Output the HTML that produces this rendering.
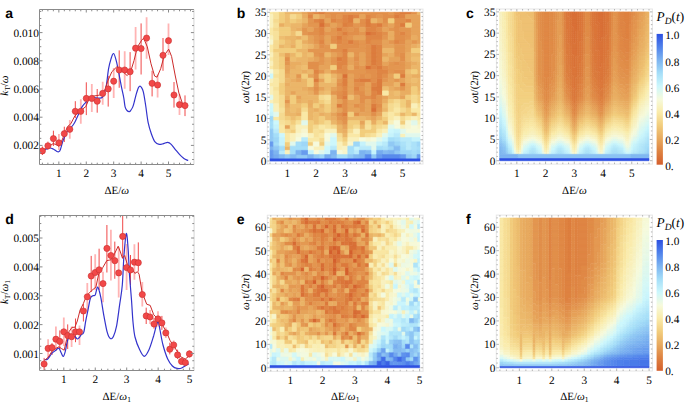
<!DOCTYPE html>
<html><head><meta charset="utf-8"><style>html,body{margin:0;padding:0;background:#fff;}svg{display:block}text{text-rendering:geometricPrecision}</style></head>
<body><svg width="685" height="411" viewBox="0 0 685 411">
<rect width="685" height="411" fill="#fff"/>
<svg x="39.5" y="9.5" width="154.40" height="155.00" viewBox="39.5 9.5 154.40 155.00" overflow="hidden">
<path d="M47.9 141.5V150.0M58.9 134.0V150.0M69.8 120.0V138.7M80.8 99.3V123.7M91.8 84.1V112.1M102.7 81.7V104.8M113.7 68.0V98.0M124.7 51.3V88.7M135.6 27.0V69.6M146.6 17.3V58.7M157.6 74.5V97.6M168.5 23.4V55.0M179.5 94.2V114.9" stroke="#ffb4b4" stroke-width="1.8"/>
<path d="M42.4 146.5V155.0M53.4 130.7V146.0M64.3 126.7V142.0M75.3 101.2V118.0M86.3 82.3V115.1M97.2 89.0V112.7M108.2 76.0V106.6M119.2 50.4V87.8M130.1 52.1V91.2M141.1 23.4V74.5M152.1 70.8V96.4M163.0 38.0V70.8M174.0 82.0V107.6M185.0 95.4V116.1" stroke="#f04848" stroke-width="1.0"/>
<path d="M40.5 152.5C41.0 152.2 42.4 151.3 43.4 150.7C44.4 150.1 45.6 149.4 46.7 149.0C47.8 148.6 48.9 148.0 50.0 148.0C51.1 148.0 52.1 148.5 53.2 149.0C54.3 149.5 55.6 150.7 56.5 151.2C57.4 151.7 58.1 152.1 58.7 151.8C59.4 151.5 59.8 151.2 60.4 149.6C61.0 147.9 61.9 144.1 62.6 141.9C63.3 139.7 64.0 138.2 64.8 136.4C65.6 134.6 66.5 132.4 67.5 131.0C68.5 129.6 69.7 128.9 70.8 127.7C71.9 126.5 73.0 125.3 74.1 123.5C75.2 121.7 75.9 119.8 77.3 117.0C78.7 114.2 80.6 109.2 82.2 106.6C83.8 104.0 85.7 102.6 87.0 101.2C88.3 99.8 88.9 98.7 90.1 98.1C91.3 97.5 92.7 97.5 94.0 97.5C95.3 97.5 96.6 98.0 98.0 98.0C99.4 98.0 101.1 98.5 102.2 97.5C103.3 96.5 104.0 94.1 104.7 92.0C105.4 89.9 105.9 88.5 106.5 84.7C107.1 80.9 107.8 73.4 108.5 69.1C109.2 64.8 110.2 61.5 111.0 58.9C111.8 56.3 112.7 53.2 113.6 53.5C114.5 53.8 115.3 57.4 116.2 60.6C117.1 63.8 117.9 68.2 118.7 72.5C119.5 76.8 120.5 81.8 121.3 86.1C122.1 90.3 123.2 94.5 123.8 98.0C124.4 101.5 124.6 104.8 125.1 106.9C125.6 109.0 126.3 109.7 127.0 110.5C127.7 111.3 128.7 111.8 129.4 111.7C130.1 111.6 130.4 110.8 131.0 110.0C131.6 109.2 132.2 108.4 132.8 106.9C133.4 105.4 133.9 103.3 134.5 101.0C135.1 98.7 135.9 95.2 136.6 92.9C137.3 90.7 137.9 88.6 138.5 87.5C139.1 86.4 139.5 86.1 140.0 86.1C140.5 86.1 140.9 86.5 141.5 87.5C142.1 88.5 142.7 89.2 143.4 92.1C144.1 95.0 144.8 100.0 145.6 105.0C146.4 110.0 147.1 117.4 148.1 122.3C149.1 127.2 150.3 130.9 151.5 134.2C152.7 137.5 153.7 140.2 155.0 141.9C156.3 143.6 157.8 144.1 159.2 144.4C160.6 144.7 162.1 143.9 163.5 143.6C164.9 143.3 166.4 142.3 167.7 142.4C169.0 142.5 169.9 143.2 171.2 144.4C172.5 145.6 174.0 147.9 175.4 149.6C176.8 151.3 178.3 153.2 179.7 154.7C181.1 156.2 182.5 157.4 183.9 158.4C185.3 159.4 187.5 160.2 188.2 160.6" fill="none" stroke="#3333cc" stroke-width="1.2" stroke-linejoin="round"/>
<path d="M42.4 151.2L45.6 148.5L49.5 146.0L53.2 143.6L56.0 144.5L59.0 146.3L60.9 143.0L63.1 137.5L65.3 132.0L67.5 126.6L70.8 123.8L74.9 115.8L81.0 110.3L85.8 106.6L88.9 99.3L91.9 96.3L98.0 95.4L101.6 94.5L105.3 89.0L107.7 81.1L111.9 71.7L117.0 66.6L119.6 68.3L123.8 72.5L127.2 75.6L130.6 71.7L134.0 60.6L137.4 47.0L141.7 40.2L143.6 38.2L147.3 46.8L151.0 63.8L154.6 76.0L157.0 77.2L160.7 68.7L164.3 55.3L168.7 49.2L171.6 56.5L175.3 76.0L178.9 93.0L182.6 103.9L185.0 106.4" fill="none" stroke="#cc2a2a" stroke-width="1.0" stroke-linejoin="round"/>
<circle cx="42.4" cy="150.9" r="3.1" fill="#f24848" stroke="#c83030" stroke-width="0.6"/>
<circle cx="47.9" cy="145.8" r="3.1" fill="#f24848" stroke="#c83030" stroke-width="0.6"/>
<circle cx="53.4" cy="138.6" r="3.1" fill="#f24848" stroke="#c83030" stroke-width="0.6"/>
<circle cx="58.9" cy="142.8" r="3.1" fill="#f24848" stroke="#c83030" stroke-width="0.6"/>
<circle cx="64.3" cy="133.7" r="3.1" fill="#f24848" stroke="#c83030" stroke-width="0.6"/>
<circle cx="69.8" cy="129.3" r="3.1" fill="#f24848" stroke="#c83030" stroke-width="0.6"/>
<circle cx="75.3" cy="111.3" r="3.1" fill="#f24848" stroke="#c83030" stroke-width="0.6"/>
<circle cx="80.8" cy="111.3" r="3.1" fill="#f24848" stroke="#c83030" stroke-width="0.6"/>
<circle cx="86.3" cy="98.4" r="3.1" fill="#f24848" stroke="#c83030" stroke-width="0.6"/>
<circle cx="91.8" cy="98.4" r="3.1" fill="#f24848" stroke="#c83030" stroke-width="0.6"/>
<circle cx="97.2" cy="101.2" r="3.1" fill="#f24848" stroke="#c83030" stroke-width="0.6"/>
<circle cx="102.7" cy="93.4" r="3.1" fill="#f24848" stroke="#c83030" stroke-width="0.6"/>
<circle cx="108.2" cy="88.9" r="3.1" fill="#f24848" stroke="#c83030" stroke-width="0.6"/>
<circle cx="113.7" cy="81.2" r="3.1" fill="#f24848" stroke="#c83030" stroke-width="0.6"/>
<circle cx="119.2" cy="70.0" r="3.1" fill="#f24848" stroke="#c83030" stroke-width="0.6"/>
<circle cx="124.7" cy="70.0" r="3.1" fill="#f24848" stroke="#c83030" stroke-width="0.6"/>
<circle cx="130.1" cy="71.7" r="3.1" fill="#f24848" stroke="#c83030" stroke-width="0.6"/>
<circle cx="135.6" cy="48.2" r="3.1" fill="#f24848" stroke="#c83030" stroke-width="0.6"/>
<circle cx="141.1" cy="48.5" r="3.1" fill="#f24848" stroke="#c83030" stroke-width="0.6"/>
<circle cx="146.6" cy="38.1" r="3.1" fill="#f24848" stroke="#c83030" stroke-width="0.6"/>
<circle cx="152.1" cy="83.3" r="3.1" fill="#f24848" stroke="#c83030" stroke-width="0.6"/>
<circle cx="157.6" cy="85.0" r="3.1" fill="#f24848" stroke="#c83030" stroke-width="0.6"/>
<circle cx="163.0" cy="55.3" r="3.1" fill="#f24848" stroke="#c83030" stroke-width="0.6"/>
<circle cx="168.5" cy="40.7" r="3.1" fill="#f24848" stroke="#c83030" stroke-width="0.6"/>
<circle cx="174.0" cy="95.0" r="3.1" fill="#f24848" stroke="#c83030" stroke-width="0.6"/>
<circle cx="179.5" cy="104.7" r="3.1" fill="#f24848" stroke="#c83030" stroke-width="0.6"/>
<circle cx="185.0" cy="105.6" r="3.1" fill="#f24848" stroke="#c83030" stroke-width="0.6"/>
</svg>
<path d="M193.90 9.50V164.50" stroke="#dcdcdc" stroke-width="1.2" fill="none"/>
<path d="M193.90 9.50H39.50V164.50H193.90" stroke="#8a8a8a" stroke-width="1" fill="none"/>
<path d="M42.40 164.50v-1.8M42.40 9.50v1.8M47.88 164.50v-1.8M47.88 9.50v1.8M53.37 164.50v-1.8M53.37 9.50v1.8M58.85 164.50v-3.0M58.85 9.50v3.0M64.33 164.50v-1.8M64.33 9.50v1.8M69.82 164.50v-1.8M69.82 9.50v1.8M75.30 164.50v-1.8M75.30 9.50v1.8M80.79 164.50v-1.8M80.79 9.50v1.8M86.27 164.50v-3.0M86.27 9.50v3.0M91.75 164.50v-1.8M91.75 9.50v1.8M97.24 164.50v-1.8M97.24 9.50v1.8M102.72 164.50v-1.8M102.72 9.50v1.8M108.21 164.50v-1.8M108.21 9.50v1.8M113.69 164.50v-3.0M113.69 9.50v3.0M119.17 164.50v-1.8M119.17 9.50v1.8M124.66 164.50v-1.8M124.66 9.50v1.8M130.14 164.50v-1.8M130.14 9.50v1.8M135.63 164.50v-1.8M135.63 9.50v1.8M141.11 164.50v-3.0M141.11 9.50v3.0M146.59 164.50v-1.8M146.59 9.50v1.8M152.08 164.50v-1.8M152.08 9.50v1.8M157.56 164.50v-1.8M157.56 9.50v1.8M163.05 164.50v-1.8M163.05 9.50v1.8M168.53 164.50v-3.0M168.53 9.50v3.0M174.01 164.50v-1.8M174.01 9.50v1.8M179.50 164.50v-1.8M179.50 9.50v1.8M184.98 164.50v-1.8M184.98 9.50v1.8M190.47 164.50v-1.8M190.47 9.50v1.8M39.50 159.50h1.8M193.90 159.50h-1.8M39.50 152.45h1.8M193.90 152.45h-1.8M39.50 145.40h3.0M193.90 145.40h-3.0M39.50 138.35h1.8M193.90 138.35h-1.8M39.50 131.30h1.8M193.90 131.30h-1.8M39.50 124.25h1.8M193.90 124.25h-1.8M39.50 117.20h3.0M193.90 117.20h-3.0M39.50 110.15h1.8M193.90 110.15h-1.8M39.50 103.10h1.8M193.90 103.10h-1.8M39.50 96.05h1.8M193.90 96.05h-1.8M39.50 89.00h3.0M193.90 89.00h-3.0M39.50 81.95h1.8M193.90 81.95h-1.8M39.50 74.90h1.8M193.90 74.90h-1.8M39.50 67.85h1.8M193.90 67.85h-1.8M39.50 60.80h3.0M193.90 60.80h-3.0M39.50 53.75h1.8M193.90 53.75h-1.8M39.50 46.70h1.8M193.90 46.70h-1.8M39.50 39.65h1.8M193.90 39.65h-1.8M39.50 32.60h3.0M193.90 32.60h-3.0M39.50 25.55h1.8M193.90 25.55h-1.8M39.50 18.50h1.8M193.90 18.50h-1.8M39.50 11.45h1.8M193.90 11.45h-1.8" stroke="#8a8a8a" stroke-width="1" fill="none"/>
<text x="58.85" y="177.10" font-size="11.3" text-anchor="middle" font-family='"Liberation Serif", serif' >1</text>
<text x="86.27" y="177.10" font-size="11.3" text-anchor="middle" font-family='"Liberation Serif", serif' >2</text>
<text x="113.69" y="177.10" font-size="11.3" text-anchor="middle" font-family='"Liberation Serif", serif' >3</text>
<text x="141.11" y="177.10" font-size="11.3" text-anchor="middle" font-family='"Liberation Serif", serif' >4</text>
<text x="168.53" y="177.10" font-size="11.3" text-anchor="middle" font-family='"Liberation Serif", serif' >5</text>
<text x="38.90" y="149.40" font-size="11.3" text-anchor="end" font-family='"Liberation Serif", serif' >0.002</text>
<text x="38.90" y="121.20" font-size="11.3" text-anchor="end" font-family='"Liberation Serif", serif' >0.004</text>
<text x="38.90" y="93.00" font-size="11.3" text-anchor="end" font-family='"Liberation Serif", serif' >0.006</text>
<text x="38.90" y="64.80" font-size="11.3" text-anchor="end" font-family='"Liberation Serif", serif' >0.008</text>
<text x="38.90" y="36.60" font-size="11.3" text-anchor="end" font-family='"Liberation Serif", serif' >0.010</text>
<svg x="39.5" y="215.5" width="154.60" height="155.00" viewBox="39.5 215.5 154.60 155.00" overflow="hidden">
<path d="M48.1 339.2V357.9M55.9 326.4V351.0M63.8 317.6V346.0M71.6 326.4V347.0M79.5 325.4V345.0M87.3 283.0V311.0M95.2 254.3V290.0M103.0 271.7V302.2M110.9 229.7V280.4M118.7 247.2V297.4M126.6 244.0V290.0M134.4 244.2V279.8M142.3 282.0V306.5M150.1 310.0V324.0M158.0 311.2V326.4M165.8 327.5V338.0M173.7 340.4V349.7M181.5 357.9V364.9M189.4 350.0V358.0" stroke="#ffb4b4" stroke-width="1.8"/>
<path d="M44.1 357.9V372.0M52.0 343.1V355.0M59.8 330.4V349.0M67.7 324.4V349.0M75.5 318.5V342.2M83.4 303.8V321.5M91.2 255.9V292.0M99.1 248.7V290.0M106.9 225.0V272.5M114.8 241.6V278.8M122.7 212.0V258.8M130.5 255.0V285.0M138.3 242.4V271.6M146.2 307.7V324.0M154.0 318.0V328.7M161.9 315.9V329.9M169.8 342.7V354.4M177.6 349.7V359.0M185.4 359.0V366.0" stroke="#f04848" stroke-width="1.0"/>
<path d="M44.6 359.7C45.1 359.6 46.5 360.1 47.7 359.0C48.9 357.9 50.6 354.6 52.0 353.1C53.4 351.6 54.8 351.0 55.9 350.2C57.0 349.4 57.9 347.7 58.8 348.2C59.7 348.7 60.6 351.7 61.3 353.1C62.0 354.5 62.6 356.7 63.2 356.5C63.8 356.3 64.4 354.5 65.1 352.1C65.8 349.8 66.4 345.0 67.1 342.4C67.8 339.8 68.2 337.8 69.0 336.6C69.8 335.4 70.9 334.9 72.0 335.0C73.1 335.1 74.5 336.3 75.4 337.0C76.3 337.7 76.7 338.9 77.3 339.0C77.9 339.1 78.6 338.2 79.3 337.5C80.0 336.8 80.5 335.5 81.2 334.6C81.9 333.8 83.0 334.6 83.7 332.4C84.5 330.1 85.0 324.8 85.7 321.1C86.4 317.4 87.2 313.8 88.0 310.0C88.8 306.2 89.6 300.6 90.4 298.2C91.2 295.8 92.0 296.3 92.8 295.8C93.6 295.3 94.4 296.4 95.2 295.0C96.0 293.6 96.8 286.7 97.7 287.1C98.6 287.5 99.8 292.5 100.8 297.4C101.8 302.3 102.9 310.6 104.0 316.4C105.1 322.2 106.2 328.5 107.2 332.2C108.2 335.9 109.2 337.8 110.3 338.5C111.3 339.2 112.5 338.3 113.5 336.2C114.5 334.1 115.5 331.3 116.6 325.9C117.6 320.5 118.8 310.5 119.8 303.7C120.8 296.9 121.6 293.1 122.3 285.0C123.0 276.9 123.3 263.6 124.0 255.0C124.7 246.4 125.6 234.3 126.3 233.5C127.0 232.7 127.7 243.1 128.2 250.0C128.7 256.9 128.9 266.7 129.5 275.0C130.1 283.3 130.9 292.2 131.5 300.0C132.1 307.8 132.4 315.8 133.0 322.0C133.6 328.2 133.9 332.4 135.0 337.0C136.1 341.6 138.1 346.5 139.7 349.7C141.2 352.9 142.8 356.3 144.3 356.3C145.9 356.3 147.4 353.1 149.0 349.7C150.6 346.3 152.4 339.8 153.7 335.7C154.9 331.6 155.7 327.3 156.5 325.0C157.3 322.7 157.7 320.9 158.3 321.7C158.9 322.5 159.2 326.1 160.0 330.0C160.8 333.9 161.7 340.2 163.0 345.0C164.3 349.8 166.1 355.5 167.7 359.0C169.3 362.5 170.8 364.4 172.4 366.0C174.0 367.6 175.4 368.1 177.0 368.4C178.6 368.7 179.8 368.8 181.7 368.0C183.6 367.2 187.5 364.4 188.7 363.7" fill="none" stroke="#3333cc" stroke-width="1.2" stroke-linejoin="round"/>
<path d="M44.6 360.3L48.3 357.2L52.0 351.2L55.4 348.7L58.8 346.8L61.7 348.7L64.2 350.2L66.6 339.5L69.0 331.7L72.0 327.3L74.9 327.3L77.3 321.0L80.1 310.0L83.3 303.7L86.5 295.8L91.2 291.0L95.9 287.1L98.7 274.0L102.7 267.7L106.8 260.6L111.0 259.8L114.5 253.8L118.2 246.2L120.4 252.0L122.4 258.0L124.7 255.5L127.2 264.0L131.5 268.3L134.9 273.4L137.4 271.7L139.1 274.2L142.0 292.0L146.7 304.2L150.2 305.4L153.7 314.7L158.3 319.4L161.9 324.0L166.5 332.2L170.0 340.4L174.7 347.4L180.5 356.7L185.2 359.0L189.9 355.5" fill="none" stroke="#cc2a2a" stroke-width="1.0" stroke-linejoin="round"/>
<circle cx="44.1" cy="364.0" r="3.1" fill="#f24848" stroke="#c83030" stroke-width="0.6"/>
<circle cx="48.1" cy="348.4" r="3.1" fill="#f24848" stroke="#c83030" stroke-width="0.6"/>
<circle cx="52.0" cy="347.6" r="3.1" fill="#f24848" stroke="#c83030" stroke-width="0.6"/>
<circle cx="55.9" cy="339.2" r="3.1" fill="#f24848" stroke="#c83030" stroke-width="0.6"/>
<circle cx="59.8" cy="341.4" r="3.1" fill="#f24848" stroke="#c83030" stroke-width="0.6"/>
<circle cx="63.8" cy="331.8" r="3.1" fill="#f24848" stroke="#c83030" stroke-width="0.6"/>
<circle cx="67.7" cy="335.6" r="3.1" fill="#f24848" stroke="#c83030" stroke-width="0.6"/>
<circle cx="71.6" cy="336.7" r="3.1" fill="#f24848" stroke="#c83030" stroke-width="0.6"/>
<circle cx="75.5" cy="331.8" r="3.1" fill="#f24848" stroke="#c83030" stroke-width="0.6"/>
<circle cx="79.5" cy="331.8" r="3.1" fill="#f24848" stroke="#c83030" stroke-width="0.6"/>
<circle cx="83.4" cy="311.0" r="3.1" fill="#f24848" stroke="#c83030" stroke-width="0.6"/>
<circle cx="87.3" cy="296.8" r="3.1" fill="#f24848" stroke="#c83030" stroke-width="0.6"/>
<circle cx="91.2" cy="276.0" r="3.1" fill="#f24848" stroke="#c83030" stroke-width="0.6"/>
<circle cx="95.2" cy="272.5" r="3.1" fill="#f24848" stroke="#c83030" stroke-width="0.6"/>
<circle cx="99.1" cy="269.8" r="3.1" fill="#f24848" stroke="#c83030" stroke-width="0.6"/>
<circle cx="103.0" cy="283.6" r="3.1" fill="#f24848" stroke="#c83030" stroke-width="0.6"/>
<circle cx="106.9" cy="248.4" r="3.1" fill="#f24848" stroke="#c83030" stroke-width="0.6"/>
<circle cx="110.9" cy="255.5" r="3.1" fill="#f24848" stroke="#c83030" stroke-width="0.6"/>
<circle cx="114.8" cy="260.7" r="3.1" fill="#f24848" stroke="#c83030" stroke-width="0.6"/>
<circle cx="118.7" cy="272.9" r="3.1" fill="#f24848" stroke="#c83030" stroke-width="0.6"/>
<circle cx="122.7" cy="236.4" r="3.1" fill="#f24848" stroke="#c83030" stroke-width="0.6"/>
<circle cx="126.6" cy="267.6" r="3.1" fill="#f24848" stroke="#c83030" stroke-width="0.6"/>
<circle cx="130.5" cy="270.0" r="3.1" fill="#f24848" stroke="#c83030" stroke-width="0.6"/>
<circle cx="134.4" cy="262.2" r="3.1" fill="#f24848" stroke="#c83030" stroke-width="0.6"/>
<circle cx="138.3" cy="262.7" r="3.1" fill="#f24848" stroke="#c83030" stroke-width="0.6"/>
<circle cx="142.3" cy="294.5" r="3.1" fill="#f24848" stroke="#c83030" stroke-width="0.6"/>
<circle cx="146.2" cy="315.9" r="3.1" fill="#f24848" stroke="#c83030" stroke-width="0.6"/>
<circle cx="150.1" cy="317.0" r="3.1" fill="#f24848" stroke="#c83030" stroke-width="0.6"/>
<circle cx="154.0" cy="324.0" r="3.1" fill="#f24848" stroke="#c83030" stroke-width="0.6"/>
<circle cx="158.0" cy="318.9" r="3.1" fill="#f24848" stroke="#c83030" stroke-width="0.6"/>
<circle cx="161.9" cy="322.9" r="3.1" fill="#f24848" stroke="#c83030" stroke-width="0.6"/>
<circle cx="165.8" cy="332.9" r="3.1" fill="#f24848" stroke="#c83030" stroke-width="0.6"/>
<circle cx="169.8" cy="349.2" r="3.1" fill="#f24848" stroke="#c83030" stroke-width="0.6"/>
<circle cx="173.7" cy="345.0" r="3.1" fill="#f24848" stroke="#c83030" stroke-width="0.6"/>
<circle cx="177.6" cy="354.9" r="3.1" fill="#f24848" stroke="#c83030" stroke-width="0.6"/>
<circle cx="181.5" cy="361.4" r="3.1" fill="#f24848" stroke="#c83030" stroke-width="0.6"/>
<circle cx="185.4" cy="362.6" r="3.1" fill="#f24848" stroke="#c83030" stroke-width="0.6"/>
<circle cx="189.4" cy="353.9" r="3.1" fill="#f24848" stroke="#c83030" stroke-width="0.6"/>
</svg>
<path d="M194.10 215.50V370.50" stroke="#dcdcdc" stroke-width="1.2" fill="none"/>
<path d="M194.10 215.50H39.50V370.50H194.10" stroke="#8a8a8a" stroke-width="1" fill="none"/>
<path d="M44.93 370.50v-1.8M44.93 215.50v1.8M51.22 370.50v-1.8M51.22 215.50v1.8M57.51 370.50v-1.8M57.51 215.50v1.8M63.80 370.50v-3.0M63.80 215.50v3.0M70.09 370.50v-1.8M70.09 215.50v1.8M76.38 370.50v-1.8M76.38 215.50v1.8M82.67 370.50v-1.8M82.67 215.50v1.8M88.96 370.50v-1.8M88.96 215.50v1.8M95.25 370.50v-3.0M95.25 215.50v3.0M101.54 370.50v-1.8M101.54 215.50v1.8M107.83 370.50v-1.8M107.83 215.50v1.8M114.12 370.50v-1.8M114.12 215.50v1.8M120.41 370.50v-1.8M120.41 215.50v1.8M126.70 370.50v-3.0M126.70 215.50v3.0M132.99 370.50v-1.8M132.99 215.50v1.8M139.28 370.50v-1.8M139.28 215.50v1.8M145.57 370.50v-1.8M145.57 215.50v1.8M151.86 370.50v-1.8M151.86 215.50v1.8M158.15 370.50v-3.0M158.15 215.50v3.0M164.44 370.50v-1.8M164.44 215.50v1.8M170.73 370.50v-1.8M170.73 215.50v1.8M177.02 370.50v-1.8M177.02 215.50v1.8M183.31 370.50v-1.8M183.31 215.50v1.8M189.60 370.50v-3.0M189.60 215.50v3.0M39.50 367.94h1.8M194.10 367.94h-1.8M39.50 360.72h1.8M194.10 360.72h-1.8M39.50 353.50h3.0M194.10 353.50h-3.0M39.50 346.28h1.8M194.10 346.28h-1.8M39.50 339.06h1.8M194.10 339.06h-1.8M39.50 331.84h1.8M194.10 331.84h-1.8M39.50 324.62h3.0M194.10 324.62h-3.0M39.50 317.41h1.8M194.10 317.41h-1.8M39.50 310.19h1.8M194.10 310.19h-1.8M39.50 302.97h1.8M194.10 302.97h-1.8M39.50 295.75h3.0M194.10 295.75h-3.0M39.50 288.53h1.8M194.10 288.53h-1.8M39.50 281.31h1.8M194.10 281.31h-1.8M39.50 274.09h1.8M194.10 274.09h-1.8M39.50 266.88h3.0M194.10 266.88h-3.0M39.50 259.66h1.8M194.10 259.66h-1.8M39.50 252.44h1.8M194.10 252.44h-1.8M39.50 245.22h1.8M194.10 245.22h-1.8M39.50 238.00h3.0M194.10 238.00h-3.0M39.50 230.78h1.8M194.10 230.78h-1.8M39.50 223.56h1.8M194.10 223.56h-1.8M39.50 216.34h1.8M194.10 216.34h-1.8" stroke="#8a8a8a" stroke-width="1" fill="none"/>
<text x="63.80" y="383.10" font-size="11.3" text-anchor="middle" font-family='"Liberation Serif", serif' >1</text>
<text x="95.25" y="383.10" font-size="11.3" text-anchor="middle" font-family='"Liberation Serif", serif' >2</text>
<text x="126.70" y="383.10" font-size="11.3" text-anchor="middle" font-family='"Liberation Serif", serif' >3</text>
<text x="158.15" y="383.10" font-size="11.3" text-anchor="middle" font-family='"Liberation Serif", serif' >4</text>
<text x="189.60" y="383.10" font-size="11.3" text-anchor="middle" font-family='"Liberation Serif", serif' >5</text>
<text x="38.90" y="357.50" font-size="11.3" text-anchor="end" font-family='"Liberation Serif", serif' >0.001</text>
<text x="38.90" y="328.62" font-size="11.3" text-anchor="end" font-family='"Liberation Serif", serif' >0.002</text>
<text x="38.90" y="299.75" font-size="11.3" text-anchor="end" font-family='"Liberation Serif", serif' >0.003</text>
<text x="38.90" y="270.88" font-size="11.3" text-anchor="end" font-family='"Liberation Serif", serif' >0.004</text>
<text x="38.90" y="242.00" font-size="11.3" text-anchor="end" font-family='"Liberation Serif", serif' >0.005</text>
<g transform="matrix(2.88462 0 0 -2.12429 270.000 161.000)"><path fill="#d97037" stroke="#d97037" stroke-width="0.3" d="M35 23h2v2h-2zM25 39h2v2h-2zM33 43h2v2h-2zM33 59h2v2h-2zM17 63h2v2h-2z"/><path fill="#dc7c3e" stroke="#dc7c3e" stroke-width="0.3" d="M23 25h2v2h-2zM35 25h2v2h-2zM25 29h2v2h-2zM37 31h2v2h-2zM35 33h4v2h-4zM37 35h2v2h-2zM45 35h2v2h-2zM15 37h2v2h-2zM31 37h4v2h-4zM37 37h2v2h-2zM45 39h2v2h-2zM37 43h2v2h-2zM35 45h2v2h-2zM23 47h2v2h-2zM35 47h2v2h-2zM35 49h2v2h-2zM35 51h2v2h-2zM35 53h2v2h-2zM27 55h2v2h-2zM23 57h2v2h-2zM35 59h2v2h-2zM23 61h2v2h-2zM33 63h2v2h-2zM37 63h2v2h-2zM45 63h2v2h-2zM17 65h2v2h-2zM27 65h2v2h-2zM33 65h2v2h-2zM27 67h2v2h-2zM43 67h2v2h-2zM17 69h2v1h-2zM45 69h4v1h-4z"/><path fill="#dd7f3f" stroke="#dd7f3f" stroke-width="0.3" d="M25 21h2v2h-2zM25 35h2v2h-2zM25 37h2v2h-2zM25 51h2v2h-2zM25 59h2v2h-2zM25 63h2v2h-2z"/><path fill="#df8544" stroke="#df8544" stroke-width="0.3" d="M35 29h2v2h-2zM25 31h2v2h-2zM35 31h2v2h-2zM29 33h2v2h-2zM35 35h2v2h-2zM29 37h2v2h-2zM37 39h2v2h-2zM15 41h2v2h-2zM37 41h4v2h-4zM23 43h2v2h-2zM35 43h2v2h-2zM23 45h4v2h-4zM37 45h2v2h-2zM25 47h2v2h-2zM37 47h2v2h-2zM25 49h2v2h-2zM37 49h2v2h-2zM37 51h2v2h-2zM37 53h2v2h-2zM17 55h2v2h-2zM23 55h2v2h-2zM33 55h2v2h-2zM43 55h2v2h-2zM33 57h6v2h-6zM17 59h2v2h-2zM37 59h2v2h-2zM45 59h2v2h-2zM17 61h2v2h-2zM33 61h4v2h-4zM27 63h2v2h-2zM35 63h2v2h-2zM15 65h2v2h-2zM21 65h2v2h-2zM25 65h2v2h-2zM47 65h2v2h-2zM13 67h2v2h-2zM25 67h2v2h-2zM29 67h2v2h-2zM33 67h2v2h-2zM45 67h2v2h-2zM15 69h2v1h-2zM43 69h2v1h-2z"/><path fill="#e08946" stroke="#e08946" stroke-width="0.3" d="M25 33h2v2h-2z"/><path fill="#e18f4b" stroke="#e18f4b" stroke-width="0.3" d="M25 19h2v2h-2zM23 21h2v2h-2zM29 21h2v2h-2zM35 21h2v2h-2zM25 23h2v2h-2zM25 25h2v2h-2zM29 25h2v2h-2zM37 25h2v2h-2zM25 27h2v2h-2zM31 27h2v2h-2zM35 27h2v2h-2zM23 29h2v2h-2zM31 29h4v2h-4zM23 31h2v2h-2zM29 31h4v2h-4zM15 33h2v2h-2zM23 35h2v2h-2zM29 35h4v2h-4zM35 37h2v2h-2zM15 39h2v2h-2zM31 39h2v2h-2zM35 39h2v2h-2zM39 39h2v2h-2zM23 41h4v2h-4zM33 41h4v2h-4zM43 41h4v2h-4zM13 43h4v2h-4zM25 43h2v2h-2zM29 43h2v2h-2zM39 43h2v2h-2zM13 45h4v2h-4zM33 45h2v2h-2zM43 45h2v2h-2zM5 47h2v2h-2zM29 47h2v2h-2zM33 47h2v2h-2zM45 47h2v2h-2zM17 49h2v2h-2zM33 49h2v2h-2zM45 49h2v2h-2zM21 51h4v2h-4zM33 51h2v2h-2zM17 53h2v2h-2zM23 53h8v2h-8zM33 53h2v2h-2zM21 55h2v2h-2zM25 55h2v2h-2zM29 55h2v2h-2zM35 55h4v2h-4zM45 55h2v2h-2zM17 57h2v2h-2zM21 57h2v2h-2zM25 57h2v2h-2zM43 57h4v2h-4zM13 59h4v2h-4zM23 59h2v2h-2zM27 59h4v2h-4zM39 59h2v2h-2zM43 59h2v2h-2zM15 61h2v2h-2zM25 61h2v2h-2zM29 61h2v2h-2zM37 61h2v2h-2zM43 61h2v2h-2zM19 63h2v2h-2zM31 63h2v2h-2zM43 63h2v2h-2zM23 65h2v2h-2zM31 65h2v2h-2zM39 65h2v2h-2zM43 65h4v2h-4zM21 67h2v2h-2zM35 67h2v2h-2zM39 67h4v2h-4zM13 69h2v1h-2zM19 69h22v1h-22zM49 69h2v1h-2z"/><path fill="#e2934e" stroke="#e2934e" stroke-width="0.3" d="M25 17h2v2h-2z"/><path fill="#e39650" stroke="#e39650" stroke-width="0.3" d="M23 19h2v2h-2zM31 23h2v2h-2zM37 23h2v2h-2zM31 25h2v2h-2zM5 27h2v2h-2zM37 27h2v2h-2zM37 29h2v2h-2zM15 31h2v2h-2zM21 31h2v2h-2zM23 33h2v2h-2zM31 33h2v2h-2zM45 33h2v2h-2zM15 35h2v2h-2zM23 37h2v2h-2zM39 37h2v2h-2zM43 37h2v2h-2zM9 39h2v2h-2zM29 39h2v2h-2zM33 39h2v2h-2zM17 41h2v2h-2zM21 41h2v2h-2zM27 41h6v2h-6zM41 41h2v2h-2zM31 43h2v2h-2zM41 43h6v2h-6zM5 45h2v2h-2zM17 45h2v2h-2zM21 45h2v2h-2zM29 45h2v2h-2zM41 45h2v2h-2zM45 45h2v2h-2zM17 47h2v2h-2zM21 47h2v2h-2zM15 49h2v2h-2zM23 49h2v2h-2zM29 49h2v2h-2zM43 49h2v2h-2zM13 51h8v2h-8zM27 51h6v2h-6zM43 51h4v2h-4zM19 53h2v2h-2zM31 53h2v2h-2zM43 53h4v2h-4zM15 55h2v2h-2zM31 55h2v2h-2zM41 55h2v2h-2zM49 55h2v2h-2zM15 57h2v2h-2zM27 57h2v2h-2zM39 57h2v2h-2zM47 57h2v2h-2zM11 59h2v2h-2zM19 59h4v2h-4zM31 59h2v2h-2zM47 59h2v2h-2zM11 61h2v2h-2zM21 61h2v2h-2zM27 61h2v2h-2zM41 61h2v2h-2zM45 61h4v2h-4zM13 63h4v2h-4zM23 63h2v2h-2zM29 63h2v2h-2zM39 63h2v2h-2zM13 65h2v2h-2zM19 67h2v2h-2zM23 67h2v2h-2zM37 67h2v2h-2zM41 69h2v1h-2z"/><path fill="#e6a35a" stroke="#e6a35a" stroke-width="0.3" d="M5 15h2v2h-2zM25 15h2v2h-2zM23 17h2v2h-2zM31 17h2v2h-2zM35 19h2v2h-2zM21 21h2v2h-2zM31 21h4v2h-4zM37 21h2v2h-2zM23 23h2v2h-2zM27 23h4v2h-4zM33 23h2v2h-2zM27 25h2v2h-2zM33 25h2v2h-2zM23 27h2v2h-2zM27 27h4v2h-4zM33 27h2v2h-2zM9 29h2v2h-2zM29 29h2v2h-2zM39 29h2v2h-2zM45 29h2v2h-2zM7 31h2v2h-2zM27 31h2v2h-2zM33 31h2v2h-2zM13 33h2v2h-2zM17 33h2v2h-2zM21 33h2v2h-2zM27 33h2v2h-2zM33 33h2v2h-2zM43 33h2v2h-2zM27 35h2v2h-2zM33 35h2v2h-2zM39 35h4v2h-4zM9 37h2v2h-2zM17 37h2v2h-2zM27 37h2v2h-2zM41 37h2v2h-2zM45 37h2v2h-2zM13 39h2v2h-2zM23 39h2v2h-2zM27 39h2v2h-2zM41 39h2v2h-2zM5 41h2v2h-2zM5 43h2v2h-2zM17 43h4v2h-4zM47 43h2v2h-2zM19 45h2v2h-2zM27 45h2v2h-2zM31 45h2v2h-2zM39 45h2v2h-2zM47 45h2v2h-2zM15 47h2v2h-2zM19 47h2v2h-2zM27 47h2v2h-2zM31 47h2v2h-2zM41 47h4v2h-4zM5 49h2v2h-2zM21 49h2v2h-2zM31 49h2v2h-2zM39 49h2v2h-2zM47 51h2v2h-2zM15 53h2v2h-2zM39 53h4v2h-4zM47 53h2v2h-2zM13 55h2v2h-2zM19 55h2v2h-2zM39 55h2v2h-2zM47 55h2v2h-2zM51 55h1v2h-1zM13 57h2v2h-2zM19 57h2v2h-2zM29 57h4v2h-4zM51 57h1v2h-1zM49 59h3v2h-3zM13 61h2v2h-2zM19 61h2v2h-2zM31 61h2v2h-2zM39 61h2v2h-2zM49 61h3v2h-3zM11 63h2v2h-2zM21 63h2v2h-2zM41 63h2v2h-2zM49 63h3v2h-3zM19 65h2v2h-2zM37 65h2v2h-2zM49 65h3v2h-3zM17 67h2v2h-2zM31 67h2v2h-2zM47 67h5v2h-5zM11 69h2v1h-2z"/><path fill="#e9ad62" stroke="#e9ad62" stroke-width="0.3" d="M25 13h2v2h-2zM35 17h2v2h-2zM21 19h2v2h-2zM33 19h2v2h-2zM9 21h2v2h-2zM17 21h2v2h-2zM15 23h2v2h-2zM5 25h2v2h-2zM13 25h2v2h-2zM9 27h2v2h-2zM13 27h2v2h-2zM39 27h2v2h-2zM5 29h2v2h-2zM13 31h2v2h-2zM45 31h4v2h-4zM11 33h2v2h-2zM41 33h2v2h-2zM47 33h2v2h-2zM5 35h2v2h-2zM47 35h2v2h-2zM7 37h2v2h-2zM5 39h2v2h-2zM49 39h3v2h-3zM11 41h2v2h-2zM19 41h2v2h-2zM7 43h2v2h-2zM27 43h2v2h-2zM7 45h4v2h-4zM49 45h2v2h-2zM13 47h2v2h-2zM47 47h2v2h-2zM41 49h2v2h-2zM47 49h2v2h-2zM7 53h2v2h-2zM49 53h2v2h-2zM11 55h2v2h-2zM9 57h2v2h-2zM41 57h2v2h-2zM49 57h2v2h-2zM41 59h2v2h-2zM9 61h2v2h-2zM3 63h2v2h-2zM11 67h2v2h-2z"/><path fill="#ebb669" stroke="#ebb669" stroke-width="0.3" d="M5 5h2v2h-2zM25 11h2v2h-2zM23 13h2v2h-2zM23 15h2v2h-2zM31 15h2v2h-2zM21 17h2v2h-2zM39 17h2v2h-2zM13 19h2v2h-2zM19 19h2v2h-2zM27 19h6v2h-6zM37 19h2v2h-2zM5 21h4v2h-4zM13 21h2v2h-2zM19 21h2v2h-2zM45 21h2v2h-2zM49 21h2v2h-2zM5 23h2v2h-2zM9 23h2v2h-2zM13 23h2v2h-2zM21 23h2v2h-2zM39 23h2v2h-2zM17 25h2v2h-2zM21 25h2v2h-2zM47 25h2v2h-2zM11 27h2v2h-2zM15 27h2v2h-2zM21 27h2v2h-2zM47 27h2v2h-2zM11 29h6v2h-6zM21 29h2v2h-2zM41 29h4v2h-4zM5 31h2v2h-2zM9 31h4v2h-4zM17 31h2v2h-2zM41 31h2v2h-2zM5 33h6v2h-6zM19 33h2v2h-2zM51 33h1v2h-1zM7 35h6v2h-6zM17 35h6v2h-6zM43 35h2v2h-2zM49 35h3v2h-3zM5 37h2v2h-2zM11 37h2v2h-2zM47 37h2v2h-2zM51 37h1v2h-1zM7 39h2v2h-2zM21 39h2v2h-2zM47 39h2v2h-2zM7 41h4v2h-4zM13 41h2v2h-2zM51 41h1v2h-1zM9 43h2v2h-2zM49 43h3v2h-3zM11 45h2v2h-2zM51 45h1v2h-1zM9 47h4v2h-4zM39 47h2v2h-2zM7 49h2v2h-2zM11 49h2v2h-2zM19 49h2v2h-2zM27 49h2v2h-2zM49 49h3v2h-3zM9 51h4v2h-4zM39 51h4v2h-4zM3 53h2v2h-2zM13 53h2v2h-2zM51 53h1v2h-1zM7 55h2v2h-2zM5 57h4v2h-4zM7 61h2v2h-2zM7 63h4v2h-4zM11 65h2v2h-2zM29 65h2v2h-2zM35 65h2v2h-2zM15 67h2v2h-2zM5 69h6v1h-6zM51 69h1v1h-1z"/><path fill="#eebe70" stroke="#eebe70" stroke-width="0.3" d="M15 17h2v2h-2zM7 19h2v2h-2zM15 19h2v2h-2zM15 21h2v2h-2zM7 23h2v2h-2zM17 23h2v2h-2zM7 25h4v2h-4zM39 25h2v2h-2zM27 29h2v2h-2zM19 31h2v2h-2zM43 31h2v2h-2zM51 31h1v2h-1zM39 33h2v2h-2zM21 37h2v2h-2zM49 37h2v2h-2zM17 39h2v2h-2zM47 41h2v2h-2zM11 43h2v2h-2zM7 47h2v2h-2zM49 47h3v2h-3zM3 49h2v2h-2zM13 49h2v2h-2zM5 53h2v2h-2zM11 53h2v2h-2zM5 55h2v2h-2zM3 57h2v2h-2zM11 57h2v2h-2zM7 59h2v2h-2zM5 63h2v2h-2zM5 65h2v2h-2zM5 67h2v2h-2z"/><path fill="#efc173" stroke="#efc173" stroke-width="0.3" d="M9 65h2v2h-2z"/><path fill="#f2cd7d" stroke="#f2cd7d" stroke-width="0.3" d="M5 7h2v2h-2zM13 7h2v2h-2zM17 7h2v2h-2zM25 9h2v2h-2zM31 11h2v2h-2zM7 13h2v2h-2zM13 13h2v2h-2zM31 13h6v2h-6zM13 15h2v2h-2zM27 15h2v2h-2zM35 15h2v2h-2zM7 17h2v2h-2zM13 17h2v2h-2zM17 17h2v2h-2zM27 17h4v2h-4zM37 17h2v2h-2zM45 17h2v2h-2zM5 19h2v2h-2zM9 19h2v2h-2zM17 19h2v2h-2zM39 19h2v2h-2zM27 21h2v2h-2zM47 21h2v2h-2zM19 23h2v2h-2zM47 23h2v2h-2zM11 25h2v2h-2zM15 25h2v2h-2zM19 25h2v2h-2zM45 25h2v2h-2zM7 27h2v2h-2zM17 27h2v2h-2zM41 27h2v2h-2zM45 27h2v2h-2zM51 27h1v2h-1zM7 29h2v2h-2zM47 29h2v2h-2zM51 29h1v2h-1zM3 31h2v2h-2zM49 31h2v2h-2zM3 33h2v2h-2zM49 33h2v2h-2zM3 35h2v2h-2zM13 35h2v2h-2zM13 37h2v2h-2zM19 37h2v2h-2zM11 39h2v2h-2zM19 39h2v2h-2zM43 39h2v2h-2zM49 41h2v2h-2zM3 43h2v2h-2zM21 43h2v2h-2zM3 45h2v2h-2zM3 47h2v2h-2zM9 49h2v2h-2zM1 51h8v2h-8zM49 51h3v2h-3zM9 53h2v2h-2zM21 53h2v2h-2zM3 55h2v2h-2zM9 55h2v2h-2zM3 59h4v2h-4zM3 61h4v2h-4zM47 63h2v2h-2zM3 65h2v2h-2zM7 65h2v2h-2zM41 65h2v2h-2zM3 67h2v2h-2zM9 67h2v2h-2zM3 69h2v1h-2z"/><path fill="#f5da90" stroke="#f5da90" stroke-width="0.3" d="M17 9h2v2h-2zM23 11h2v2h-2zM33 11h2v2h-2zM5 13h2v2h-2zM17 13h2v2h-2zM27 13h2v2h-2zM7 15h2v2h-2zM15 15h2v2h-2zM21 15h2v2h-2zM29 15h2v2h-2zM37 15h2v2h-2zM5 17h2v2h-2zM19 17h2v2h-2zM33 17h2v2h-2zM3 19h2v2h-2zM45 19h2v2h-2zM3 21h2v2h-2zM39 21h2v2h-2zM43 21h2v2h-2zM11 23h2v2h-2zM41 23h2v2h-2zM45 23h2v2h-2zM3 25h2v2h-2zM41 25h2v2h-2zM3 27h2v2h-2zM19 27h2v2h-2zM43 27h2v2h-2zM49 27h2v2h-2zM3 29h2v2h-2zM17 29h2v2h-2zM49 29h2v2h-2zM3 37h2v2h-2zM3 39h2v2h-2zM3 41h2v2h-2zM1 43h2v2h-2zM1 45h2v2h-2zM1 47h2v2h-2zM1 49h2v2h-2zM1 53h2v2h-2zM1 55h2v2h-2zM9 59h2v2h-2zM1 61h2v2h-2zM1 65h2v2h-2zM7 67h2v2h-2z"/><path fill="#f6dc94" stroke="#f6dc94" stroke-width="0.3" d="M25 7h2v2h-2z"/><path fill="#f7e19b" stroke="#f7e19b" stroke-width="0.3" d="M23 9h2v2h-2zM15 11h2v2h-2zM35 11h2v2h-2zM15 13h2v2h-2zM19 15h2v2h-2zM33 15h2v2h-2zM39 15h2v2h-2zM3 17h2v2h-2zM9 17h2v2h-2zM51 21h1v2h-1zM3 23h2v2h-2zM43 25h2v2h-2zM51 25h1v2h-1zM19 29h2v2h-2zM1 33h2v2h-2zM1 39h2v2h-2zM1 57h2v2h-2zM1 59h2v2h-2zM1 63h2v2h-2zM1 67h2v2h-2zM1 69h2v1h-2z"/><path fill="#f9e8a6" stroke="#f9e8a6" stroke-width="0.3" d="M5 9h2v2h-2zM13 9h4v2h-4zM5 11h2v2h-2zM17 11h2v2h-2zM27 11h4v2h-4zM3 13h2v2h-2zM37 13h2v2h-2zM3 15h2v2h-2zM17 15h2v2h-2zM1 19h2v2h-2zM11 19h2v2h-2zM41 19h2v2h-2zM47 19h2v2h-2zM51 19h1v2h-1zM11 21h2v2h-2zM41 21h2v2h-2zM43 23h2v2h-2zM49 23h3v2h-3zM1 27h2v2h-2zM1 29h2v2h-2zM1 31h2v2h-2zM39 31h2v2h-2zM0 35h3v2h-3zM1 37h2v2h-2zM1 41h2v2h-2zM0 43h1v2h-1zM0 47h1v2h-1zM0 51h1v2h-1zM0 53h1v2h-1zM0 59h1v2h-1zM0 61h1v2h-1zM0 69h1v1h-1z"/><path fill="#f9f0bb" stroke="#f9f0bb" stroke-width="0.3" d="M5 3h2v2h-2zM15 5h4v2h-4zM23 5h2v2h-2zM23 7h2v2h-2zM7 9h2v2h-2zM27 9h4v2h-4zM7 11h2v2h-2zM13 11h2v2h-2zM37 11h2v2h-2zM45 11h2v2h-2zM9 13h2v2h-2zM19 13h4v2h-4zM29 13h2v2h-2zM39 13h2v2h-2zM9 15h4v2h-4zM45 15h2v2h-2zM41 17h2v2h-2zM51 17h1v2h-1zM43 19h2v2h-2zM49 19h2v2h-2zM1 23h2v2h-2zM1 25h2v2h-2zM49 25h2v2h-2zM0 27h1v2h-1zM0 31h1v2h-1zM0 33h1v2h-1zM0 37h1v2h-1zM0 45h1v2h-1zM0 49h1v2h-1zM0 57h1v2h-1zM0 63h1v2h-1zM0 65h1v2h-1zM0 67h1v2h-1z"/><path fill="#f8f2c3" stroke="#f8f2c3" stroke-width="0.3" d="M25 5h2v2h-2z"/><path fill="#f7f5cb" stroke="#f7f5cb" stroke-width="0.3" d="M25 3h2v2h-2z"/><path fill="#f7f6d0" stroke="#f7f6d0" stroke-width="0.3" d="M27 7h2v2h-2zM33 9h2v2h-2zM9 11h2v2h-2zM11 13h2v2h-2zM47 15h2v2h-2zM51 15h1v2h-1zM47 17h2v2h-2zM0 55h1v2h-1z"/><path fill="#f6fadc" stroke="#f6fadc" stroke-width="0.3" d="M15 3h2v2h-2zM23 3h2v2h-2zM13 5h2v2h-2zM15 7h2v2h-2zM9 9h2v2h-2zM19 9h2v2h-2zM31 9h2v2h-2zM35 9h2v2h-2zM11 11h2v2h-2zM19 11h2v2h-2zM47 13h5v2h-5zM43 15h2v2h-2zM49 15h2v2h-2zM43 17h2v2h-2zM0 41h1v2h-1z"/><path fill="#e1f8ec" stroke="#e1f8ec" stroke-width="0.3" d="M17 3h2v2h-2zM35 5h2v2h-2zM7 7h2v2h-2zM19 7h2v2h-2zM33 7h4v2h-4zM37 9h2v2h-2zM21 11h2v2h-2zM39 11h2v2h-2zM47 11h5v2h-5zM45 13h2v2h-2zM41 15h2v2h-2zM11 17h2v2h-2zM49 17h2v2h-2zM1 21h2v2h-2zM0 29h1v2h-1z"/><path fill="#cdf7fc" stroke="#cdf7fc" stroke-width="0.3" d="M19 3h2v2h-2zM19 5h2v2h-2zM21 7h2v2h-2zM21 9h2v2h-2zM39 9h2v2h-2zM3 11h2v2h-2zM41 13h2v2h-2zM1 17h2v2h-2zM0 23h1v2h-1zM0 25h1v2h-1zM0 39h1v2h-1z"/><path fill="#c6f3fb" stroke="#c6f3fb" stroke-width="0.3" d="M13 3h2v2h-2zM35 3h2v2h-2zM29 5h2v2h-2zM3 7h2v2h-2zM31 7h2v2h-2zM37 7h2v2h-2zM3 9h2v2h-2zM49 9h3v2h-3zM41 11h2v2h-2zM43 13h2v2h-2zM1 15h2v2h-2zM0 21h1v2h-1z"/><path fill="#b9eafa" stroke="#b9eafa" stroke-width="0.3" d="M3 3h2v2h-2zM29 3h2v2h-2zM21 5h2v2h-2zM31 5h4v2h-4zM47 5h2v2h-2zM39 7h2v2h-2zM47 7h2v2h-2zM11 9h2v2h-2zM45 9h4v2h-4zM43 11h2v2h-2zM1 13h2v2h-2z"/><path fill="#ace2f9" stroke="#ace2f9" stroke-width="0.3" d="M39 5h2v2h-2zM49 5h2v2h-2zM45 7h2v2h-2zM49 7h2v2h-2zM43 9h2v2h-2z"/><path fill="#a5def8" stroke="#a5def8" stroke-width="0.3" d="M23 1h4v2h-4zM7 3h2v2h-2zM27 3h2v2h-2zM49 3h2v2h-2zM3 5h2v2h-2zM7 5h6v2h-6zM27 5h2v2h-2zM37 5h2v2h-2zM45 5h2v2h-2zM51 5h1v2h-1zM1 7h2v2h-2zM9 7h2v2h-2zM41 9h2v2h-2zM1 11h2v2h-2zM0 15h1v2h-1zM0 17h1v2h-1z"/><path fill="#9ed7f7" stroke="#9ed7f7" stroke-width="0.3" d="M17 1h2v2h-2zM49 1h2v2h-2zM45 3h4v2h-4zM51 3h1v2h-1zM41 5h2v2h-2zM11 7h2v2h-2zM29 7h2v2h-2zM43 7h2v2h-2zM51 7h1v2h-1zM1 9h2v2h-2zM0 19h1v2h-1z"/><path fill="#91c9f4" stroke="#91c9f4" stroke-width="0.3" d="M5 1h2v2h-2zM9 1h4v2h-4zM15 1h2v2h-2zM27 1h2v2h-2zM35 1h2v2h-2zM47 1h2v2h-2zM43 3h2v2h-2zM1 5h2v2h-2zM41 7h2v2h-2zM0 9h1v2h-1zM0 11h1v2h-1zM0 13h1v2h-1z"/><path fill="#84bbf1" stroke="#84bbf1" stroke-width="0.3" d="M3 1h2v2h-2zM7 1h2v2h-2zM21 1h2v2h-2zM29 1h2v2h-2zM33 3h2v2h-2zM39 3h2v2h-2zM43 5h2v2h-2z"/><path fill="#7db4f0" stroke="#7db4f0" stroke-width="0.3" d="M13 1h2v2h-2zM31 1h2v2h-2zM1 3h2v2h-2zM9 3h2v2h-2zM21 3h2v2h-2zM31 3h2v2h-2zM41 3h2v2h-2zM0 5h1v2h-1z"/><path fill="#76acef" stroke="#76acef" stroke-width="0.3" d="M1 1h2v2h-2zM19 1h2v2h-2zM37 3h2v2h-2z"/><path fill="#679bee" stroke="#679bee" stroke-width="0.3" d="M0 1h1v2h-1zM37 1h2v2h-2zM45 1h2v2h-2zM51 1h1v2h-1zM0 3h1v2h-1zM11 3h2v2h-2zM0 7h1v2h-1z"/><path fill="#588aec" stroke="#588aec" stroke-width="0.3" d="M33 1h2v2h-2zM39 1h6v2h-6z"/><path fill="#2d50e1" stroke="#2d50e1" stroke-width="0.3" d="M0 0h52v1h-52z"/></g>
<rect x="267.30" y="9.10" width="155.70" height="154.90" fill="none" stroke="#e6e6e6" stroke-width="1"/>
<path d="M270.00 164.00v-1.5M270.00 9.10v1.5M275.77 164.00v-1.5M275.77 9.10v1.5M281.54 164.00v-1.5M281.54 9.10v1.5M287.31 164.00v-2.6M287.31 9.10v2.6M293.08 164.00v-1.5M293.08 9.10v1.5M298.85 164.00v-1.5M298.85 9.10v1.5M304.62 164.00v-1.5M304.62 9.10v1.5M310.38 164.00v-1.5M310.38 9.10v1.5M316.15 164.00v-2.6M316.15 9.10v2.6M321.92 164.00v-1.5M321.92 9.10v1.5M327.69 164.00v-1.5M327.69 9.10v1.5M333.46 164.00v-1.5M333.46 9.10v1.5M339.23 164.00v-1.5M339.23 9.10v1.5M345.00 164.00v-2.6M345.00 9.10v2.6M350.77 164.00v-1.5M350.77 9.10v1.5M356.54 164.00v-1.5M356.54 9.10v1.5M362.31 164.00v-1.5M362.31 9.10v1.5M368.08 164.00v-1.5M368.08 9.10v1.5M373.85 164.00v-2.6M373.85 9.10v2.6M379.62 164.00v-1.5M379.62 9.10v1.5M385.38 164.00v-1.5M385.38 9.10v1.5M391.15 164.00v-1.5M391.15 9.10v1.5M396.92 164.00v-1.5M396.92 9.10v1.5M402.69 164.00v-2.6M402.69 9.10v2.6M408.46 164.00v-1.5M408.46 9.10v1.5M414.23 164.00v-1.5M414.23 9.10v1.5M420.00 164.00v-1.5M420.00 9.10v1.5M267.30 161.00h2.6M423.00 161.00h-2.6M267.30 156.75h1.5M423.00 156.75h-1.5M267.30 152.50h1.5M423.00 152.50h-1.5M267.30 148.25h1.5M423.00 148.25h-1.5M267.30 144.01h1.5M423.00 144.01h-1.5M267.30 139.76h2.6M423.00 139.76h-2.6M267.30 135.51h1.5M423.00 135.51h-1.5M267.30 131.26h1.5M423.00 131.26h-1.5M267.30 127.01h1.5M423.00 127.01h-1.5M267.30 122.76h1.5M423.00 122.76h-1.5M267.30 118.51h2.6M423.00 118.51h-2.6M267.30 114.27h1.5M423.00 114.27h-1.5M267.30 110.02h1.5M423.00 110.02h-1.5M267.30 105.77h1.5M423.00 105.77h-1.5M267.30 101.52h1.5M423.00 101.52h-1.5M267.30 97.27h2.6M423.00 97.27h-2.6M267.30 93.02h1.5M423.00 93.02h-1.5M267.30 88.77h1.5M423.00 88.77h-1.5M267.30 84.53h1.5M423.00 84.53h-1.5M267.30 80.28h1.5M423.00 80.28h-1.5M267.30 76.03h2.6M423.00 76.03h-2.6M267.30 71.78h1.5M423.00 71.78h-1.5M267.30 67.53h1.5M423.00 67.53h-1.5M267.30 63.28h1.5M423.00 63.28h-1.5M267.30 59.03h1.5M423.00 59.03h-1.5M267.30 54.79h2.6M423.00 54.79h-2.6M267.30 50.54h1.5M423.00 50.54h-1.5M267.30 46.29h1.5M423.00 46.29h-1.5M267.30 42.04h1.5M423.00 42.04h-1.5M267.30 37.79h1.5M423.00 37.79h-1.5M267.30 33.54h2.6M423.00 33.54h-2.6M267.30 29.29h1.5M423.00 29.29h-1.5M267.30 25.05h1.5M423.00 25.05h-1.5M267.30 20.80h1.5M423.00 20.80h-1.5M267.30 16.55h1.5M423.00 16.55h-1.5M267.30 12.30h2.6M423.00 12.30h-2.6" stroke="#b4b4b4" stroke-width="1" fill="none"/>
<text x="287.31" y="176.60" font-size="11.3" text-anchor="middle" font-family='"Liberation Serif", serif' >1</text>
<text x="316.15" y="176.60" font-size="11.3" text-anchor="middle" font-family='"Liberation Serif", serif' >2</text>
<text x="345.00" y="176.60" font-size="11.3" text-anchor="middle" font-family='"Liberation Serif", serif' >3</text>
<text x="373.85" y="176.60" font-size="11.3" text-anchor="middle" font-family='"Liberation Serif", serif' >4</text>
<text x="402.69" y="176.60" font-size="11.3" text-anchor="middle" font-family='"Liberation Serif", serif' >5</text>
<text x="266.30" y="164.80" font-size="11.3" text-anchor="end" font-family='"Liberation Serif", serif' >0</text>
<text x="266.30" y="143.56" font-size="11.3" text-anchor="end" font-family='"Liberation Serif", serif' >5</text>
<text x="266.30" y="122.31" font-size="11.3" text-anchor="end" font-family='"Liberation Serif", serif' >10</text>
<text x="266.30" y="101.07" font-size="11.3" text-anchor="end" font-family='"Liberation Serif", serif' >15</text>
<text x="266.30" y="79.83" font-size="11.3" text-anchor="end" font-family='"Liberation Serif", serif' >20</text>
<text x="266.30" y="58.59" font-size="11.3" text-anchor="end" font-family='"Liberation Serif", serif' >25</text>
<text x="266.30" y="37.34" font-size="11.3" text-anchor="end" font-family='"Liberation Serif", serif' >30</text>
<text x="266.30" y="16.10" font-size="11.3" text-anchor="end" font-family='"Liberation Serif", serif' >35</text>
<g transform="matrix(1.99200 0 0 -2.12571 499.600 160.700)"><path fill="#d86e35" stroke="#d86e35" stroke-width="0.3" d="M37 69h1v1h-1z"/><path fill="#d97037" stroke="#d97037" stroke-width="0.3" d="M37 55h1v1h-1zM37 56h1v1h-1zM50 56h1v1h-1zM37 57h1v1h-1zM50 57h1v1h-1zM37 58h1v1h-1zM50 58h2v1h-2zM37 59h1v1h-1zM50 59h2v1h-2zM37 60h1v1h-1zM50 60h2v1h-2zM37 61h2v1h-2zM50 61h2v1h-2zM37 62h2v1h-2zM50 62h2v1h-2zM36 63h3v1h-3zM50 63h2v1h-2zM36 64h3v1h-3zM50 64h2v1h-2zM36 65h3v1h-3zM49 65h3v1h-3zM36 66h3v1h-3zM49 66h3v1h-3zM36 67h3v1h-3zM49 67h3v1h-3zM36 68h3v1h-3zM49 68h3v1h-3zM36 69h1v1h-1zM38 69h1v1h-1zM49 69h3v1h-3z"/><path fill="#da7339" stroke="#da7339" stroke-width="0.3" d="M37 44h1v1h-1zM50 44h1v1h-1zM37 45h1v1h-1zM50 45h1v1h-1zM37 46h1v1h-1zM50 46h2v1h-2zM37 47h1v1h-1zM50 47h2v1h-2zM37 48h1v1h-1zM50 48h2v1h-2zM37 49h2v1h-2zM50 49h2v1h-2zM36 50h3v1h-3zM50 50h2v1h-2zM36 51h3v1h-3zM50 51h2v1h-2zM36 52h3v1h-3zM49 52h3v1h-3zM36 53h3v1h-3zM49 53h3v1h-3zM36 54h3v1h-3zM49 54h3v1h-3zM36 55h1v1h-1zM38 55h1v1h-1zM49 55h3v1h-3zM36 56h1v1h-1zM38 56h1v1h-1zM49 56h1v1h-1zM51 56h1v1h-1zM36 57h1v1h-1zM38 57h1v1h-1zM49 57h1v1h-1zM51 57h1v1h-1zM36 58h1v1h-1zM38 58h1v1h-1zM49 58h1v1h-1zM52 58h1v1h-1zM36 59h1v1h-1zM38 59h1v1h-1zM49 59h1v1h-1zM52 59h1v1h-1zM36 60h1v1h-1zM38 60h1v1h-1zM49 60h1v1h-1zM52 60h1v1h-1zM36 61h1v1h-1zM39 61h1v1h-1zM49 61h1v1h-1zM52 61h1v1h-1zM36 62h1v1h-1zM39 62h1v1h-1zM49 62h1v1h-1zM52 62h1v1h-1zM39 63h1v1h-1zM49 63h1v1h-1zM52 63h1v1h-1zM39 64h1v1h-1zM48 64h2v1h-2zM52 64h1v1h-1zM39 65h1v1h-1zM48 65h1v1h-1zM52 65h1v1h-1zM39 66h1v1h-1zM48 66h1v1h-1zM52 66h1v1h-1zM35 67h1v1h-1zM39 67h1v1h-1zM48 67h1v1h-1zM52 67h1v1h-1zM35 68h1v1h-1zM39 68h1v1h-1zM48 68h1v1h-1zM52 68h1v1h-1zM35 69h1v1h-1zM39 69h1v1h-1zM48 69h1v1h-1zM52 69h1v1h-1z"/><path fill="#db763a" stroke="#db763a" stroke-width="0.3" d="M37 34h1v1h-1zM37 35h1v1h-1zM37 36h1v1h-1zM37 37h1v1h-1zM50 37h1v1h-1zM37 38h1v1h-1zM50 38h2v1h-2zM37 39h2v1h-2zM50 39h2v1h-2zM36 40h3v1h-3zM50 40h2v1h-2zM36 41h3v1h-3zM50 41h2v1h-2zM36 42h3v1h-3zM49 42h3v1h-3zM36 43h3v1h-3zM49 43h3v1h-3zM36 44h1v1h-1zM38 44h1v1h-1zM49 44h1v1h-1zM51 44h1v1h-1zM36 45h1v1h-1zM38 45h1v1h-1zM49 45h1v1h-1zM51 45h1v1h-1zM36 46h1v1h-1zM38 46h1v1h-1zM49 46h1v1h-1zM52 46h1v1h-1zM36 47h1v1h-1zM38 47h1v1h-1zM49 47h1v1h-1zM52 47h1v1h-1zM36 48h1v1h-1zM38 48h1v1h-1zM49 48h1v1h-1zM52 48h1v1h-1zM36 49h1v1h-1zM39 49h1v1h-1zM49 49h1v1h-1zM52 49h1v1h-1zM39 50h1v1h-1zM49 50h1v1h-1zM52 50h1v1h-1zM39 51h1v1h-1zM49 51h1v1h-1zM52 51h1v1h-1zM39 52h1v1h-1zM48 52h1v1h-1zM52 52h1v1h-1zM39 53h1v1h-1zM48 53h1v1h-1zM52 53h1v1h-1zM35 54h1v1h-1zM39 54h1v1h-1zM48 54h1v1h-1zM52 54h1v1h-1zM35 55h1v1h-1zM39 55h1v1h-1zM48 55h1v1h-1zM52 55h1v1h-1zM35 56h1v1h-1zM39 56h2v1h-2zM48 56h1v1h-1zM52 56h1v1h-1zM35 57h1v1h-1zM39 57h2v1h-2zM47 57h2v1h-2zM52 57h1v1h-1zM35 58h1v1h-1zM39 58h2v1h-2zM47 58h2v1h-2zM35 59h1v1h-1zM39 59h2v1h-2zM47 59h2v1h-2zM53 59h1v1h-1zM35 60h1v1h-1zM39 60h2v1h-2zM47 60h2v1h-2zM53 60h1v1h-1zM35 61h1v1h-1zM40 61h1v1h-1zM47 61h2v1h-2zM53 61h1v1h-1zM35 62h1v1h-1zM40 62h1v1h-1zM47 62h2v1h-2zM53 62h1v1h-1zM35 63h1v1h-1zM40 63h1v1h-1zM47 63h2v1h-2zM53 63h1v1h-1zM35 64h1v1h-1zM40 64h1v1h-1zM47 64h1v1h-1zM53 64h1v1h-1zM35 65h1v1h-1zM40 65h1v1h-1zM47 65h1v1h-1zM53 65h2v1h-2zM35 66h1v1h-1zM40 66h1v1h-1zM47 66h1v1h-1zM53 66h2v1h-2zM40 67h1v1h-1zM47 67h1v1h-1zM53 67h2v1h-2zM34 68h1v1h-1zM40 68h1v1h-1zM47 68h1v1h-1zM53 68h2v1h-2zM34 69h1v1h-1zM40 69h1v1h-1zM47 69h1v1h-1zM53 69h2v1h-2z"/><path fill="#dc793c" stroke="#dc793c" stroke-width="0.3" d="M37 29h1v1h-1zM37 30h1v1h-1zM37 31h1v1h-1zM37 32h1v1h-1zM37 33h2v1h-2zM50 33h1v1h-1zM36 34h1v1h-1zM38 34h1v1h-1zM50 34h2v1h-2zM36 35h1v1h-1zM38 35h1v1h-1zM50 35h2v1h-2zM36 36h1v1h-1zM38 36h1v1h-1zM50 36h2v1h-2zM36 37h1v1h-1zM38 37h1v1h-1zM49 37h1v1h-1zM51 37h1v1h-1zM36 38h1v1h-1zM38 38h1v1h-1zM49 38h1v1h-1zM36 39h1v1h-1zM49 39h1v1h-1zM52 39h1v1h-1zM39 40h1v1h-1zM49 40h1v1h-1zM52 40h1v1h-1zM39 41h1v1h-1zM49 41h1v1h-1zM52 41h1v1h-1zM39 42h1v1h-1zM48 42h1v1h-1zM52 42h1v1h-1zM35 43h1v1h-1zM39 43h1v1h-1zM48 43h1v1h-1zM52 43h1v1h-1zM35 44h1v1h-1zM39 44h1v1h-1zM48 44h1v1h-1zM52 44h1v1h-1zM35 45h1v1h-1zM39 45h1v1h-1zM48 45h1v1h-1zM52 45h1v1h-1zM35 46h1v1h-1zM39 46h2v1h-2zM47 46h2v1h-2zM35 47h1v1h-1zM39 47h2v1h-2zM47 47h2v1h-2zM35 48h1v1h-1zM39 48h2v1h-2zM47 48h2v1h-2zM53 48h1v1h-1zM35 49h1v1h-1zM40 49h1v1h-1zM47 49h2v1h-2zM53 49h1v1h-1zM35 50h1v1h-1zM40 50h1v1h-1zM47 50h2v1h-2zM53 50h1v1h-1zM35 51h1v1h-1zM40 51h1v1h-1zM47 51h2v1h-2zM53 51h1v1h-1zM35 52h1v1h-1zM40 52h1v1h-1zM47 52h1v1h-1zM53 52h2v1h-2zM35 53h1v1h-1zM40 53h1v1h-1zM47 53h1v1h-1zM53 53h2v1h-2zM40 54h1v1h-1zM47 54h1v1h-1zM53 54h2v1h-2zM34 55h1v1h-1zM40 55h1v1h-1zM47 55h1v1h-1zM53 55h2v1h-2zM34 56h1v1h-1zM41 56h1v1h-1zM47 56h1v1h-1zM53 56h2v1h-2zM34 57h1v1h-1zM41 57h1v1h-1zM53 57h2v1h-2zM34 58h1v1h-1zM41 58h1v1h-1zM53 58h2v1h-2zM34 59h1v1h-1zM41 59h1v1h-1zM54 59h1v1h-1zM34 60h1v1h-1zM41 60h1v1h-1zM54 60h1v1h-1zM34 61h1v1h-1zM41 61h1v1h-1zM46 61h1v1h-1zM54 61h1v1h-1zM33 62h2v1h-2zM41 62h1v1h-1zM46 62h1v1h-1zM54 62h1v1h-1zM33 63h2v1h-2zM41 63h1v1h-1zM46 63h1v1h-1zM54 63h1v1h-1zM33 64h2v1h-2zM41 64h1v1h-1zM46 64h1v1h-1zM54 64h1v1h-1zM33 65h2v1h-2zM41 65h1v1h-1zM46 65h1v1h-1zM33 66h2v1h-2zM41 66h1v1h-1zM46 66h1v1h-1zM33 67h2v1h-2zM41 67h1v1h-1zM46 67h1v1h-1zM33 68h1v1h-1zM41 68h1v1h-1zM46 68h1v1h-1zM33 69h1v1h-1zM41 69h1v1h-1zM46 69h1v1h-1z"/><path fill="#dc7c3e" stroke="#dc7c3e" stroke-width="0.3" d="M37 27h1v1h-1zM37 28h1v1h-1zM36 29h1v1h-1zM38 29h1v1h-1zM36 30h1v1h-1zM38 30h1v1h-1zM50 30h2v1h-2zM36 31h1v1h-1zM38 31h1v1h-1zM50 31h2v1h-2zM36 32h1v1h-1zM38 32h1v1h-1zM50 32h2v1h-2zM36 33h1v1h-1zM51 33h1v1h-1zM49 34h1v1h-1zM49 35h1v1h-1zM39 36h1v1h-1zM49 36h1v1h-1zM52 36h1v1h-1zM39 37h1v1h-1zM52 37h1v1h-1zM35 38h1v1h-1zM39 38h1v1h-1zM48 38h1v1h-1zM52 38h1v1h-1zM35 39h1v1h-1zM39 39h2v1h-2zM47 39h2v1h-2zM35 40h1v1h-1zM40 40h1v1h-1zM47 40h2v1h-2zM53 40h1v1h-1zM35 41h1v1h-1zM40 41h1v1h-1zM47 41h2v1h-2zM53 41h1v1h-1zM35 42h1v1h-1zM40 42h1v1h-1zM47 42h1v1h-1zM53 42h1v1h-1zM40 43h1v1h-1zM47 43h1v1h-1zM53 43h2v1h-2zM40 44h1v1h-1zM47 44h1v1h-1zM53 44h2v1h-2zM34 45h1v1h-1zM40 45h1v1h-1zM47 45h1v1h-1zM53 45h2v1h-2zM34 46h1v1h-1zM53 46h2v1h-2zM34 47h1v1h-1zM41 47h1v1h-1zM53 47h2v1h-2zM34 48h1v1h-1zM41 48h1v1h-1zM54 48h1v1h-1zM34 49h1v1h-1zM41 49h1v1h-1zM54 49h1v1h-1zM33 50h2v1h-2zM41 50h1v1h-1zM46 50h1v1h-1zM54 50h1v1h-1zM33 51h2v1h-2zM41 51h1v1h-1zM46 51h1v1h-1zM54 51h1v1h-1zM33 52h2v1h-2zM41 52h1v1h-1zM46 52h1v1h-1zM33 53h2v1h-2zM41 53h1v1h-1zM46 53h1v1h-1zM33 54h2v1h-2zM41 54h1v1h-1zM46 54h1v1h-1zM33 55h1v1h-1zM41 55h1v1h-1zM46 55h1v1h-1zM33 56h1v1h-1zM46 56h1v1h-1zM33 57h1v1h-1zM46 57h1v1h-1zM33 58h1v1h-1zM46 58h1v1h-1zM33 59h1v1h-1zM46 59h1v1h-1zM33 60h1v1h-1zM46 60h1v1h-1zM33 61h1v1h-1z"/><path fill="#dd7f3f" stroke="#dd7f3f" stroke-width="0.3" d="M37 26h1v1h-1zM36 28h1v1h-1zM38 28h1v1h-1zM50 28h1v1h-1zM50 29h2v1h-2zM49 31h1v1h-1zM39 32h1v1h-1zM49 32h1v1h-1zM39 33h1v1h-1zM49 33h1v1h-1zM39 34h1v1h-1zM52 34h1v1h-1zM35 35h1v1h-1zM39 35h1v1h-1zM48 35h1v1h-1zM52 35h1v1h-1zM35 36h1v1h-1zM40 36h1v1h-1zM48 36h1v1h-1zM35 37h1v1h-1zM40 37h1v1h-1zM47 37h2v1h-2zM40 38h1v1h-1zM47 38h1v1h-1zM53 38h1v1h-1zM34 39h1v1h-1zM41 39h1v1h-1zM53 39h2v1h-2zM34 40h1v1h-1zM41 40h1v1h-1zM54 40h1v1h-1zM33 41h2v1h-2zM41 41h1v1h-1zM46 41h1v1h-1zM54 41h1v1h-1zM33 42h2v1h-2zM41 42h1v1h-1zM46 42h1v1h-1zM54 42h1v1h-1zM33 43h2v1h-2zM41 43h1v1h-1zM46 43h1v1h-1zM33 44h2v1h-2zM41 44h1v1h-1zM46 44h1v1h-1zM33 45h1v1h-1zM41 45h1v1h-1zM46 45h1v1h-1zM33 46h1v1h-1zM41 46h1v1h-1zM46 46h1v1h-1zM33 47h1v1h-1zM46 47h1v1h-1zM33 48h1v1h-1zM46 48h1v1h-1zM33 49h1v1h-1zM46 49h1v1h-1zM55 58h1v1h-1zM55 59h1v1h-1zM55 60h1v1h-1zM55 61h1v1h-1zM55 62h1v1h-1zM55 63h1v1h-1zM55 64h1v1h-1zM55 65h1v1h-1zM55 66h1v1h-1zM55 67h1v1h-1zM55 68h1v1h-1zM55 69h1v1h-1z"/><path fill="#de8241" stroke="#de8241" stroke-width="0.3" d="M37 25h1v1h-1zM36 27h1v1h-1zM38 27h1v1h-1zM50 27h2v1h-2zM51 28h1v1h-1zM49 29h1v1h-1zM39 30h1v1h-1zM49 30h1v1h-1zM39 31h1v1h-1zM52 31h1v1h-1zM35 32h1v1h-1zM48 32h1v1h-1zM52 32h1v1h-1zM35 33h1v1h-1zM40 33h1v1h-1zM48 33h1v1h-1zM52 33h1v1h-1zM35 34h1v1h-1zM40 34h1v1h-1zM47 34h2v1h-2zM40 35h1v1h-1zM47 35h1v1h-1zM41 36h1v1h-1zM47 36h1v1h-1zM53 36h1v1h-1zM34 37h1v1h-1zM41 37h1v1h-1zM53 37h2v1h-2zM33 38h2v1h-2zM41 38h1v1h-1zM46 38h1v1h-1zM54 38h1v1h-1zM33 39h1v1h-1zM46 39h1v1h-1zM33 40h1v1h-1zM46 40h1v1h-1zM55 49h1v1h-1zM55 50h1v1h-1zM55 51h1v1h-1zM55 52h1v1h-1zM55 53h1v1h-1zM55 54h1v1h-1zM55 55h1v1h-1zM55 56h1v1h-1zM55 57h1v1h-1zM63 57h2v1h-2zM63 58h2v1h-2zM63 59h2v1h-2zM42 60h1v1h-1zM63 60h2v1h-2zM42 61h1v1h-1zM63 61h2v1h-2zM42 62h1v1h-1zM63 62h2v1h-2zM42 63h1v1h-1zM45 63h1v1h-1zM63 63h2v1h-2zM42 64h1v1h-1zM45 64h1v1h-1zM63 64h2v1h-2zM42 65h1v1h-1zM45 65h1v1h-1zM62 65h3v1h-3zM32 66h1v1h-1zM42 66h1v1h-1zM45 66h1v1h-1zM62 66h3v1h-3zM32 67h1v1h-1zM42 67h1v1h-1zM45 67h1v1h-1zM62 67h3v1h-3zM32 68h1v1h-1zM42 68h1v1h-1zM45 68h1v1h-1zM62 68h3v1h-3zM32 69h1v1h-1zM42 69h1v1h-1zM45 69h1v1h-1zM62 69h3v1h-3z"/><path fill="#df8544" stroke="#df8544" stroke-width="0.3" d="M37 23h1v1h-1zM37 24h1v1h-1zM38 25h1v1h-1zM36 26h1v1h-1zM38 26h1v1h-1zM50 26h2v1h-2zM39 28h1v1h-1zM49 28h1v1h-1zM35 29h1v1h-1zM39 29h1v1h-1zM52 29h1v1h-1zM35 30h1v1h-1zM40 30h1v1h-1zM48 30h1v1h-1zM52 30h1v1h-1zM35 31h1v1h-1zM40 31h1v1h-1zM48 31h1v1h-1zM40 32h1v1h-1zM47 32h1v1h-1zM41 33h1v1h-1zM47 33h1v1h-1zM34 34h1v1h-1zM41 34h1v1h-1zM53 34h1v1h-1zM34 35h1v1h-1zM41 35h1v1h-1zM46 35h1v1h-1zM53 35h2v1h-2zM33 36h2v1h-2zM46 36h1v1h-1zM54 36h1v1h-1zM33 37h1v1h-1zM46 37h1v1h-1zM55 40h1v1h-1zM55 41h1v1h-1zM55 42h1v1h-1zM55 43h1v1h-1zM55 44h1v1h-1zM55 45h1v1h-1zM55 46h1v1h-1zM55 47h1v1h-1zM55 48h1v1h-1zM42 50h1v1h-1zM42 51h1v1h-1zM63 51h2v1h-2zM42 52h1v1h-1zM45 52h1v1h-1zM63 52h2v1h-2zM32 53h1v1h-1zM42 53h1v1h-1zM45 53h1v1h-1zM62 53h3v1h-3zM32 54h1v1h-1zM42 54h1v1h-1zM45 54h1v1h-1zM62 54h3v1h-3zM32 55h1v1h-1zM42 55h1v1h-1zM45 55h1v1h-1zM62 55h3v1h-3zM32 56h1v1h-1zM42 56h1v1h-1zM45 56h1v1h-1zM62 56h3v1h-3zM32 57h1v1h-1zM42 57h1v1h-1zM45 57h1v1h-1zM62 57h1v1h-1zM32 58h1v1h-1zM42 58h1v1h-1zM45 58h1v1h-1zM61 58h2v1h-2zM32 59h1v1h-1zM42 59h1v1h-1zM45 59h1v1h-1zM61 59h2v1h-2zM32 60h1v1h-1zM45 60h1v1h-1zM61 60h2v1h-2zM32 61h1v1h-1zM45 61h1v1h-1zM61 61h2v1h-2zM32 62h1v1h-1zM45 62h1v1h-1zM60 62h3v1h-3zM32 63h1v1h-1zM60 63h3v1h-3zM32 64h1v1h-1zM60 64h3v1h-3zM65 64h1v1h-1zM32 65h1v1h-1zM60 65h2v1h-2zM65 65h1v1h-1zM60 66h2v1h-2zM65 66h1v1h-1zM60 67h2v1h-2zM65 67h1v1h-1zM60 68h2v1h-2zM65 68h1v1h-1zM60 69h2v1h-2zM65 69h1v1h-1z"/><path fill="#e08946" stroke="#e08946" stroke-width="0.3" d="M37 22h1v1h-1zM38 24h1v1h-1zM36 25h1v1h-1zM50 25h2v1h-2zM39 27h1v1h-1zM49 27h1v1h-1zM35 28h1v1h-1zM52 28h1v1h-1zM40 29h1v1h-1zM48 29h1v1h-1zM41 30h1v1h-1zM47 30h1v1h-1zM41 31h1v1h-1zM47 31h1v1h-1zM34 32h1v1h-1zM41 32h1v1h-1zM53 32h1v1h-1zM34 33h1v1h-1zM46 33h1v1h-1zM53 33h2v1h-2zM23 34h1v1h-1zM33 34h1v1h-1zM46 34h1v1h-1zM54 34h1v1h-1zM23 35h1v1h-1zM33 35h1v1h-1zM23 36h1v1h-1zM23 37h1v1h-1zM23 38h1v1h-1zM55 38h1v1h-1zM22 39h3v1h-3zM55 39h1v1h-1zM22 40h3v1h-3zM22 41h3v1h-3zM22 42h3v1h-3zM22 43h3v1h-3zM42 43h1v1h-1zM22 44h3v1h-3zM42 44h1v1h-1zM22 45h3v1h-3zM42 45h1v1h-1zM45 45h1v1h-1zM22 46h3v1h-3zM32 46h1v1h-1zM42 46h1v1h-1zM45 46h1v1h-1zM22 47h3v1h-3zM32 47h1v1h-1zM42 47h1v1h-1zM45 47h1v1h-1zM63 47h2v1h-2zM22 48h3v1h-3zM32 48h1v1h-1zM42 48h1v1h-1zM45 48h1v1h-1zM63 48h2v1h-2zM22 49h3v1h-3zM32 49h1v1h-1zM42 49h1v1h-1zM45 49h1v1h-1zM62 49h3v1h-3zM22 50h3v1h-3zM32 50h1v1h-1zM45 50h1v1h-1zM62 50h3v1h-3zM22 51h3v1h-3zM32 51h1v1h-1zM45 51h1v1h-1zM61 51h2v1h-2zM22 52h3v1h-3zM32 52h1v1h-1zM60 52h3v1h-3zM22 53h3v1h-3zM60 53h2v1h-2zM22 54h3v1h-3zM60 54h2v1h-2zM22 55h3v1h-3zM60 55h2v1h-2zM22 56h3v1h-3zM60 56h2v1h-2zM65 56h1v1h-1zM22 57h3v1h-3zM60 57h2v1h-2zM65 57h1v1h-1zM22 58h3v1h-3zM60 58h1v1h-1zM65 58h1v1h-1zM22 59h3v1h-3zM60 59h1v1h-1zM65 59h1v1h-1zM22 60h3v1h-3zM60 60h1v1h-1zM65 60h1v1h-1zM22 61h3v1h-3zM60 61h1v1h-1zM65 61h1v1h-1zM22 62h3v1h-3zM65 62h1v1h-1zM22 63h3v1h-3zM65 63h1v1h-1zM22 64h3v1h-3zM22 65h3v1h-3zM22 66h3v1h-3zM22 67h3v1h-3zM22 68h3v1h-3zM22 69h3v1h-3z"/><path fill="#e08c48" stroke="#e08c48" stroke-width="0.3" d="M37 21h1v1h-1zM36 23h1v1h-1zM38 23h1v1h-1zM36 24h1v1h-1zM50 24h2v1h-2zM49 26h1v1h-1zM35 27h1v1h-1zM52 27h1v1h-1zM23 28h1v1h-1zM40 28h1v1h-1zM48 28h1v1h-1zM23 29h1v1h-1zM41 29h1v1h-1zM47 29h1v1h-1zM23 30h1v1h-1zM34 30h1v1h-1zM46 30h1v1h-1zM53 30h1v1h-1zM23 31h1v1h-1zM33 31h2v1h-2zM46 31h1v1h-1zM53 31h2v1h-2zM23 32h1v1h-1zM33 32h1v1h-1zM46 32h1v1h-1zM54 32h1v1h-1zM22 33h3v1h-3zM33 33h1v1h-1zM22 34h1v1h-1zM24 34h1v1h-1zM22 35h1v1h-1zM24 35h1v1h-1zM22 36h1v1h-1zM24 36h1v1h-1zM55 36h1v1h-1zM22 37h1v1h-1zM24 37h1v1h-1zM55 37h1v1h-1zM22 38h1v1h-1zM24 38h1v1h-1zM42 38h1v1h-1zM25 39h1v1h-1zM32 39h1v1h-1zM42 39h1v1h-1zM45 39h1v1h-1zM25 40h1v1h-1zM32 40h1v1h-1zM42 40h1v1h-1zM45 40h1v1h-1zM25 41h1v1h-1zM32 41h1v1h-1zM42 41h1v1h-1zM45 41h1v1h-1zM25 42h1v1h-1zM32 42h1v1h-1zM42 42h1v1h-1zM45 42h1v1h-1zM25 43h1v1h-1zM32 43h1v1h-1zM45 43h1v1h-1zM63 43h2v1h-2zM25 44h1v1h-1zM32 44h1v1h-1zM45 44h1v1h-1zM63 44h2v1h-2zM25 45h1v1h-1zM32 45h1v1h-1zM62 45h3v1h-3zM25 46h1v1h-1zM62 46h3v1h-3zM25 47h1v1h-1zM61 47h2v1h-2zM25 48h1v1h-1zM60 48h3v1h-3zM25 49h1v1h-1zM60 49h2v1h-2zM25 50h2v1h-2zM60 50h2v1h-2zM25 51h2v1h-2zM60 51h1v1h-1zM65 51h1v1h-1zM21 52h1v1h-1zM25 52h2v1h-2zM65 52h1v1h-1zM21 53h1v1h-1zM25 53h2v1h-2zM65 53h1v1h-1zM21 54h1v1h-1zM25 54h2v1h-2zM65 54h1v1h-1zM21 55h1v1h-1zM25 55h2v1h-2zM65 55h1v1h-1zM21 56h1v1h-1zM25 56h2v1h-2zM21 57h1v1h-1zM25 57h2v1h-2zM21 58h1v1h-1zM25 58h2v1h-2zM43 58h2v1h-2zM21 59h1v1h-1zM25 59h2v1h-2zM43 59h2v1h-2zM59 59h1v1h-1zM21 60h1v1h-1zM25 60h2v1h-2zM43 60h2v1h-2zM59 60h1v1h-1zM21 61h1v1h-1zM25 61h2v1h-2zM43 61h2v1h-2zM56 61h1v1h-1zM59 61h1v1h-1zM21 62h1v1h-1zM25 62h2v1h-2zM43 62h2v1h-2zM56 62h1v1h-1zM59 62h1v1h-1zM21 63h1v1h-1zM25 63h2v1h-2zM43 63h2v1h-2zM56 63h1v1h-1zM59 63h1v1h-1zM21 64h1v1h-1zM25 64h2v1h-2zM43 64h2v1h-2zM56 64h1v1h-1zM59 64h1v1h-1zM21 65h1v1h-1zM25 65h2v1h-2zM43 65h2v1h-2zM56 65h1v1h-1zM59 65h1v1h-1zM21 66h1v1h-1zM25 66h2v1h-2zM43 66h2v1h-2zM56 66h1v1h-1zM59 66h1v1h-1zM66 66h1v1h-1zM21 67h1v1h-1zM25 67h2v1h-2zM43 67h2v1h-2zM56 67h1v1h-1zM59 67h1v1h-1zM66 67h1v1h-1zM21 68h1v1h-1zM25 68h2v1h-2zM43 68h2v1h-2zM56 68h1v1h-1zM59 68h1v1h-1zM66 68h1v1h-1zM21 69h1v1h-1zM25 69h2v1h-2zM43 69h2v1h-2zM56 69h1v1h-1zM59 69h1v1h-1zM66 69h1v1h-1z"/><path fill="#e18f4b" stroke="#e18f4b" stroke-width="0.3" d="M36 22h1v1h-1zM38 22h1v1h-1zM50 23h2v1h-2zM49 25h1v1h-1zM35 26h1v1h-1zM39 26h1v1h-1zM52 26h1v1h-1zM23 27h1v1h-1zM40 27h1v1h-1zM48 27h1v1h-1zM41 28h1v1h-1zM47 28h1v1h-1zM22 29h1v1h-1zM24 29h1v1h-1zM34 29h1v1h-1zM46 29h1v1h-1zM53 29h1v1h-1zM22 30h1v1h-1zM24 30h1v1h-1zM33 30h1v1h-1zM54 30h1v1h-1zM22 31h1v1h-1zM24 31h1v1h-1zM22 32h1v1h-1zM24 32h1v1h-1zM42 34h1v1h-1zM55 34h1v1h-1zM42 35h1v1h-1zM55 35h1v1h-1zM25 36h1v1h-1zM42 36h1v1h-1zM45 36h1v1h-1zM21 37h1v1h-1zM25 37h1v1h-1zM32 37h1v1h-1zM42 37h1v1h-1zM45 37h1v1h-1zM21 38h1v1h-1zM25 38h2v1h-2zM32 38h1v1h-1zM45 38h1v1h-1zM21 39h1v1h-1zM26 39h1v1h-1zM21 40h1v1h-1zM26 40h1v1h-1zM63 40h2v1h-2zM21 41h1v1h-1zM26 41h1v1h-1zM62 41h3v1h-3zM21 42h1v1h-1zM26 42h2v1h-2zM62 42h3v1h-3zM21 43h1v1h-1zM26 43h2v1h-2zM61 43h2v1h-2zM21 44h1v1h-1zM26 44h2v1h-2zM60 44h3v1h-3zM21 45h1v1h-1zM26 45h2v1h-2zM60 45h2v1h-2zM21 46h1v1h-1zM26 46h2v1h-2zM60 46h2v1h-2zM21 47h1v1h-1zM26 47h2v1h-2zM60 47h1v1h-1zM21 48h1v1h-1zM26 48h2v1h-2zM65 48h1v1h-1zM21 49h1v1h-1zM26 49h2v1h-2zM65 49h1v1h-1zM21 50h1v1h-1zM27 50h1v1h-1zM43 50h2v1h-2zM65 50h1v1h-1zM21 51h1v1h-1zM27 51h1v1h-1zM43 51h2v1h-2zM56 51h1v1h-1zM59 51h1v1h-1zM27 52h1v1h-1zM43 52h2v1h-2zM56 52h1v1h-1zM59 52h1v1h-1zM27 53h1v1h-1zM43 53h2v1h-2zM56 53h1v1h-1zM59 53h1v1h-1zM27 54h1v1h-1zM43 54h2v1h-2zM56 54h1v1h-1zM59 54h1v1h-1zM27 55h1v1h-1zM43 55h2v1h-2zM56 55h1v1h-1zM59 55h1v1h-1zM20 56h1v1h-1zM27 56h1v1h-1zM43 56h2v1h-2zM56 56h1v1h-1zM59 56h1v1h-1zM20 57h1v1h-1zM27 57h1v1h-1zM43 57h2v1h-2zM56 57h1v1h-1zM59 57h1v1h-1zM20 58h1v1h-1zM27 58h1v1h-1zM56 58h1v1h-1zM59 58h1v1h-1zM20 59h1v1h-1zM27 59h1v1h-1zM56 59h1v1h-1zM20 60h1v1h-1zM27 60h1v1h-1zM56 60h1v1h-1zM20 61h1v1h-1zM27 61h1v1h-1zM66 61h1v1h-1zM20 62h1v1h-1zM27 62h1v1h-1zM66 62h1v1h-1zM20 63h1v1h-1zM27 63h1v1h-1zM66 63h1v1h-1zM20 64h1v1h-1zM27 64h1v1h-1zM66 64h1v1h-1zM20 65h1v1h-1zM27 65h1v1h-1zM66 65h1v1h-1zM20 66h1v1h-1zM27 66h1v1h-1zM20 67h1v1h-1zM27 67h1v1h-1zM20 68h1v1h-1zM27 68h1v1h-1zM67 68h1v1h-1zM20 69h1v1h-1zM27 69h1v1h-1zM67 69h1v1h-1z"/><path fill="#e2934e" stroke="#e2934e" stroke-width="0.3" d="M37 20h1v1h-1zM38 21h1v1h-1zM50 22h2v1h-2zM49 24h1v1h-1zM23 25h1v1h-1zM39 25h1v1h-1zM23 26h1v1h-1zM48 26h1v1h-1zM22 27h1v1h-1zM24 27h1v1h-1zM41 27h1v1h-1zM47 27h1v1h-1zM22 28h1v1h-1zM24 28h1v1h-1zM34 28h1v1h-1zM46 28h1v1h-1zM53 28h1v1h-1zM33 29h1v1h-1zM54 29h1v1h-1zM42 31h1v1h-1zM25 32h1v1h-1zM42 32h1v1h-1zM55 32h1v1h-1zM25 33h1v1h-1zM42 33h1v1h-1zM45 33h1v1h-1zM55 33h1v1h-1zM21 34h1v1h-1zM25 34h1v1h-1zM45 34h1v1h-1zM21 35h1v1h-1zM25 35h2v1h-2zM32 35h1v1h-1zM45 35h1v1h-1zM21 36h1v1h-1zM26 36h1v1h-1zM32 36h1v1h-1zM26 37h2v1h-2zM20 38h1v1h-1zM27 38h1v1h-1zM63 38h2v1h-2zM20 39h1v1h-1zM27 39h1v1h-1zM61 39h4v1h-4zM19 40h2v1h-2zM27 40h1v1h-1zM60 40h3v1h-3zM19 41h2v1h-2zM27 41h1v1h-1zM60 41h2v1h-2zM19 42h2v1h-2zM60 42h2v1h-2zM19 43h2v1h-2zM60 43h1v1h-1zM19 44h2v1h-2zM43 44h2v1h-2zM56 44h1v1h-1zM19 45h2v1h-2zM43 45h2v1h-2zM56 45h1v1h-1zM65 45h1v1h-1zM19 46h2v1h-2zM43 46h2v1h-2zM56 46h1v1h-1zM59 46h1v1h-1zM65 46h1v1h-1zM19 47h2v1h-2zM43 47h2v1h-2zM56 47h1v1h-1zM59 47h1v1h-1zM65 47h1v1h-1zM19 48h2v1h-2zM43 48h2v1h-2zM56 48h1v1h-1zM59 48h1v1h-1zM19 49h2v1h-2zM43 49h2v1h-2zM56 49h1v1h-1zM59 49h1v1h-1zM19 50h2v1h-2zM56 50h1v1h-1zM59 50h1v1h-1zM19 51h2v1h-2zM19 52h2v1h-2zM19 53h2v1h-2zM19 54h2v1h-2zM19 55h2v1h-2zM66 55h1v1h-1zM19 56h1v1h-1zM66 56h1v1h-1zM19 57h1v1h-1zM66 57h1v1h-1zM19 58h1v1h-1zM66 58h1v1h-1zM19 59h1v1h-1zM66 59h1v1h-1zM19 60h1v1h-1zM58 60h1v1h-1zM66 60h1v1h-1zM19 61h1v1h-1zM58 61h1v1h-1zM19 62h1v1h-1zM58 62h1v1h-1zM19 63h1v1h-1zM31 63h1v1h-1zM58 63h1v1h-1zM19 64h1v1h-1zM31 64h1v1h-1zM58 64h1v1h-1zM67 64h1v1h-1zM19 65h1v1h-1zM31 65h1v1h-1zM58 65h1v1h-1zM67 65h1v1h-1zM19 66h1v1h-1zM28 66h1v1h-1zM31 66h1v1h-1zM58 66h1v1h-1zM67 66h2v1h-2zM19 67h1v1h-1zM28 67h1v1h-1zM31 67h1v1h-1zM58 67h1v1h-1zM67 67h2v1h-2zM19 68h1v1h-1zM28 68h1v1h-1zM31 68h1v1h-1zM57 68h2v1h-2zM68 68h1v1h-1zM19 69h1v1h-1zM28 69h1v1h-1zM31 69h1v1h-1zM57 69h2v1h-2zM68 69h1v1h-1z"/><path fill="#e39650" stroke="#e39650" stroke-width="0.3" d="M37 19h1v1h-1zM36 21h1v1h-1zM50 21h1v1h-1zM23 23h1v1h-1zM49 23h1v1h-1zM23 24h1v1h-1zM39 24h1v1h-1zM35 25h1v1h-1zM52 25h1v1h-1zM22 26h1v1h-1zM24 26h1v1h-1zM40 26h1v1h-1zM34 27h1v1h-1zM46 27h1v1h-1zM53 27h1v1h-1zM33 28h1v1h-1zM54 28h1v1h-1zM25 29h1v1h-1zM42 29h1v1h-1zM25 30h1v1h-1zM42 30h1v1h-1zM45 30h1v1h-1zM21 31h1v1h-1zM25 31h1v1h-1zM45 31h1v1h-1zM55 31h1v1h-1zM21 32h1v1h-1zM32 32h1v1h-1zM45 32h1v1h-1zM21 33h1v1h-1zM26 33h1v1h-1zM32 33h1v1h-1zM26 34h1v1h-1zM32 34h1v1h-1zM27 35h1v1h-1zM20 36h1v1h-1zM27 36h1v1h-1zM63 36h2v1h-2zM20 37h1v1h-1zM62 37h3v1h-3zM19 38h1v1h-1zM60 38h3v1h-3zM19 39h1v1h-1zM43 39h2v1h-2zM56 39h1v1h-1zM60 39h1v1h-1zM43 40h2v1h-2zM56 40h1v1h-1zM43 41h2v1h-2zM56 41h1v1h-1zM59 41h1v1h-1zM43 42h2v1h-2zM56 42h1v1h-1zM59 42h1v1h-1zM65 42h1v1h-1zM43 43h2v1h-2zM56 43h1v1h-1zM59 43h1v1h-1zM65 43h1v1h-1zM59 44h1v1h-1zM65 44h1v1h-1zM59 45h1v1h-1zM28 49h1v1h-1zM28 50h1v1h-1zM28 51h1v1h-1zM58 51h1v1h-1zM28 52h1v1h-1zM31 52h1v1h-1zM58 52h1v1h-1zM66 52h1v1h-1zM28 53h1v1h-1zM31 53h1v1h-1zM58 53h1v1h-1zM66 53h1v1h-1zM28 54h1v1h-1zM31 54h1v1h-1zM57 54h2v1h-2zM66 54h1v1h-1zM28 55h1v1h-1zM31 55h1v1h-1zM57 55h2v1h-2zM28 56h1v1h-1zM31 56h1v1h-1zM57 56h2v1h-2zM28 57h1v1h-1zM31 57h1v1h-1zM57 57h2v1h-2zM28 58h1v1h-1zM31 58h1v1h-1zM57 58h2v1h-2zM28 59h1v1h-1zM31 59h1v1h-1zM57 59h2v1h-2zM67 59h1v1h-1zM28 60h1v1h-1zM31 60h1v1h-1zM57 60h1v1h-1zM67 60h1v1h-1zM28 61h1v1h-1zM31 61h1v1h-1zM57 61h1v1h-1zM67 61h1v1h-1zM28 62h1v1h-1zM31 62h1v1h-1zM57 62h1v1h-1zM67 62h2v1h-2zM28 63h1v1h-1zM57 63h1v1h-1zM67 63h2v1h-2zM28 64h1v1h-1zM57 64h1v1h-1zM68 64h1v1h-1zM28 65h1v1h-1zM57 65h1v1h-1zM68 65h1v1h-1zM57 66h1v1h-1zM57 67h1v1h-1z"/><path fill="#e49952" stroke="#e49952" stroke-width="0.3" d="M37 18h1v1h-1zM36 20h1v1h-1zM38 20h1v1h-1zM51 21h1v1h-1zM23 22h1v1h-1zM49 22h1v1h-1zM39 23h1v1h-1zM22 24h1v1h-1zM35 24h1v1h-1zM52 24h1v1h-1zM22 25h1v1h-1zM24 25h1v1h-1zM40 25h1v1h-1zM48 25h1v1h-1zM41 26h1v1h-1zM47 26h1v1h-1zM33 27h1v1h-1zM54 27h1v1h-1zM25 28h1v1h-1zM42 28h1v1h-1zM21 29h1v1h-1zM45 29h1v1h-1zM55 29h1v1h-1zM21 30h1v1h-1zM26 30h1v1h-1zM32 30h1v1h-1zM55 30h1v1h-1zM26 31h1v1h-1zM32 31h1v1h-1zM26 32h2v1h-2zM27 33h1v1h-1zM63 33h1v1h-1zM20 34h1v1h-1zM27 34h1v1h-1zM43 34h1v1h-1zM63 34h2v1h-2zM19 35h2v1h-2zM43 35h2v1h-2zM62 35h3v1h-3zM19 36h1v1h-1zM43 36h2v1h-2zM60 36h3v1h-3zM19 37h1v1h-1zM43 37h2v1h-2zM56 37h1v1h-1zM60 37h2v1h-2zM43 38h2v1h-2zM56 38h1v1h-1zM59 39h1v1h-1zM65 39h1v1h-1zM28 40h1v1h-1zM59 40h1v1h-1zM65 40h1v1h-1zM28 41h1v1h-1zM65 41h1v1h-1zM28 42h1v1h-1zM28 43h1v1h-1zM28 44h1v1h-1zM28 45h1v1h-1zM31 45h1v1h-1zM58 45h1v1h-1zM28 46h1v1h-1zM31 46h1v1h-1zM58 46h1v1h-1zM28 47h1v1h-1zM31 47h1v1h-1zM58 47h1v1h-1zM28 48h1v1h-1zM31 48h1v1h-1zM57 48h2v1h-2zM31 49h1v1h-1zM57 49h2v1h-2zM66 49h1v1h-1zM31 50h1v1h-1zM57 50h2v1h-2zM66 50h1v1h-1zM31 51h1v1h-1zM57 51h1v1h-1zM66 51h1v1h-1zM57 52h1v1h-1zM57 53h1v1h-1zM67 55h1v1h-1zM67 56h1v1h-1zM67 57h1v1h-1zM67 58h2v1h-2zM68 59h1v1h-1zM68 60h1v1h-1zM68 61h1v1h-1zM29 66h1v1h-1zM69 66h1v1h-1zM29 67h1v1h-1zM69 67h1v1h-1zM29 68h1v1h-1zM69 68h1v1h-1zM29 69h1v1h-1zM69 69h1v1h-1z"/><path fill="#e59d55" stroke="#e59d55" stroke-width="0.3" d="M36 19h1v1h-1zM38 19h1v1h-1zM50 20h1v1h-1zM23 21h1v1h-1zM39 22h1v1h-1zM22 23h1v1h-1zM24 23h1v1h-1zM35 23h1v1h-1zM52 23h1v1h-1zM24 24h1v1h-1zM40 24h1v1h-1zM48 24h1v1h-1zM41 25h1v1h-1zM47 25h1v1h-1zM33 26h2v1h-2zM46 26h1v1h-1zM53 26h1v1h-1zM25 27h1v1h-1zM42 27h1v1h-1zM21 28h1v1h-1zM45 28h1v1h-1zM55 28h1v1h-1zM26 29h1v1h-1zM32 29h1v1h-1zM27 30h1v1h-1zM43 30h1v1h-1zM20 31h1v1h-1zM27 31h1v1h-1zM43 31h2v1h-2zM63 31h1v1h-1zM20 32h1v1h-1zM43 32h2v1h-2zM63 32h2v1h-2zM19 33h2v1h-2zM43 33h2v1h-2zM62 33h1v1h-1zM64 33h1v1h-1zM19 34h1v1h-1zM44 34h1v1h-1zM60 34h3v1h-3zM56 35h1v1h-1zM60 35h2v1h-2zM56 36h1v1h-1zM28 37h1v1h-1zM59 37h1v1h-1zM65 37h1v1h-1zM28 38h1v1h-1zM59 38h1v1h-1zM65 38h1v1h-1zM28 39h1v1h-1zM31 40h1v1h-1zM58 40h1v1h-1zM31 41h1v1h-1zM58 41h1v1h-1zM31 42h1v1h-1zM57 42h2v1h-2zM31 43h1v1h-1zM57 43h2v1h-2zM31 44h1v1h-1zM57 44h2v1h-2zM57 45h1v1h-1zM57 46h1v1h-1zM57 47h1v1h-1zM66 47h1v1h-1zM66 48h1v1h-1zM67 52h1v1h-1zM29 53h1v1h-1zM67 53h1v1h-1zM29 54h1v1h-1zM67 54h2v1h-2zM29 55h1v1h-1zM68 55h1v1h-1zM29 56h1v1h-1zM68 56h1v1h-1zM29 57h1v1h-1zM68 57h1v1h-1zM29 58h1v1h-1zM29 59h2v1h-2zM29 60h2v1h-2zM29 61h2v1h-2zM18 62h1v1h-1zM29 62h2v1h-2zM69 62h1v1h-1zM18 63h1v1h-1zM29 63h2v1h-2zM69 63h1v1h-1zM18 64h1v1h-1zM29 64h2v1h-2zM69 64h1v1h-1zM18 65h1v1h-1zM29 65h2v1h-2zM69 65h1v1h-1zM18 66h1v1h-1zM30 66h1v1h-1zM18 67h1v1h-1zM30 67h1v1h-1zM18 68h1v1h-1zM30 68h1v1h-1zM18 69h1v1h-1zM30 69h1v1h-1zM70 69h1v1h-1z"/><path fill="#e6a058" stroke="#e6a058" stroke-width="0.3" d="M37 17h1v1h-1zM23 20h1v1h-1zM51 20h1v1h-1zM49 21h1v1h-1zM22 22h1v1h-1zM24 22h1v1h-1zM35 22h1v1h-1zM52 22h1v1h-1zM48 23h1v1h-1zM41 24h1v1h-1zM47 24h1v1h-1zM34 25h1v1h-1zM46 25h1v1h-1zM53 25h1v1h-1zM25 26h1v1h-1zM54 26h1v1h-1zM21 27h1v1h-1zM45 27h1v1h-1zM26 28h1v1h-1zM32 28h1v1h-1zM20 29h1v1h-1zM27 29h1v1h-1zM43 29h2v1h-2zM20 30h1v1h-1zM44 30h1v1h-1zM63 30h2v1h-2zM19 31h1v1h-1zM62 31h1v1h-1zM64 31h1v1h-1zM19 32h1v1h-1zM61 32h2v1h-2zM56 33h1v1h-1zM60 33h2v1h-2zM28 34h1v1h-1zM56 34h1v1h-1zM28 35h1v1h-1zM59 35h1v1h-1zM28 36h1v1h-1zM59 36h1v1h-1zM65 36h1v1h-1zM31 37h1v1h-1zM31 38h1v1h-1zM58 38h1v1h-1zM31 39h1v1h-1zM57 39h2v1h-2zM18 40h1v1h-1zM57 40h1v1h-1zM18 41h1v1h-1zM57 41h1v1h-1zM18 42h1v1h-1zM18 43h1v1h-1zM18 44h1v1h-1zM66 44h1v1h-1zM18 45h1v1h-1zM66 45h1v1h-1zM18 46h1v1h-1zM29 46h1v1h-1zM66 46h1v1h-1zM18 47h1v1h-1zM29 47h1v1h-1zM18 48h1v1h-1zM29 48h1v1h-1zM18 49h1v1h-1zM29 49h1v1h-1zM18 50h1v1h-1zM29 50h1v1h-1zM67 50h1v1h-1zM18 51h1v1h-1zM29 51h2v1h-2zM67 51h2v1h-2zM18 52h1v1h-1zM29 52h2v1h-2zM68 52h1v1h-1zM18 53h1v1h-1zM30 53h1v1h-1zM68 53h1v1h-1zM18 54h1v1h-1zM30 54h1v1h-1zM18 55h1v1h-1zM30 55h1v1h-1zM18 56h1v1h-1zM30 56h1v1h-1zM18 57h1v1h-1zM30 57h1v1h-1zM18 58h1v1h-1zM30 58h1v1h-1zM69 58h1v1h-1zM18 59h1v1h-1zM69 59h1v1h-1zM18 60h1v1h-1zM69 60h1v1h-1zM18 61h1v1h-1zM69 61h1v1h-1zM70 66h1v1h-1zM70 67h1v1h-1zM70 68h2v1h-2zM71 69h1v1h-1z"/><path fill="#e6a35a" stroke="#e6a35a" stroke-width="0.3" d="M37 16h1v1h-1zM36 18h1v1h-1zM38 18h1v1h-1zM23 19h1v1h-1zM50 19h1v1h-1zM22 21h1v1h-1zM24 21h1v1h-1zM39 21h1v1h-1zM40 23h1v1h-1zM34 24h1v1h-1zM46 24h1v1h-1zM25 25h1v1h-1zM33 25h1v1h-1zM54 25h1v1h-1zM21 26h1v1h-1zM42 26h1v1h-1zM45 26h1v1h-1zM26 27h1v1h-1zM32 27h1v1h-1zM55 27h1v1h-1zM20 28h1v1h-1zM27 28h1v1h-1zM43 28h2v1h-2zM19 29h1v1h-1zM62 29h3v1h-3zM19 30h1v1h-1zM61 30h2v1h-2zM56 31h1v1h-1zM60 31h2v1h-2zM28 32h1v1h-1zM56 32h1v1h-1zM60 32h1v1h-1zM28 33h1v1h-1zM59 33h1v1h-1zM31 34h1v1h-1zM59 34h1v1h-1zM65 34h1v1h-1zM31 35h1v1h-1zM65 35h1v1h-1zM31 36h1v1h-1zM58 36h1v1h-1zM18 37h1v1h-1zM57 37h2v1h-2zM18 38h1v1h-1zM57 38h1v1h-1zM18 39h1v1h-1zM29 40h1v1h-1zM29 41h1v1h-1zM29 42h1v1h-1zM66 42h1v1h-1zM29 43h1v1h-1zM66 43h1v1h-1zM29 44h1v1h-1zM29 45h2v1h-2zM30 46h1v1h-1zM30 47h1v1h-1zM67 47h1v1h-1zM30 48h1v1h-1zM67 48h1v1h-1zM30 49h1v1h-1zM67 49h2v1h-2zM30 50h1v1h-1zM68 50h1v1h-1zM69 54h1v1h-1zM69 55h1v1h-1zM69 56h1v1h-1zM69 57h1v1h-1zM70 62h1v1h-1zM70 63h1v1h-1zM70 64h1v1h-1zM70 65h2v1h-2zM71 66h1v1h-1zM71 67h1v1h-1zM72 69h1v1h-1z"/><path fill="#e7a75c" stroke="#e7a75c" stroke-width="0.3" d="M36 17h1v1h-1zM38 17h1v1h-1zM23 18h1v1h-1zM51 19h1v1h-1zM22 20h1v1h-1zM49 20h1v1h-1zM35 21h1v1h-1zM52 21h1v1h-1zM40 22h1v1h-1zM48 22h1v1h-1zM41 23h1v1h-1zM47 23h1v1h-1zM21 24h1v1h-1zM25 24h1v1h-1zM33 24h1v1h-1zM53 24h1v1h-1zM21 25h1v1h-1zM42 25h1v1h-1zM26 26h1v1h-1zM32 26h1v1h-1zM55 26h1v1h-1zM20 27h1v1h-1zM27 27h1v1h-1zM43 27h2v1h-2zM19 28h1v1h-1zM62 28h3v1h-3zM28 29h1v1h-1zM60 29h2v1h-2zM28 30h1v1h-1zM56 30h1v1h-1zM60 30h1v1h-1zM28 31h1v1h-1zM59 31h1v1h-1zM31 32h1v1h-1zM59 32h1v1h-1zM65 32h1v1h-1zM31 33h1v1h-1zM65 33h1v1h-1zM58 34h1v1h-1zM18 35h1v1h-1zM57 35h2v1h-2zM18 36h1v1h-1zM57 36h1v1h-1zM29 37h1v1h-1zM29 38h1v1h-1zM29 39h2v1h-2zM66 39h1v1h-1zM30 40h1v1h-1zM66 40h1v1h-1zM30 41h1v1h-1zM66 41h1v1h-1zM30 42h1v1h-1zM30 43h1v1h-1zM30 44h1v1h-1zM67 45h1v1h-1zM67 46h1v1h-1zM68 47h1v1h-1zM68 48h1v1h-1zM69 52h1v1h-1zM69 53h1v1h-1zM70 59h1v1h-1zM70 60h1v1h-1zM70 61h1v1h-1zM71 62h1v1h-1zM71 63h1v1h-1zM71 64h1v1h-1zM72 66h1v1h-1zM72 67h1v1h-1zM72 68h1v1h-1z"/><path fill="#e8aa5f" stroke="#e8aa5f" stroke-width="0.3" d="M37 15h1v1h-1zM50 18h1v1h-1zM22 19h1v1h-1zM24 20h1v1h-1zM35 20h1v1h-1zM39 20h1v1h-1zM48 21h1v1h-1zM41 22h1v1h-1zM47 22h1v1h-1zM21 23h1v1h-1zM25 23h1v1h-1zM34 23h1v1h-1zM46 23h1v1h-1zM53 23h1v1h-1zM42 24h1v1h-1zM54 24h1v1h-1zM26 25h1v1h-1zM45 25h1v1h-1zM27 26h1v1h-1zM43 26h2v1h-2zM19 27h1v1h-1zM63 27h2v1h-2zM28 28h1v1h-1zM60 28h2v1h-2zM56 29h1v1h-1zM31 30h1v1h-1zM59 30h1v1h-1zM65 30h1v1h-1zM31 31h1v1h-1zM65 31h1v1h-1zM58 32h1v1h-1zM18 33h1v1h-1zM57 33h2v1h-2zM18 34h1v1h-1zM29 34h1v1h-1zM57 34h1v1h-1zM29 35h1v1h-1zM29 36h1v1h-1zM30 37h1v1h-1zM30 38h1v1h-1zM66 38h1v1h-1zM67 43h1v1h-1zM67 44h1v1h-1zM68 45h1v1h-1zM68 46h1v1h-1zM69 50h1v1h-1zM69 51h1v1h-1zM70 56h1v1h-1zM70 57h1v1h-1zM70 58h2v1h-2zM71 59h1v1h-1zM71 60h1v1h-1zM71 61h1v1h-1zM72 63h1v1h-1zM72 64h1v1h-1zM72 65h1v1h-1zM17 66h1v1h-1zM17 67h1v1h-1zM17 68h1v1h-1zM17 69h1v1h-1z"/><path fill="#e9ad62" stroke="#e9ad62" stroke-width="0.3" d="M36 16h1v1h-1zM38 16h1v1h-1zM23 17h1v1h-1zM22 18h1v1h-1zM51 18h1v1h-1zM24 19h1v1h-1zM49 19h1v1h-1zM52 20h1v1h-1zM40 21h1v1h-1zM21 22h1v1h-1zM25 22h1v1h-1zM34 22h1v1h-1zM46 22h1v1h-1zM33 23h1v1h-1zM42 23h1v1h-1zM54 23h1v1h-1zM26 24h1v1h-1zM45 24h1v1h-1zM27 25h1v1h-1zM32 25h1v1h-1zM55 25h1v1h-1zM20 26h1v1h-1zM63 26h2v1h-2zM28 27h1v1h-1zM61 27h2v1h-2zM31 28h1v1h-1zM56 28h1v1h-1zM31 29h1v1h-1zM59 29h1v1h-1zM65 29h1v1h-1zM18 30h1v1h-1zM57 30h2v1h-2zM18 31h1v1h-1zM57 31h2v1h-2zM18 32h1v1h-1zM29 32h1v1h-1zM57 32h1v1h-1zM29 33h1v1h-1zM30 34h1v1h-1zM30 35h1v1h-1zM30 36h1v1h-1zM66 36h1v1h-1zM66 37h1v1h-1zM67 40h1v1h-1zM67 41h1v1h-1zM67 42h2v1h-2zM68 43h1v1h-1zM68 44h1v1h-1zM69 48h1v1h-1zM69 49h1v1h-1zM17 51h1v1h-1zM17 52h1v1h-1zM17 53h1v1h-1zM70 53h1v1h-1zM17 54h1v1h-1zM70 54h1v1h-1zM17 55h1v1h-1zM70 55h2v1h-2zM17 56h1v1h-1zM71 56h1v1h-1zM17 57h1v1h-1zM71 57h1v1h-1zM17 58h1v1h-1zM17 59h1v1h-1zM72 59h1v1h-1zM17 60h1v1h-1zM72 60h1v1h-1zM17 61h1v1h-1zM72 61h1v1h-1zM17 62h1v1h-1zM72 62h1v1h-1zM17 63h1v1h-1zM17 64h1v1h-1zM17 65h1v1h-1zM73 68h1v1h-1zM73 69h1v1h-1z"/><path fill="#eab064" stroke="#eab064" stroke-width="0.3" d="M37 14h1v1h-1zM23 16h1v1h-1zM50 17h1v1h-1zM24 18h1v1h-1zM35 19h1v1h-1zM39 19h1v1h-1zM25 21h1v1h-1zM41 21h1v1h-1zM47 21h1v1h-1zM33 22h1v1h-1zM53 22h1v1h-1zM45 23h1v1h-1zM27 24h1v1h-1zM32 24h1v1h-1zM55 24h1v1h-1zM20 25h1v1h-1zM43 25h2v1h-2zM63 25h2v1h-2zM19 26h1v1h-1zM28 26h1v1h-1zM62 26h1v1h-1zM31 27h1v1h-1zM56 27h1v1h-1zM60 27h1v1h-1zM59 28h1v1h-1zM65 28h1v1h-1zM18 29h1v1h-1zM29 29h1v1h-1zM57 29h2v1h-2zM29 30h1v1h-1zM29 31h2v1h-2zM30 32h1v1h-1zM30 33h1v1h-1zM66 35h1v1h-1zM17 39h1v1h-1zM67 39h1v1h-1zM17 40h1v1h-1zM68 40h1v1h-1zM17 41h1v1h-1zM68 41h1v1h-1zM17 42h1v1h-1zM17 43h1v1h-1zM17 44h1v1h-1zM17 45h1v1h-1zM17 46h1v1h-1zM69 46h1v1h-1zM17 47h1v1h-1zM69 47h1v1h-1zM17 48h1v1h-1zM17 49h1v1h-1zM17 50h1v1h-1zM70 51h1v1h-1zM70 52h1v1h-1zM71 53h1v1h-1zM71 54h1v1h-1zM72 56h1v1h-1zM72 57h1v1h-1zM72 58h1v1h-1zM73 64h1v1h-1zM73 65h1v1h-1zM73 66h1v1h-1zM73 67h1v1h-1z"/><path fill="#eab366" stroke="#eab366" stroke-width="0.3" d="M23 15h1v1h-1zM36 15h1v1h-1zM38 15h1v1h-1zM22 17h1v1h-1zM51 17h1v1h-1zM49 18h1v1h-1zM52 19h1v1h-1zM40 20h1v1h-1zM48 20h1v1h-1zM21 21h1v1h-1zM34 21h1v1h-1zM46 21h1v1h-1zM53 21h1v1h-1zM42 22h1v1h-1zM45 22h1v1h-1zM54 22h1v1h-1zM26 23h2v1h-2zM32 23h1v1h-1zM20 24h1v1h-1zM43 24h2v1h-2zM63 24h2v1h-2zM19 25h1v1h-1zM62 25h1v1h-1zM56 26h1v1h-1zM60 26h2v1h-2zM59 27h1v1h-1zM65 27h1v1h-1zM18 28h1v1h-1zM29 28h1v1h-1zM57 28h2v1h-2zM30 29h1v1h-1zM30 30h1v1h-1zM66 33h1v1h-1zM66 34h1v1h-1zM17 37h1v1h-1zM67 37h1v1h-1zM17 38h1v1h-1zM67 38h1v1h-1zM68 39h1v1h-1zM69 43h1v1h-1zM69 44h1v1h-1zM69 45h1v1h-1zM70 49h1v1h-1zM70 50h1v1h-1zM71 51h1v1h-1zM71 52h1v1h-1zM72 53h1v1h-1zM72 54h1v1h-1zM72 55h1v1h-1zM73 61h1v1h-1zM73 62h1v1h-1zM73 63h1v1h-1zM74 67h1v1h-1zM74 68h1v1h-1zM74 69h1v1h-1z"/><path fill="#ebb669" stroke="#ebb669" stroke-width="0.3" d="M22 16h1v1h-1zM50 16h1v1h-1zM24 17h1v1h-1zM35 18h1v1h-1zM39 18h1v1h-1zM21 20h1v1h-1zM25 20h1v1h-1zM41 20h1v1h-1zM47 20h1v1h-1zM33 21h1v1h-1zM42 21h1v1h-1zM26 22h1v1h-1zM20 23h1v1h-1zM43 23h2v1h-2zM55 23h1v1h-1zM19 24h1v1h-1zM62 24h1v1h-1zM28 25h1v1h-1zM56 25h1v1h-1zM60 25h2v1h-2zM31 26h1v1h-1zM59 26h1v1h-1zM18 27h1v1h-1zM29 27h1v1h-1zM57 27h2v1h-2zM30 28h1v1h-1zM66 32h1v1h-1zM17 34h1v1h-1zM17 35h1v1h-1zM17 36h1v1h-1zM67 36h1v1h-1zM68 37h1v1h-1zM68 38h1v1h-1zM69 41h1v1h-1zM69 42h1v1h-1zM70 47h1v1h-1zM70 48h1v1h-1zM71 49h1v1h-1zM71 50h1v1h-1zM72 51h1v1h-1zM72 52h1v1h-1zM73 58h1v1h-1zM73 59h1v1h-1zM73 60h1v1h-1zM74 64h1v1h-1zM74 65h1v1h-1zM74 66h1v1h-1z"/><path fill="#ecb96c" stroke="#ecb96c" stroke-width="0.3" d="M37 13h1v1h-1zM23 14h1v1h-1zM36 14h1v1h-1zM38 14h1v1h-1zM24 16h1v1h-1zM51 16h1v1h-1zM49 17h1v1h-1zM52 18h1v1h-1zM40 19h1v1h-1zM48 19h1v1h-1zM34 20h1v1h-1zM46 20h1v1h-1zM26 21h1v1h-1zM45 21h1v1h-1zM54 21h1v1h-1zM27 22h1v1h-1zM32 22h1v1h-1zM43 22h2v1h-2zM55 22h1v1h-1zM19 23h1v1h-1zM63 23h2v1h-2zM28 24h1v1h-1zM61 24h1v1h-1zM31 25h1v1h-1zM59 25h1v1h-1zM18 26h1v1h-1zM29 26h1v1h-1zM57 26h2v1h-2zM65 26h1v1h-1zM30 27h1v1h-1zM66 30h1v1h-1zM17 31h1v1h-1zM66 31h1v1h-1zM17 32h1v1h-1zM17 33h1v1h-1zM67 35h1v1h-1zM68 36h1v1h-1zM69 40h1v1h-1zM70 45h1v1h-1zM70 46h1v1h-1zM71 47h1v1h-1zM71 48h1v1h-1zM72 49h1v1h-1zM72 50h1v1h-1zM73 54h1v1h-1zM73 55h1v1h-1zM73 56h1v1h-1zM73 57h1v1h-1zM74 61h1v1h-1zM74 62h1v1h-1zM74 63h1v1h-1z"/><path fill="#edbc6e" stroke="#edbc6e" stroke-width="0.3" d="M22 15h1v1h-1zM24 15h1v1h-1zM50 15h1v1h-1zM35 17h1v1h-1zM39 17h1v1h-1zM21 19h1v1h-1zM25 19h1v1h-1zM41 19h1v1h-1zM33 20h1v1h-1zM53 20h1v1h-1zM27 21h1v1h-1zM32 21h1v1h-1zM20 22h1v1h-1zM63 22h2v1h-2zM28 23h1v1h-1zM62 23h1v1h-1zM31 24h1v1h-1zM56 24h1v1h-1zM60 24h1v1h-1zM18 25h1v1h-1zM29 25h1v1h-1zM58 25h1v1h-1zM65 25h1v1h-1zM30 26h1v1h-1zM17 29h1v1h-1zM66 29h1v1h-1zM17 30h1v1h-1zM67 33h1v1h-1zM67 34h1v1h-1zM68 35h1v1h-1zM69 38h1v1h-1zM69 39h1v1h-1zM70 43h1v1h-1zM70 44h1v1h-1zM71 45h1v1h-1zM71 46h1v1h-1zM72 47h1v1h-1zM72 48h1v1h-1zM73 52h1v1h-1zM73 53h1v1h-1zM74 57h1v1h-1zM74 58h1v1h-1zM74 59h1v1h-1zM74 60h1v1h-1z"/><path fill="#eebe70" stroke="#eebe70" stroke-width="0.3" d="M37 12h1v1h-1zM23 13h1v1h-1zM22 14h1v1h-1zM51 15h1v1h-1zM35 16h1v1h-1zM39 16h1v1h-1zM49 16h1v1h-1zM52 17h1v1h-1zM21 18h1v1h-1zM25 18h1v1h-1zM40 18h1v1h-1zM48 18h1v1h-1zM34 19h1v1h-1zM46 19h2v1h-2zM26 20h1v1h-1zM42 20h1v1h-1zM45 20h1v1h-1zM54 20h1v1h-1zM20 21h1v1h-1zM43 21h2v1h-2zM55 21h1v1h-1zM63 21h2v1h-2zM19 22h1v1h-1zM28 22h1v1h-1zM62 22h1v1h-1zM31 23h1v1h-1zM56 23h1v1h-1zM60 23h2v1h-2zM18 24h1v1h-1zM29 24h1v1h-1zM59 24h1v1h-1zM65 24h1v1h-1zM30 25h1v1h-1zM57 25h1v1h-1zM17 28h1v1h-1zM66 28h1v1h-1zM67 32h1v1h-1zM68 34h1v1h-1zM69 37h1v1h-1zM70 41h1v1h-1zM70 42h1v1h-1zM71 43h1v1h-1zM71 44h1v1h-1zM72 46h1v1h-1zM73 51h1v1h-1zM74 55h1v1h-1zM74 56h1v1h-1zM16 66h1v1h-1zM15 67h2v1h-2zM14 68h3v1h-3zM13 69h4v1h-4z"/><path fill="#efc173" stroke="#efc173" stroke-width="0.3" d="M36 13h1v1h-1zM38 13h1v1h-1zM24 14h1v1h-1zM41 18h1v1h-1zM33 19h1v1h-1zM53 19h1v1h-1zM27 20h1v1h-1zM32 20h1v1h-1zM19 21h1v1h-1zM31 22h1v1h-1zM56 22h1v1h-1zM60 22h2v1h-2zM18 23h1v1h-1zM59 23h1v1h-1zM30 24h1v1h-1zM57 24h2v1h-2zM17 27h1v1h-1zM67 31h1v1h-1zM68 32h1v1h-1zM68 33h1v1h-1zM69 36h1v1h-1zM70 40h1v1h-1zM71 42h1v1h-1zM72 44h1v1h-1zM72 45h1v1h-1zM73 49h1v1h-1zM73 50h1v1h-1zM15 53h2v1h-2zM74 53h1v1h-1zM15 54h2v1h-2zM74 54h1v1h-1zM14 55h3v1h-3zM13 56h4v1h-4zM12 57h5v1h-5zM12 58h5v1h-5zM12 59h5v1h-5zM12 60h5v1h-5zM11 61h6v1h-6zM11 62h6v1h-6zM11 63h6v1h-6zM11 64h6v1h-6zM11 65h6v1h-6zM10 66h6v1h-6zM10 67h5v1h-5zM10 68h4v1h-4zM9 69h4v1h-4z"/><path fill="#f0c476" stroke="#f0c476" stroke-width="0.3" d="M23 12h1v1h-1zM22 13h1v1h-1zM50 14h2v1h-2zM35 15h1v1h-1zM49 15h1v1h-1zM21 17h1v1h-1zM25 17h1v1h-1zM48 17h1v1h-1zM34 18h1v1h-1zM47 18h1v1h-1zM26 19h1v1h-1zM42 19h1v1h-1zM45 19h1v1h-1zM20 20h1v1h-1zM43 20h2v1h-2zM55 20h1v1h-1zM63 20h2v1h-2zM28 21h1v1h-1zM62 21h1v1h-1zM59 22h1v1h-1zM29 23h1v1h-1zM57 23h2v1h-2zM65 23h1v1h-1zM17 26h1v1h-1zM66 27h1v1h-1zM67 30h1v1h-1zM68 31h1v1h-1zM70 39h1v1h-1zM71 40h1v1h-1zM16 41h1v1h-1zM71 41h1v1h-1zM15 42h2v1h-2zM15 43h2v1h-2zM72 43h1v1h-1zM14 44h3v1h-3zM14 45h3v1h-3zM13 46h4v1h-4zM12 47h5v1h-5zM12 48h5v1h-5zM73 48h1v1h-1zM12 49h5v1h-5zM11 50h6v1h-6zM11 51h6v1h-6zM74 51h1v1h-1zM11 52h6v1h-6zM74 52h1v1h-1zM10 53h5v1h-5zM10 54h5v1h-5zM9 55h5v1h-5zM9 56h4v1h-4zM9 57h3v1h-3zM9 58h3v1h-3zM9 59h3v1h-3zM9 60h3v1h-3zM9 61h2v1h-2zM9 62h2v1h-2zM9 63h2v1h-2zM9 64h2v1h-2zM9 65h2v1h-2zM9 66h1v1h-1zM9 67h1v1h-1zM8 68h2v1h-2zM8 69h1v1h-1z"/><path fill="#f0c778" stroke="#f0c778" stroke-width="0.3" d="M37 11h1v1h-1zM36 12h1v1h-1zM38 12h1v1h-1zM24 13h1v1h-1zM39 15h1v1h-1zM21 16h1v1h-1zM52 16h1v1h-1zM40 17h2v1h-2zM33 18h1v1h-1zM46 18h1v1h-1zM27 19h1v1h-1zM32 19h1v1h-1zM54 19h1v1h-1zM19 20h1v1h-1zM28 20h1v1h-1zM31 21h1v1h-1zM56 21h1v1h-1zM60 21h2v1h-2zM18 22h1v1h-1zM29 22h1v1h-1zM58 22h1v1h-1zM65 22h1v1h-1zM30 23h1v1h-1zM17 25h1v1h-1zM67 29h1v1h-1zM68 30h1v1h-1zM69 35h1v1h-1zM14 38h3v1h-3zM70 38h1v1h-1zM12 39h5v1h-5zM71 39h1v1h-1zM12 40h5v1h-5zM12 41h4v1h-4zM72 41h1v1h-1zM11 42h4v1h-4zM72 42h1v1h-1zM11 43h4v1h-4zM11 44h3v1h-3zM11 45h3v1h-3zM11 46h2v1h-2zM73 46h1v1h-1zM10 47h2v1h-2zM73 47h1v1h-1zM10 48h2v1h-2zM9 49h3v1h-3zM9 50h2v1h-2zM74 50h1v1h-1zM9 51h2v1h-2zM9 52h2v1h-2zM9 53h1v1h-1zM8 54h2v1h-2zM8 55h1v1h-1zM8 56h1v1h-1zM8 57h1v1h-1zM8 58h1v1h-1zM8 59h1v1h-1zM8 60h1v1h-1zM8 61h1v1h-1zM8 62h1v1h-1zM8 63h1v1h-1zM8 64h1v1h-1zM8 65h1v1h-1zM8 66h1v1h-1zM8 67h1v1h-1z"/><path fill="#f1ca7a" stroke="#f1ca7a" stroke-width="0.3" d="M23 11h1v1h-1zM22 12h1v1h-1zM50 13h1v1h-1zM25 16h1v1h-1zM48 16h1v1h-1zM34 17h1v1h-1zM47 17h1v1h-1zM26 18h1v1h-1zM42 18h1v1h-1zM53 18h1v1h-1zM20 19h1v1h-1zM43 19h2v1h-2zM63 19h2v1h-2zM62 20h1v1h-1zM18 21h1v1h-1zM29 21h1v1h-1zM59 21h1v1h-1zM30 22h1v1h-1zM57 22h1v1h-1zM66 26h1v1h-1zM69 34h1v1h-1zM13 35h4v1h-4zM12 36h5v1h-5zM11 37h6v1h-6zM70 37h1v1h-1zM11 38h3v1h-3zM11 39h1v1h-1zM11 40h1v1h-1zM72 40h1v1h-1zM10 41h2v1h-2zM10 42h1v1h-1zM9 43h2v1h-2zM9 44h2v1h-2zM9 45h2v1h-2zM73 45h1v1h-1zM9 46h2v1h-2zM9 47h1v1h-1zM8 48h2v1h-2zM74 48h1v1h-1zM8 49h1v1h-1zM74 49h1v1h-1zM8 50h1v1h-1zM8 51h1v1h-1zM8 52h1v1h-1zM8 53h1v1h-1z"/><path fill="#f2cd7d" stroke="#f2cd7d" stroke-width="0.3" d="M37 10h1v1h-1zM24 12h1v1h-1zM51 13h1v1h-1zM35 14h1v1h-1zM39 14h1v1h-1zM49 14h1v1h-1zM21 15h1v1h-1zM52 15h1v1h-1zM40 16h1v1h-1zM33 17h1v1h-1zM46 17h1v1h-1zM27 18h1v1h-1zM32 18h1v1h-1zM45 18h1v1h-1zM54 18h1v1h-1zM19 19h1v1h-1zM28 19h1v1h-1zM55 19h1v1h-1zM31 20h1v1h-1zM61 20h1v1h-1zM30 21h1v1h-1zM57 21h2v1h-2zM65 21h1v1h-1zM17 24h1v1h-1zM66 25h1v1h-1zM67 28h1v1h-1zM68 29h1v1h-1zM12 32h5v1h-5zM11 33h6v1h-6zM69 33h1v1h-1zM10 34h7v1h-7zM10 35h3v1h-3zM9 36h3v1h-3zM9 37h2v1h-2zM9 38h2v1h-2zM71 38h1v1h-1zM9 39h2v1h-2zM72 39h1v1h-1zM9 40h2v1h-2zM9 41h1v1h-1zM9 42h1v1h-1zM8 43h1v1h-1zM73 43h1v1h-1zM8 44h1v1h-1zM73 44h1v1h-1zM8 45h1v1h-1zM8 46h1v1h-1zM8 47h1v1h-1zM74 47h1v1h-1zM7 66h1v1h-1zM7 67h1v1h-1zM7 68h1v1h-1zM7 69h1v1h-1z"/><path fill="#f3d081" stroke="#f3d081" stroke-width="0.3" d="M23 10h1v1h-1zM22 11h1v1h-1zM36 11h1v1h-1zM38 11h1v1h-1zM25 15h1v1h-1zM34 16h1v1h-1zM41 16h1v1h-1zM26 17h1v1h-1zM42 17h1v1h-1zM53 17h1v1h-1zM20 18h1v1h-1zM43 18h2v1h-2zM63 18h2v1h-2zM62 19h1v1h-1zM18 20h1v1h-1zM29 20h1v1h-1zM56 20h1v1h-1zM59 20h2v1h-2zM17 23h1v1h-1zM67 27h1v1h-1zM9 28h1v1h-1zM68 28h1v1h-1zM9 29h8v1h-8zM9 30h8v1h-8zM9 31h8v1h-8zM9 32h3v1h-3zM69 32h1v1h-1zM9 33h2v1h-2zM9 34h1v1h-1zM9 35h1v1h-1zM8 36h1v1h-1zM70 36h1v1h-1zM8 37h1v1h-1zM71 37h1v1h-1zM8 38h1v1h-1zM72 38h1v1h-1zM8 39h1v1h-1zM8 40h1v1h-1zM8 41h1v1h-1zM8 42h1v1h-1zM73 42h1v1h-1zM74 45h1v1h-1zM74 46h1v1h-1zM7 53h1v1h-1zM7 54h1v1h-1zM7 55h1v1h-1zM7 56h1v1h-1zM7 57h1v1h-1zM7 58h1v1h-1zM7 59h1v1h-1zM7 60h1v1h-1zM7 61h1v1h-1zM7 62h1v1h-1zM7 63h1v1h-1zM7 64h1v1h-1zM7 65h1v1h-1z"/><path fill="#f3d284" stroke="#f3d284" stroke-width="0.3" d="M37 9h1v1h-1zM24 11h1v1h-1zM50 12h2v1h-2zM35 13h1v1h-1zM21 14h1v1h-1zM40 15h1v1h-1zM48 15h1v1h-1zM33 16h1v1h-1zM46 16h2v1h-2zM20 17h1v1h-1zM27 17h1v1h-1zM32 17h1v1h-1zM45 17h1v1h-1zM19 18h1v1h-1zM28 18h1v1h-1zM55 18h1v1h-1zM31 19h1v1h-1zM61 19h1v1h-1zM30 20h1v1h-1zM58 20h1v1h-1zM65 20h1v1h-1zM9 22h1v1h-1zM17 22h1v1h-1zM9 23h1v1h-1zM9 24h2v1h-2zM66 24h1v1h-1zM9 25h2v1h-2zM9 26h3v1h-3zM9 27h6v1h-6zM10 28h7v1h-7zM8 29h1v1h-1zM8 30h1v1h-1zM8 31h1v1h-1zM69 31h1v1h-1zM8 32h1v1h-1zM8 33h1v1h-1zM8 34h1v1h-1zM8 35h1v1h-1zM70 35h1v1h-1zM71 36h1v1h-1zM73 40h1v1h-1zM73 41h1v1h-1zM74 44h1v1h-1zM7 48h1v1h-1zM7 49h1v1h-1zM7 50h1v1h-1zM7 51h1v1h-1zM7 52h1v1h-1z"/><path fill="#f4d488" stroke="#f4d488" stroke-width="0.3" d="M23 9h1v1h-1zM22 10h1v1h-1zM36 10h1v1h-1zM39 13h1v1h-1zM49 13h1v1h-1zM25 14h1v1h-1zM52 14h1v1h-1zM34 15h1v1h-1zM41 15h1v1h-1zM26 16h1v1h-1zM42 16h1v1h-1zM9 17h1v1h-1zM43 17h2v1h-2zM54 17h1v1h-1zM63 17h2v1h-2zM9 18h1v1h-1zM31 18h1v1h-1zM62 18h1v1h-1zM9 19h1v1h-1zM18 19h1v1h-1zM29 19h1v1h-1zM56 19h1v1h-1zM60 19h1v1h-1zM65 19h1v1h-1zM9 20h2v1h-2zM57 20h1v1h-1zM9 21h2v1h-2zM17 21h1v1h-1zM10 22h1v1h-1zM8 23h1v1h-1zM10 23h2v1h-2zM8 24h1v1h-1zM11 24h2v1h-2zM8 25h1v1h-1zM11 25h4v1h-4zM8 26h1v1h-1zM12 26h5v1h-5zM67 26h1v1h-1zM8 27h1v1h-1zM15 27h2v1h-2zM68 27h1v1h-1zM8 28h1v1h-1zM69 30h1v1h-1zM70 34h1v1h-1zM71 35h1v1h-1zM72 37h1v1h-1zM73 39h1v1h-1zM7 42h1v1h-1zM74 42h1v1h-1zM7 43h1v1h-1zM74 43h1v1h-1zM7 44h1v1h-1zM7 45h1v1h-1zM7 46h1v1h-1zM7 47h1v1h-1z"/><path fill="#f5d78c" stroke="#f5d78c" stroke-width="0.3" d="M38 10h1v1h-1zM50 11h2v1h-2zM9 13h1v1h-1zM21 13h1v1h-1zM9 14h1v1h-1zM9 15h1v1h-1zM47 15h1v1h-1zM9 16h1v1h-1zM20 16h1v1h-1zM27 16h1v1h-1zM32 16h1v1h-1zM45 16h1v1h-1zM53 16h1v1h-1zM10 17h1v1h-1zM19 17h1v1h-1zM28 17h1v1h-1zM10 18h1v1h-1zM18 18h1v1h-1zM29 18h1v1h-1zM8 19h1v1h-1zM10 19h1v1h-1zM30 19h1v1h-1zM58 19h2v1h-2zM8 20h1v1h-1zM17 20h1v1h-1zM8 21h1v1h-1zM11 21h1v1h-1zM8 22h1v1h-1zM11 22h3v1h-3zM12 23h3v1h-3zM66 23h1v1h-1zM13 24h4v1h-4zM15 25h2v1h-2zM69 29h1v1h-1zM70 33h1v1h-1zM7 36h1v1h-1zM72 36h1v1h-1zM7 37h1v1h-1zM7 38h1v1h-1zM7 39h1v1h-1zM7 40h1v1h-1zM7 41h1v1h-1zM74 41h1v1h-1zM6 58h1v1h-1zM6 59h1v1h-1zM6 60h1v1h-1zM6 61h1v1h-1zM6 62h1v1h-1zM6 63h1v1h-1zM6 64h1v1h-1zM6 65h1v1h-1zM6 66h1v1h-1zM6 67h1v1h-1zM6 68h1v1h-1zM6 69h1v1h-1z"/><path fill="#f5da90" stroke="#f5da90" stroke-width="0.3" d="M23 8h1v1h-1zM37 8h1v1h-1zM22 9h1v1h-1zM24 10h1v1h-1zM9 11h1v1h-1zM9 12h1v1h-1zM35 12h1v1h-1zM49 12h1v1h-1zM25 13h1v1h-1zM52 13h1v1h-1zM40 14h1v1h-1zM48 14h1v1h-1zM8 15h1v1h-1zM10 15h1v1h-1zM26 15h1v1h-1zM33 15h1v1h-1zM46 15h1v1h-1zM8 16h1v1h-1zM10 16h1v1h-1zM19 16h1v1h-1zM43 16h2v1h-2zM63 16h2v1h-2zM8 17h1v1h-1zM31 17h1v1h-1zM55 17h1v1h-1zM62 17h1v1h-1zM8 18h1v1h-1zM30 18h1v1h-1zM56 18h1v1h-1zM60 18h2v1h-2zM65 18h1v1h-1zM11 19h1v1h-1zM57 19h1v1h-1zM11 20h1v1h-1zM12 21h2v1h-2zM14 22h2v1h-2zM66 22h1v1h-1zM15 23h2v1h-2zM67 25h1v1h-1zM68 26h1v1h-1zM7 30h1v1h-1zM7 31h1v1h-1zM7 32h1v1h-1zM70 32h1v1h-1zM7 33h1v1h-1zM7 34h1v1h-1zM71 34h1v1h-1zM7 35h1v1h-1zM72 35h1v1h-1zM73 38h1v1h-1zM74 40h1v1h-1zM6 50h1v1h-1zM6 51h1v1h-1zM6 52h1v1h-1zM6 53h1v1h-1zM6 54h1v1h-1zM6 55h1v1h-1zM6 56h1v1h-1zM6 57h1v1h-1z"/><path fill="#f6dc94" stroke="#f6dc94" stroke-width="0.3" d="M36 9h1v1h-1zM38 9h1v1h-1zM9 10h1v1h-1zM50 10h1v1h-1zM21 12h1v1h-1zM39 12h1v1h-1zM8 13h1v1h-1zM10 13h1v1h-1zM8 14h1v1h-1zM10 14h1v1h-1zM34 14h1v1h-1zM41 14h1v1h-1zM20 15h1v1h-1zM27 15h1v1h-1zM32 15h1v1h-1zM42 15h1v1h-1zM45 15h1v1h-1zM53 15h1v1h-1zM28 16h1v1h-1zM54 16h1v1h-1zM18 17h1v1h-1zM29 17h1v1h-1zM11 18h1v1h-1zM59 18h1v1h-1zM17 19h1v1h-1zM12 20h3v1h-3zM14 21h3v1h-3zM16 22h1v1h-1zM68 25h1v1h-1zM7 26h1v1h-1zM7 27h1v1h-1zM7 28h1v1h-1zM69 28h1v1h-1zM7 29h1v1h-1zM71 33h1v1h-1zM72 34h1v1h-1zM73 37h1v1h-1zM74 39h1v1h-1zM6 44h1v1h-1zM6 45h1v1h-1zM6 46h1v1h-1zM6 47h1v1h-1zM6 48h1v1h-1zM6 49h1v1h-1zM5 60h1v1h-1zM5 61h1v1h-1zM5 62h1v1h-1zM5 63h1v1h-1zM5 64h1v1h-1zM5 65h1v1h-1zM5 66h1v1h-1zM5 67h1v1h-1zM5 68h1v1h-1zM5 69h1v1h-1z"/><path fill="#f7de97" stroke="#f7de97" stroke-width="0.3" d="M23 7h1v1h-1zM9 9h1v1h-1zM24 9h1v1h-1zM51 10h1v1h-1zM8 11h1v1h-1zM35 11h1v1h-1zM8 12h1v1h-1zM10 12h1v1h-1zM25 12h1v1h-1zM48 13h1v1h-1zM26 14h1v1h-1zM33 14h1v1h-1zM47 14h1v1h-1zM19 15h1v1h-1zM43 15h1v1h-1zM63 15h2v1h-2zM11 16h1v1h-1zM18 16h1v1h-1zM31 16h1v1h-1zM55 16h1v1h-1zM62 16h1v1h-1zM11 17h1v1h-1zM30 17h1v1h-1zM56 17h1v1h-1zM60 17h2v1h-2zM65 17h1v1h-1zM12 18h1v1h-1zM17 18h1v1h-1zM57 18h2v1h-2zM12 19h3v1h-3zM15 20h2v1h-2zM66 21h1v1h-1zM7 22h1v1h-1zM7 23h1v1h-1zM7 24h1v1h-1zM67 24h1v1h-1zM7 25h1v1h-1zM69 27h1v1h-1zM70 31h1v1h-1zM71 32h1v1h-1zM73 36h1v1h-1zM6 38h1v1h-1zM74 38h1v1h-1zM6 39h1v1h-1zM6 40h1v1h-1zM6 41h1v1h-1zM6 42h1v1h-1zM6 43h1v1h-1zM5 51h1v1h-1zM5 52h1v1h-1zM5 53h1v1h-1zM5 54h1v1h-1zM5 55h1v1h-1zM5 56h1v1h-1zM5 57h1v1h-1zM5 58h1v1h-1zM4 59h2v1h-2zM4 60h1v1h-1zM4 61h1v1h-1zM4 62h1v1h-1zM4 63h1v1h-1zM4 64h1v1h-1zM4 65h1v1h-1zM4 66h1v1h-1zM4 67h1v1h-1zM4 68h1v1h-1zM4 69h1v1h-1z"/><path fill="#f7e19b" stroke="#f7e19b" stroke-width="0.3" d="M9 7h1v1h-1zM37 7h1v1h-1zM9 8h1v1h-1zM22 8h1v1h-1zM50 9h1v1h-1zM8 10h1v1h-1zM10 11h1v1h-1zM21 11h1v1h-1zM39 11h1v1h-1zM49 11h1v1h-1zM52 12h1v1h-1zM34 13h1v1h-1zM40 13h1v1h-1zM20 14h1v1h-1zM27 14h1v1h-1zM42 14h1v1h-1zM46 14h1v1h-1zM11 15h1v1h-1zM28 15h1v1h-1zM44 15h1v1h-1zM54 15h1v1h-1zM29 16h2v1h-2zM65 16h1v1h-1zM12 17h1v1h-1zM58 17h2v1h-2zM13 18h2v1h-2zM15 19h2v1h-2zM7 20h1v1h-1zM66 20h1v1h-1zM7 21h1v1h-1zM67 23h1v1h-1zM68 24h1v1h-1zM70 30h1v1h-1zM71 31h1v1h-1zM72 33h1v1h-1zM6 34h1v1h-1zM6 35h1v1h-1zM73 35h1v1h-1zM6 36h1v1h-1zM6 37h1v1h-1zM74 37h1v1h-1zM5 45h1v1h-1zM5 46h1v1h-1zM5 47h1v1h-1zM5 48h1v1h-1zM5 49h1v1h-1zM5 50h1v1h-1zM4 51h1v1h-1zM4 52h1v1h-1zM4 53h1v1h-1zM4 54h1v1h-1zM4 55h1v1h-1zM4 56h1v1h-1zM4 57h1v1h-1zM4 58h1v1h-1z"/><path fill="#f8e49f" stroke="#f8e49f" stroke-width="0.3" d="M9 6h1v1h-1zM23 6h1v1h-1zM36 8h1v1h-1zM38 8h1v1h-1zM8 9h1v1h-1zM51 9h1v1h-1zM10 10h1v1h-1zM25 11h1v1h-1zM26 13h1v1h-1zM33 13h1v1h-1zM41 13h1v1h-1zM47 13h1v1h-1zM11 14h1v1h-1zM19 14h1v1h-1zM32 14h1v1h-1zM45 14h1v1h-1zM53 14h1v1h-1zM63 14h2v1h-2zM18 15h1v1h-1zM31 15h1v1h-1zM55 15h1v1h-1zM62 15h1v1h-1zM12 16h1v1h-1zM56 16h1v1h-1zM60 16h2v1h-2zM13 17h2v1h-2zM17 17h1v1h-1zM57 17h1v1h-1zM7 18h1v1h-1zM15 18h2v1h-2zM7 19h1v1h-1zM69 26h1v1h-1zM6 29h1v1h-1zM70 29h1v1h-1zM6 30h1v1h-1zM6 31h1v1h-1zM6 32h1v1h-1zM72 32h1v1h-1zM6 33h1v1h-1zM5 39h1v1h-1zM5 40h1v1h-1zM5 41h1v1h-1zM5 42h1v1h-1zM5 43h1v1h-1zM5 44h1v1h-1zM4 45h1v1h-1zM4 46h1v1h-1zM4 47h1v1h-1zM4 48h1v1h-1zM4 49h1v1h-1zM4 50h1v1h-1z"/><path fill="#f9e6a2" stroke="#f9e6a2" stroke-width="0.3" d="M37 6h1v1h-1zM22 7h1v1h-1zM8 8h1v1h-1zM24 8h1v1h-1zM50 8h1v1h-1zM10 9h1v1h-1zM21 10h1v1h-1zM35 10h1v1h-1zM49 10h1v1h-1zM52 11h1v1h-1zM34 12h1v1h-1zM40 12h1v1h-1zM48 12h1v1h-1zM11 13h1v1h-1zM20 13h1v1h-1zM27 13h1v1h-1zM46 13h1v1h-1zM28 14h1v1h-1zM43 14h2v1h-2zM12 15h1v1h-1zM29 15h2v1h-2zM65 15h1v1h-1zM7 16h1v1h-1zM13 16h2v1h-2zM17 16h1v1h-1zM58 16h2v1h-2zM7 17h1v1h-1zM15 17h2v1h-2zM66 19h1v1h-1zM67 22h1v1h-1zM68 23h1v1h-1zM6 27h1v1h-1zM6 28h1v1h-1zM71 30h1v1h-1zM72 31h1v1h-1zM73 34h1v1h-1zM5 35h1v1h-1zM5 36h1v1h-1zM74 36h1v1h-1zM5 37h1v1h-1zM5 38h1v1h-1zM4 40h1v1h-1zM4 41h1v1h-1zM4 42h1v1h-1zM4 43h1v1h-1zM4 44h1v1h-1zM3 66h1v1h-1zM3 67h1v1h-1zM3 68h1v1h-1zM3 69h1v1h-1z"/><path fill="#f9e8a6" stroke="#f9e8a6" stroke-width="0.3" d="M9 5h1v1h-1zM23 5h1v1h-1zM8 7h1v1h-1zM10 8h1v1h-1zM51 8h1v1h-1zM11 12h1v1h-1zM20 12h1v1h-1zM41 12h1v1h-1zM19 13h1v1h-1zM32 13h1v1h-1zM42 13h1v1h-1zM53 13h1v1h-1zM64 13h1v1h-1zM7 14h1v1h-1zM12 14h1v1h-1zM18 14h1v1h-1zM31 14h1v1h-1zM54 14h1v1h-1zM62 14h1v1h-1zM7 15h1v1h-1zM13 15h2v1h-2zM17 15h1v1h-1zM60 15h2v1h-2zM15 16h2v1h-2zM57 16h1v1h-1zM67 21h1v1h-1zM68 22h1v1h-1zM6 24h1v1h-1zM6 25h1v1h-1zM69 25h1v1h-1zM6 26h1v1h-1zM70 28h1v1h-1zM71 29h1v1h-1zM72 30h1v1h-1zM5 31h1v1h-1zM5 32h1v1h-1zM5 33h1v1h-1zM73 33h1v1h-1zM5 34h1v1h-1zM74 35h1v1h-1zM4 36h1v1h-1zM4 37h1v1h-1zM4 38h1v1h-1zM4 39h1v1h-1zM3 57h1v1h-1zM3 58h1v1h-1zM3 59h1v1h-1zM3 60h1v1h-1zM3 61h1v1h-1zM3 62h1v1h-1zM3 63h1v1h-1zM3 64h1v1h-1zM3 65h1v1h-1z"/><path fill="#faebaa" stroke="#faebaa" stroke-width="0.3" d="M37 5h1v1h-1zM8 6h1v1h-1zM24 7h1v1h-1zM36 7h1v1h-1zM25 10h1v1h-1zM39 10h1v1h-1zM11 11h1v1h-1zM19 12h1v1h-1zM26 12h2v1h-2zM33 12h1v1h-1zM47 12h1v1h-1zM7 13h1v1h-1zM28 13h1v1h-1zM45 13h1v1h-1zM63 13h1v1h-1zM13 14h1v1h-1zM29 14h2v1h-2zM55 14h1v1h-1zM15 15h1v1h-1zM56 15h1v1h-1zM59 15h1v1h-1zM66 18h1v1h-1zM6 22h1v1h-1zM6 23h1v1h-1zM69 24h1v1h-1zM70 27h1v1h-1zM5 28h1v1h-1zM5 29h1v1h-1zM5 30h1v1h-1zM4 32h1v1h-1zM73 32h1v1h-1zM4 33h1v1h-1zM4 34h1v1h-1zM74 34h1v1h-1zM4 35h1v1h-1zM3 51h1v1h-1zM3 52h1v1h-1zM3 53h1v1h-1zM3 54h1v1h-1zM3 55h1v1h-1zM3 56h1v1h-1z"/><path fill="#faecae" stroke="#faecae" stroke-width="0.3" d="M22 6h1v1h-1zM10 7h1v1h-1zM38 7h1v1h-1zM50 7h2v1h-2zM21 9h1v1h-1zM35 9h1v1h-1zM49 9h1v1h-1zM52 10h1v1h-1zM34 11h1v1h-1zM40 11h1v1h-1zM48 11h1v1h-1zM7 12h1v1h-1zM32 12h1v1h-1zM42 12h1v1h-1zM46 12h1v1h-1zM12 13h2v1h-2zM18 13h1v1h-1zM31 13h1v1h-1zM43 13h2v1h-2zM54 13h1v1h-1zM14 14h1v1h-1zM17 14h1v1h-1zM61 14h1v1h-1zM65 14h1v1h-1zM16 15h1v1h-1zM57 15h2v1h-2zM66 17h1v1h-1zM6 20h1v1h-1zM67 20h1v1h-1zM6 21h1v1h-1zM68 21h1v1h-1zM5 26h1v1h-1zM5 27h1v1h-1zM71 28h1v1h-1zM4 29h1v1h-1zM72 29h1v1h-1zM4 30h1v1h-1zM4 31h1v1h-1zM73 31h1v1h-1zM74 33h1v1h-1zM3 47h1v1h-1zM3 48h1v1h-1zM3 49h1v1h-1zM3 50h1v1h-1zM2 66h1v1h-1zM2 67h1v1h-1zM2 68h1v1h-1zM2 69h1v1h-1z"/><path fill="#f9eeb2" stroke="#f9eeb2" stroke-width="0.3" d="M9 4h1v1h-1zM23 4h1v1h-1zM8 5h1v1h-1zM10 6h1v1h-1zM36 6h1v1h-1zM11 10h1v1h-1zM7 11h1v1h-1zM20 11h1v1h-1zM26 11h1v1h-1zM33 11h1v1h-1zM41 11h1v1h-1zM12 12h2v1h-2zM18 12h1v1h-1zM28 12h1v1h-1zM45 12h1v1h-1zM53 12h1v1h-1zM63 12h2v1h-2zM14 13h1v1h-1zM29 13h1v1h-1zM62 13h1v1h-1zM15 14h2v1h-2zM56 14h1v1h-1zM59 14h2v1h-2zM6 19h1v1h-1zM67 19h1v1h-1zM68 20h1v1h-1zM69 23h1v1h-1zM5 24h1v1h-1zM5 25h1v1h-1zM70 26h1v1h-1zM4 27h1v1h-1zM71 27h1v1h-1zM4 28h1v1h-1zM72 28h1v1h-1zM73 30h1v1h-1zM3 42h1v1h-1zM3 43h1v1h-1zM3 44h1v1h-1zM3 45h1v1h-1zM3 46h1v1h-1zM2 60h1v1h-1zM2 61h1v1h-1zM2 62h1v1h-1zM2 63h1v1h-1zM2 64h1v1h-1zM2 65h1v1h-1zM1 68h1v1h-1zM1 69h1v1h-1z"/><path fill="#f9efb6" stroke="#f9efb6" stroke-width="0.3" d="M37 4h1v1h-1zM22 5h1v1h-1zM24 6h1v1h-1zM38 6h1v1h-1zM50 6h1v1h-1zM49 8h1v1h-1zM25 9h1v1h-1zM39 9h1v1h-1zM52 9h1v1h-1zM19 11h1v1h-1zM27 11h1v1h-1zM47 11h1v1h-1zM64 11h1v1h-1zM14 12h1v1h-1zM43 12h2v1h-2zM15 13h1v1h-1zM17 13h1v1h-1zM30 13h1v1h-1zM55 13h1v1h-1zM65 13h1v1h-1zM57 14h2v1h-2zM66 16h1v1h-1zM6 17h1v1h-1zM6 18h1v1h-1zM5 22h1v1h-1zM69 22h1v1h-1zM5 23h1v1h-1zM4 25h1v1h-1zM4 26h1v1h-1zM74 32h1v1h-1zM3 39h1v1h-1zM3 40h1v1h-1zM3 41h1v1h-1zM2 53h1v1h-1zM2 54h1v1h-1zM2 55h1v1h-1zM2 56h1v1h-1zM2 57h1v1h-1zM2 58h1v1h-1zM2 59h1v1h-1zM1 62h1v1h-1zM1 63h1v1h-1zM1 64h1v1h-1zM1 65h1v1h-1zM1 66h1v1h-1zM1 67h1v1h-1z"/><path fill="#f9f0bb" stroke="#f9f0bb" stroke-width="0.3" d="M10 5h1v1h-1zM36 5h1v1h-1zM51 6h1v1h-1zM21 8h1v1h-1zM11 9h1v1h-1zM7 10h1v1h-1zM34 10h1v1h-1zM48 10h1v1h-1zM12 11h2v1h-2zM32 11h1v1h-1zM42 11h1v1h-1zM46 11h1v1h-1zM53 11h1v1h-1zM63 11h1v1h-1zM17 12h1v1h-1zM29 12h1v1h-1zM31 12h1v1h-1zM54 12h1v1h-1zM62 12h1v1h-1zM16 13h1v1h-1zM60 13h2v1h-2zM66 15h1v1h-1zM6 16h1v1h-1zM67 18h1v1h-1zM68 19h1v1h-1zM5 20h1v1h-1zM5 21h1v1h-1zM4 23h1v1h-1zM4 24h1v1h-1zM70 25h1v1h-1zM71 26h1v1h-1zM72 27h1v1h-1zM73 29h1v1h-1zM74 31h1v1h-1zM3 36h1v1h-1zM3 37h1v1h-1zM3 38h1v1h-1zM2 49h1v1h-1zM2 50h1v1h-1zM2 51h1v1h-1zM2 52h1v1h-1zM1 55h1v1h-1zM1 56h1v1h-1zM1 57h1v1h-1zM1 58h1v1h-1zM1 59h1v1h-1zM1 60h1v1h-1zM1 61h1v1h-1z"/><path fill="#f8f1bf" stroke="#f8f1bf" stroke-width="0.3" d="M9 3h1v1h-1zM23 3h1v1h-1zM8 4h1v1h-1zM22 4h1v1h-1zM24 5h1v1h-1zM38 5h1v1h-1zM50 5h2v1h-2zM35 8h1v1h-1zM7 9h1v1h-1zM20 10h1v1h-1zM26 10h1v1h-1zM40 10h1v1h-1zM64 10h1v1h-1zM18 11h1v1h-1zM28 11h1v1h-1zM45 11h1v1h-1zM15 12h2v1h-2zM30 12h1v1h-1zM55 12h1v1h-1zM65 12h1v1h-1zM56 13h1v1h-1zM59 13h1v1h-1zM6 15h1v1h-1zM67 17h1v1h-1zM68 18h1v1h-1zM5 19h1v1h-1zM4 21h1v1h-1zM69 21h1v1h-1zM4 22h1v1h-1zM70 24h1v1h-1zM71 25h1v1h-1zM72 26h1v1h-1zM73 28h1v1h-1zM74 30h1v1h-1zM3 33h1v1h-1zM3 34h1v1h-1zM3 35h1v1h-1zM2 45h1v1h-1zM2 46h1v1h-1zM2 47h1v1h-1zM2 48h1v1h-1zM1 51h1v1h-1zM1 52h1v1h-1zM1 53h1v1h-1zM1 54h1v1h-1zM0 69h1v1h-1z"/><path fill="#f8f2c3" stroke="#f8f2c3" stroke-width="0.3" d="M37 3h1v1h-1zM49 7h1v1h-1zM7 8h1v1h-1zM25 8h1v1h-1zM39 8h1v1h-1zM52 8h1v1h-1zM12 10h1v1h-1zM19 10h1v1h-1zM27 10h1v1h-1zM33 10h1v1h-1zM41 10h1v1h-1zM47 10h1v1h-1zM63 10h1v1h-1zM14 11h1v1h-1zM31 11h1v1h-1zM54 11h1v1h-1zM62 11h1v1h-1zM61 12h1v1h-1zM57 13h2v1h-2zM6 14h1v1h-1zM66 14h1v1h-1zM67 16h1v1h-1zM68 17h1v1h-1zM5 18h1v1h-1zM4 20h1v1h-1zM69 20h1v1h-1zM70 23h1v1h-1zM74 29h1v1h-1zM3 31h1v1h-1zM3 32h1v1h-1zM2 41h1v1h-1zM2 42h1v1h-1zM2 43h1v1h-1zM2 44h1v1h-1zM1 47h1v1h-1zM1 48h1v1h-1zM1 49h1v1h-1zM1 50h1v1h-1zM0 63h1v1h-1zM0 64h1v1h-1zM0 65h1v1h-1zM0 66h1v1h-1zM0 67h1v1h-1zM0 68h1v1h-1z"/><path fill="#f8f4c7" stroke="#f8f4c7" stroke-width="0.3" d="M10 4h1v1h-1zM36 4h1v1h-1zM50 4h1v1h-1zM11 8h1v1h-1zM48 9h1v1h-1zM63 9h2v1h-2zM13 10h1v1h-1zM32 10h1v1h-1zM46 10h1v1h-1zM53 10h1v1h-1zM15 11h1v1h-1zM17 11h1v1h-1zM29 11h1v1h-1zM43 11h2v1h-2zM65 11h1v1h-1zM56 12h1v1h-1zM59 12h2v1h-2zM6 13h1v1h-1zM5 17h1v1h-1zM4 19h1v1h-1zM71 24h1v1h-1zM72 25h1v1h-1zM73 27h1v1h-1zM74 28h1v1h-1zM3 29h1v1h-1zM3 30h1v1h-1zM2 39h1v1h-1zM2 40h1v1h-1zM1 43h1v1h-1zM1 44h1v1h-1zM1 45h1v1h-1zM1 46h1v1h-1zM0 56h1v1h-1zM0 57h1v1h-1zM0 58h1v1h-1zM0 59h1v1h-1zM0 60h1v1h-1zM0 61h1v1h-1zM0 62h1v1h-1z"/><path fill="#f7f5cb" stroke="#f7f5cb" stroke-width="0.3" d="M8 3h1v1h-1zM24 4h1v1h-1zM38 4h1v1h-1zM51 4h1v1h-1zM7 7h1v1h-1zM21 7h1v1h-1zM35 7h1v1h-1zM20 9h1v1h-1zM34 9h1v1h-1zM40 9h1v1h-1zM18 10h1v1h-1zM28 10h1v1h-1zM42 10h1v1h-1zM16 11h1v1h-1zM30 11h1v1h-1zM55 11h1v1h-1zM6 12h1v1h-1zM57 12h2v1h-2zM66 13h1v1h-1zM67 15h1v1h-1zM5 16h1v1h-1zM68 16h1v1h-1zM4 18h1v1h-1zM69 19h1v1h-1zM70 22h1v1h-1zM71 23h1v1h-1zM72 24h1v1h-1zM73 26h1v1h-1zM3 27h1v1h-1zM74 27h1v1h-1zM3 28h1v1h-1zM2 37h1v1h-1zM2 38h1v1h-1zM1 39h1v1h-1zM1 40h1v1h-1zM1 41h1v1h-1zM1 42h1v1h-1zM0 51h1v1h-1zM0 52h1v1h-1zM0 53h1v1h-1zM0 54h1v1h-1zM0 55h1v1h-1z"/><path fill="#f7f6d0" stroke="#f7f6d0" stroke-width="0.3" d="M22 3h1v1h-1zM50 3h1v1h-1zM7 6h1v1h-1zM49 6h1v1h-1zM11 7h1v1h-1zM52 7h1v1h-1zM64 8h1v1h-1zM12 9h1v1h-1zM19 9h1v1h-1zM26 9h2v1h-2zM33 9h1v1h-1zM41 9h1v1h-1zM14 10h1v1h-1zM45 10h1v1h-1zM62 10h1v1h-1zM65 10h1v1h-1zM60 11h2v1h-2zM5 15h1v1h-1zM68 15h1v1h-1zM4 17h1v1h-1zM69 18h1v1h-1zM70 21h1v1h-1zM71 22h1v1h-1zM72 23h1v1h-1zM73 25h1v1h-1zM3 26h1v1h-1zM74 26h1v1h-1zM2 34h1v1h-1zM2 35h1v1h-1zM2 36h1v1h-1zM1 37h1v1h-1zM1 38h1v1h-1zM0 47h1v1h-1zM0 48h1v1h-1zM0 49h1v1h-1zM0 50h1v1h-1z"/><path fill="#f7f8d4" stroke="#f7f8d4" stroke-width="0.3" d="M10 3h1v1h-1zM36 3h1v1h-1zM38 3h1v1h-1zM51 3h1v1h-1zM25 7h1v1h-1zM39 7h1v1h-1zM48 8h1v1h-1zM63 8h1v1h-1zM13 9h1v1h-1zM47 9h1v1h-1zM15 10h1v1h-1zM17 10h1v1h-1zM31 10h1v1h-1zM43 10h1v1h-1zM54 10h1v1h-1zM6 11h1v1h-1zM56 11h1v1h-1zM59 11h1v1h-1zM66 12h1v1h-1zM5 14h1v1h-1zM67 14h1v1h-1zM4 16h1v1h-1zM71 21h1v1h-1zM72 22h1v1h-1zM73 24h1v1h-1zM3 25h1v1h-1zM74 25h1v1h-1zM2 32h1v1h-1zM2 33h1v1h-1zM1 35h1v1h-1zM1 36h1v1h-1zM0 43h1v1h-1zM0 44h1v1h-1zM0 45h1v1h-1zM0 46h1v1h-1z"/><path fill="#f6f9d8" stroke="#f6f9d8" stroke-width="0.3" d="M24 3h1v1h-1zM7 5h1v1h-1zM49 5h1v1h-1zM21 6h1v1h-1zM35 6h1v1h-1zM64 7h1v1h-1zM20 8h1v1h-1zM34 8h1v1h-1zM18 9h1v1h-1zM32 9h1v1h-1zM46 9h1v1h-1zM53 9h1v1h-1zM62 9h1v1h-1zM65 9h1v1h-1zM16 10h1v1h-1zM29 10h2v1h-2zM44 10h1v1h-1zM55 10h1v1h-1zM57 11h2v1h-2zM68 14h1v1h-1zM4 15h1v1h-1zM69 17h1v1h-1zM70 20h1v1h-1zM72 21h1v1h-1zM3 23h1v1h-1zM73 23h1v1h-1zM3 24h1v1h-1zM2 30h1v1h-1zM2 31h1v1h-1zM1 33h1v1h-1zM1 34h1v1h-1zM0 40h1v1h-1zM0 41h1v1h-1zM0 42h1v1h-1z"/><path fill="#f6fadc" stroke="#f6fadc" stroke-width="0.3" d="M11 6h1v1h-1zM52 6h1v1h-1zM63 7h1v1h-1zM26 8h1v1h-1zM40 8h1v1h-1zM14 9h1v1h-1zM28 9h1v1h-1zM42 9h1v1h-1zM6 10h1v1h-1zM61 10h1v1h-1zM66 11h1v1h-1zM5 13h1v1h-1zM67 13h1v1h-1zM4 14h1v1h-1zM69 16h1v1h-1zM70 19h1v1h-1zM71 20h1v1h-1zM3 22h1v1h-1zM73 22h1v1h-1zM74 24h1v1h-1zM2 29h1v1h-1zM1 31h1v1h-1zM1 32h1v1h-1zM0 38h1v1h-1zM0 39h1v1h-1z"/><path fill="#f3fadf" stroke="#f3fadf" stroke-width="0.3" d="M49 4h1v1h-1zM21 5h1v1h-1zM25 6h1v1h-1zM39 6h1v1h-1zM12 8h1v1h-1zM19 8h1v1h-1zM27 8h1v1h-1zM33 8h1v1h-1zM65 8h1v1h-1zM31 9h1v1h-1zM45 9h1v1h-1zM54 9h1v1h-1zM59 10h2v1h-2zM5 12h1v1h-1zM67 12h1v1h-1zM68 13h1v1h-1zM69 15h1v1h-1zM72 20h1v1h-1zM3 21h1v1h-1zM73 21h1v1h-1zM74 23h1v1h-1zM2 28h1v1h-1zM1 30h1v1h-1zM0 36h1v1h-1zM0 37h1v1h-1z"/><path fill="#effae1" stroke="#effae1" stroke-width="0.3" d="M7 4h1v1h-1zM11 5h1v1h-1zM35 5h1v1h-1zM52 5h1v1h-1zM64 6h1v1h-1zM48 7h1v1h-1zM13 8h1v1h-1zM41 8h1v1h-1zM47 8h1v1h-1zM53 8h1v1h-1zM62 8h1v1h-1zM6 9h1v1h-1zM15 9h1v1h-1zM17 9h1v1h-1zM29 9h1v1h-1zM43 9h1v1h-1zM55 9h1v1h-1zM56 10h1v1h-1zM66 10h1v1h-1zM68 12h1v1h-1zM4 13h1v1h-1zM70 18h1v1h-1zM71 19h1v1h-1zM3 20h1v1h-1zM74 22h1v1h-1zM2 27h1v1h-1zM1 28h1v1h-1zM1 29h1v1h-1zM0 34h1v1h-1zM0 35h1v1h-1z"/><path fill="#ecf9e4" stroke="#ecf9e4" stroke-width="0.3" d="M21 4h1v1h-1zM25 5h1v1h-1zM63 6h1v1h-1zM65 7h1v1h-1zM18 8h1v1h-1zM32 8h1v1h-1zM46 8h1v1h-1zM16 9h1v1h-1zM30 9h1v1h-1zM44 9h1v1h-1zM61 9h1v1h-1zM57 10h2v1h-2zM5 11h1v1h-1zM67 11h1v1h-1zM4 12h1v1h-1zM69 14h1v1h-1zM70 17h1v1h-1zM71 18h1v1h-1zM3 19h1v1h-1zM72 19h1v1h-1zM73 20h1v1h-1zM74 21h1v1h-1zM2 26h1v1h-1zM1 27h1v1h-1zM0 31h1v1h-1zM0 32h1v1h-1zM0 33h1v1h-1z"/><path fill="#e8f9e7" stroke="#e8f9e7" stroke-width="0.3" d="M49 3h1v1h-1zM35 4h1v1h-1zM52 4h1v1h-1zM39 5h1v1h-1zM12 7h1v1h-1zM20 7h1v1h-1zM26 7h1v1h-1zM34 7h1v1h-1zM6 8h1v1h-1zM14 8h1v1h-1zM28 8h1v1h-1zM42 8h1v1h-1zM54 8h1v1h-1zM60 9h1v1h-1zM66 9h1v1h-1zM68 11h1v1h-1zM3 18h1v1h-1zM72 18h1v1h-1zM2 24h1v1h-1zM2 25h1v1h-1zM1 26h1v1h-1zM0 30h1v1h-1z"/><path fill="#e5f9e9" stroke="#e5f9e9" stroke-width="0.3" d="M7 3h1v1h-1zM11 4h1v1h-1zM64 5h1v1h-1zM48 6h1v1h-1zM65 6h1v1h-1zM13 7h1v1h-1zM19 7h1v1h-1zM27 7h1v1h-1zM33 7h1v1h-1zM40 7h1v1h-1zM53 7h1v1h-1zM62 7h1v1h-1zM45 8h1v1h-1zM56 9h1v1h-1zM59 9h1v1h-1zM5 10h1v1h-1zM4 11h1v1h-1zM69 13h1v1h-1zM70 16h1v1h-1zM3 17h1v1h-1zM71 17h1v1h-1zM73 19h1v1h-1zM74 20h1v1h-1zM2 23h1v1h-1zM1 25h1v1h-1zM0 29h1v1h-1z"/><path fill="#e1f8ec" stroke="#e1f8ec" stroke-width="0.3" d="M21 3h1v1h-1zM52 3h1v1h-1zM25 4h1v1h-1zM39 4h1v1h-1zM63 5h1v1h-1zM6 7h1v1h-1zM41 7h1v1h-1zM47 7h1v1h-1zM15 8h1v1h-1zM17 8h1v1h-1zM29 8h1v1h-1zM31 8h1v1h-1zM55 8h1v1h-1zM61 8h1v1h-1zM58 9h1v1h-1zM67 10h1v1h-1zM69 12h1v1h-1zM70 15h1v1h-1zM3 16h1v1h-1zM71 16h1v1h-1zM72 17h1v1h-1zM73 18h1v1h-1zM74 19h1v1h-1zM2 22h1v1h-1zM1 24h1v1h-1zM0 28h1v1h-1z"/><path fill="#def8ef" stroke="#def8ef" stroke-width="0.3" d="M35 3h1v1h-1zM12 6h1v1h-1zM20 6h1v1h-1zM34 6h1v1h-1zM32 7h1v1h-1zM46 7h1v1h-1zM16 8h1v1h-1zM30 8h1v1h-1zM43 8h2v1h-2zM60 8h1v1h-1zM66 8h1v1h-1zM57 9h1v1h-1zM4 10h1v1h-1zM68 10h1v1h-1zM70 14h1v1h-1zM3 15h1v1h-1zM72 16h1v1h-1zM2 21h1v1h-1zM1 23h1v1h-1zM0 27h1v1h-1z"/><path fill="#dbf8f1" stroke="#dbf8f1" stroke-width="0.3" d="M11 3h1v1h-1zM64 4h1v1h-1zM48 5h1v1h-1zM65 5h1v1h-1zM6 6h1v1h-1zM26 6h1v1h-1zM40 6h1v1h-1zM53 6h1v1h-1zM62 6h1v1h-1zM14 7h1v1h-1zM18 7h1v1h-1zM28 7h1v1h-1zM54 7h1v1h-1zM59 8h1v1h-1zM5 9h1v1h-1zM67 9h1v1h-1zM69 11h1v1h-1zM71 15h1v1h-1zM73 17h1v1h-1zM74 18h1v1h-1zM2 20h1v1h-1zM1 22h1v1h-1zM0 26h1v1h-1z"/><path fill="#d7f8f4" stroke="#d7f8f4" stroke-width="0.3" d="M25 3h1v1h-1zM39 3h1v1h-1zM63 4h1v1h-1zM13 6h1v1h-1zM19 6h1v1h-1zM27 6h1v1h-1zM33 6h1v1h-1zM41 6h1v1h-1zM47 6h1v1h-1zM42 7h1v1h-1zM66 7h1v1h-1zM56 8h1v1h-1zM68 9h1v1h-1zM70 13h1v1h-1zM3 14h1v1h-1zM71 14h1v1h-1zM72 15h1v1h-1zM73 16h1v1h-1zM74 17h1v1h-1zM1 21h1v1h-1zM0 25h1v1h-1z"/><path fill="#d4f8f7" stroke="#d4f8f7" stroke-width="0.3" d="M48 4h1v1h-1zM65 4h1v1h-1zM6 5h1v1h-1zM12 5h1v1h-1zM20 5h1v1h-1zM26 5h1v1h-1zM34 5h1v1h-1zM53 5h1v1h-1zM31 7h1v1h-1zM45 7h1v1h-1zM55 7h1v1h-1zM61 7h1v1h-1zM5 8h1v1h-1zM57 8h2v1h-2zM4 9h1v1h-1zM69 10h1v1h-1zM70 12h1v1h-1zM3 13h1v1h-1zM71 13h1v1h-1zM72 14h1v1h-1zM2 19h1v1h-1zM1 20h1v1h-1z"/><path fill="#d0f7f9" stroke="#d0f7f9" stroke-width="0.3" d="M64 3h1v1h-1zM13 5h1v1h-1zM19 5h1v1h-1zM33 5h1v1h-1zM40 5h1v1h-1zM62 5h1v1h-1zM14 6h1v1h-1zM18 6h1v1h-1zM32 6h1v1h-1zM46 6h1v1h-1zM54 6h1v1h-1zM66 6h1v1h-1zM15 7h1v1h-1zM17 7h1v1h-1zM29 7h1v1h-1zM60 7h1v1h-1zM67 8h2v1h-2zM70 11h1v1h-1zM71 12h1v1h-1zM72 13h1v1h-1zM73 15h1v1h-1zM74 16h1v1h-1zM2 18h1v1h-1zM0 24h1v1h-1z"/><path fill="#cdf7fc" stroke="#cdf7fc" stroke-width="0.3" d="M48 3h1v1h-1zM63 3h1v1h-1zM12 4h1v1h-1zM20 4h1v1h-1zM34 4h1v1h-1zM27 5h1v1h-1zM41 5h1v1h-1zM47 5h1v1h-1zM66 5h1v1h-1zM28 6h1v1h-1zM5 7h1v1h-1zM16 7h1v1h-1zM30 7h1v1h-1zM43 7h2v1h-2zM59 7h1v1h-1zM4 8h1v1h-1zM69 9h1v1h-1zM3 12h1v1h-1zM73 14h1v1h-1zM2 17h1v1h-1zM1 19h1v1h-1zM0 23h1v1h-1z"/><path fill="#caf5fc" stroke="#caf5fc" stroke-width="0.3" d="M65 3h1v1h-1zM6 4h1v1h-1zM26 4h1v1h-1zM40 4h1v1h-1zM53 4h1v1h-1zM62 4h1v1h-1zM46 5h1v1h-1zM54 5h1v1h-1zM42 6h1v1h-1zM45 6h1v1h-1zM55 6h1v1h-1zM61 6h1v1h-1zM56 7h1v1h-1zM67 7h1v1h-1zM70 10h1v1h-1zM3 11h1v1h-1zM71 11h1v1h-1zM72 12h1v1h-1zM74 15h1v1h-1zM2 16h1v1h-1zM1 18h1v1h-1zM0 22h1v1h-1z"/><path fill="#c6f3fb" stroke="#c6f3fb" stroke-width="0.3" d="M20 3h1v1h-1zM34 3h1v1h-1zM13 4h1v1h-1zM19 4h1v1h-1zM27 4h1v1h-1zM33 4h1v1h-1zM47 4h1v1h-1zM66 4h1v1h-1zM14 5h1v1h-1zM18 5h1v1h-1zM32 5h1v1h-1zM15 6h1v1h-1zM31 6h1v1h-1zM60 6h1v1h-1zM67 6h1v1h-1zM58 7h1v1h-1zM68 7h1v1h-1zM69 8h1v1h-1zM71 10h1v1h-1zM72 11h1v1h-1zM73 13h1v1h-1zM74 14h1v1h-1zM1 17h1v1h-1zM0 21h1v1h-1z"/><path fill="#c3f1fb" stroke="#c3f1fb" stroke-width="0.3" d="M6 3h1v1h-1zM12 3h1v1h-1zM26 3h1v1h-1zM40 3h1v1h-1zM53 3h1v1h-1zM41 4h1v1h-1zM54 4h1v1h-1zM28 5h1v1h-1zM55 5h1v1h-1zM67 5h1v1h-1zM5 6h1v1h-1zM17 6h1v1h-1zM29 6h1v1h-1zM43 6h1v1h-1zM68 6h1v1h-1zM4 7h1v1h-1zM57 7h1v1h-1zM70 9h1v1h-1zM3 10h1v1h-1zM73 12h1v1h-1zM74 13h1v1h-1zM2 15h1v1h-1zM1 16h1v1h-1zM0 20h1v1h-1z"/><path fill="#c0effb" stroke="#c0effb" stroke-width="0.3" d="M13 3h1v1h-1zM19 3h1v1h-1zM27 3h1v1h-1zM33 3h1v1h-1zM47 3h1v1h-1zM62 3h1v1h-1zM14 4h1v1h-1zM32 4h1v1h-1zM46 4h1v1h-1zM42 5h1v1h-1zM45 5h1v1h-1zM61 5h1v1h-1zM68 5h1v1h-1zM16 6h1v1h-1zM30 6h1v1h-1zM44 6h1v1h-1zM56 6h1v1h-1zM59 6h1v1h-1zM69 7h1v1h-1zM70 8h1v1h-1zM71 9h1v1h-1zM72 10h1v1h-1zM73 11h1v1h-1zM2 14h1v1h-1zM1 15h1v1h-1zM0 19h1v1h-1z"/><path fill="#bcedfa" stroke="#bcedfa" stroke-width="0.3" d="M41 3h1v1h-1zM54 3h1v1h-1zM66 3h1v1h-1zM18 4h1v1h-1zM28 4h1v1h-1zM55 4h1v1h-1zM67 4h2v1h-2zM5 5h1v1h-1zM15 5h1v1h-1zM31 5h1v1h-1zM60 5h1v1h-1zM4 6h1v1h-1zM58 6h1v1h-1zM69 6h1v1h-1zM71 8h1v1h-1zM3 9h1v1h-1zM72 9h1v1h-1zM74 12h1v1h-1zM0 18h1v1h-1z"/><path fill="#b9eafa" stroke="#b9eafa" stroke-width="0.3" d="M14 3h1v1h-1zM32 3h1v1h-1zM46 3h1v1h-1zM42 4h1v1h-1zM61 4h1v1h-1zM17 5h1v1h-1zM29 5h1v1h-1zM43 5h1v1h-1zM56 5h1v1h-1zM59 5h1v1h-1zM69 5h1v1h-1zM57 6h1v1h-1zM70 7h1v1h-1zM72 8h1v1h-1zM73 10h1v1h-1zM74 11h1v1h-1zM2 13h1v1h-1zM1 14h1v1h-1zM0 17h1v1h-1z"/><path fill="#b6e8fa" stroke="#b6e8fa" stroke-width="0.3" d="M18 3h1v1h-1zM28 3h1v1h-1zM55 3h1v1h-1zM31 4h1v1h-1zM45 4h1v1h-1zM60 4h1v1h-1zM69 4h1v1h-1zM4 5h1v1h-1zM16 5h1v1h-1zM30 5h1v1h-1zM44 5h1v1h-1zM70 5h1v1h-1zM70 6h1v1h-1zM71 7h1v1h-1zM3 8h1v1h-1zM73 9h1v1h-1zM2 12h1v1h-1zM1 13h1v1h-1zM0 16h1v1h-1z"/><path fill="#b2e6f9" stroke="#b2e6f9" stroke-width="0.3" d="M42 3h1v1h-1zM45 3h1v1h-1zM61 3h1v1h-1zM67 3h2v1h-2zM5 4h1v1h-1zM15 4h1v1h-1zM17 4h1v1h-1zM29 4h1v1h-1zM59 4h1v1h-1zM57 5h2v1h-2zM71 5h1v1h-1zM71 6h1v1h-1zM72 7h1v1h-1zM73 8h1v1h-1zM74 10h1v1h-1zM0 15h1v1h-1z"/><path fill="#afe4f9" stroke="#afe4f9" stroke-width="0.3" d="M31 3h1v1h-1zM60 3h1v1h-1zM69 3h1v1h-1zM4 4h1v1h-1zM16 4h1v1h-1zM30 4h1v1h-1zM43 4h2v1h-2zM56 4h1v1h-1zM70 4h2v1h-2zM72 5h1v1h-1zM72 6h1v1h-1zM74 9h1v1h-1zM2 11h1v1h-1zM1 12h1v1h-1z"/><path fill="#ace2f9" stroke="#ace2f9" stroke-width="0.3" d="M5 3h1v1h-1zM15 3h1v1h-1zM17 3h1v1h-1zM29 3h1v1h-1zM56 3h1v1h-1zM59 3h1v1h-1zM57 4h2v1h-2zM72 4h1v1h-1zM3 7h1v1h-1zM73 7h1v1h-1zM74 8h1v1h-1zM2 10h1v1h-1zM1 11h1v1h-1zM0 14h1v1h-1z"/><path fill="#a8e0f8" stroke="#a8e0f8" stroke-width="0.3" d="M16 3h1v1h-1zM30 3h1v1h-1zM43 3h2v1h-2zM70 3h2v1h-2zM73 5h1v1h-1zM73 6h1v1h-1zM74 7h1v1h-1zM0 13h1v1h-1z"/><path fill="#a5def8" stroke="#a5def8" stroke-width="0.3" d="M4 3h1v1h-1zM57 3h2v1h-2zM72 3h1v1h-1zM73 4h1v1h-1zM3 6h1v1h-1zM74 6h1v1h-1zM2 9h1v1h-1zM1 10h1v1h-1zM0 12h1v1h-1z"/><path fill="#a2daf7" stroke="#a2daf7" stroke-width="0.3" d="M74 5h1v1h-1zM1 9h1v1h-1zM0 11h1v1h-1z"/><path fill="#9ed7f7" stroke="#9ed7f7" stroke-width="0.3" d="M73 3h1v1h-1zM74 4h1v1h-1zM3 5h1v1h-1zM2 8h1v1h-1z"/><path fill="#9bd4f6" stroke="#9bd4f6" stroke-width="0.3" d="M3 4h1v1h-1zM1 8h1v1h-1zM0 10h1v1h-1z"/><path fill="#98d0f5" stroke="#98d0f5" stroke-width="0.3" d="M74 3h1v1h-1zM2 7h1v1h-1z"/><path fill="#94ccf5" stroke="#94ccf5" stroke-width="0.3" d="M3 3h1v1h-1zM0 9h1v1h-1z"/><path fill="#91c9f4" stroke="#91c9f4" stroke-width="0.3" d="M2 6h1v1h-1zM1 7h1v1h-1zM0 8h1v1h-1z"/><path fill="#8ec6f3" stroke="#8ec6f3" stroke-width="0.3" d="M2 5h1v1h-1zM1 6h1v1h-1z"/><path fill="#8ac2f3" stroke="#8ac2f3" stroke-width="0.3" d="M9 1h57v1h-57zM9 2h57v1h-57zM2 4h1v1h-1zM1 5h1v1h-1zM0 7h1v1h-1z"/><path fill="#87bef2" stroke="#87bef2" stroke-width="0.3" d="M2 3h1v1h-1zM1 4h1v1h-1zM0 6h1v1h-1z"/><path fill="#84bbf1" stroke="#84bbf1" stroke-width="0.3" d="M1 3h1v1h-1zM0 5h1v1h-1z"/><path fill="#80b8f1" stroke="#80b8f1" stroke-width="0.3" d="M66 1h9v1h-9zM66 2h9v1h-9zM0 3h1v1h-1zM0 4h1v1h-1z"/><path fill="#7db4f0" stroke="#7db4f0" stroke-width="0.3" d="M0 1h9v1h-9zM0 2h9v1h-9z"/><path fill="#2d50e1" stroke="#2d50e1" stroke-width="0.3" d="M0 0h75v1h-75z"/></g>
<rect x="496.40" y="9.00" width="156.00" height="155.10" fill="none" stroke="#e6e6e6" stroke-width="1"/>
<path d="M499.60 164.10v-1.5M499.60 9.00v1.5M505.35 164.10v-1.5M505.35 9.00v1.5M511.09 164.10v-1.5M511.09 9.00v1.5M516.84 164.10v-2.6M516.84 9.00v2.6M522.58 164.10v-1.5M522.58 9.00v1.5M528.33 164.10v-1.5M528.33 9.00v1.5M534.08 164.10v-1.5M534.08 9.00v1.5M539.82 164.10v-1.5M539.82 9.00v1.5M545.57 164.10v-2.6M545.57 9.00v2.6M551.32 164.10v-1.5M551.32 9.00v1.5M557.06 164.10v-1.5M557.06 9.00v1.5M562.81 164.10v-1.5M562.81 9.00v1.5M568.55 164.10v-1.5M568.55 9.00v1.5M574.30 164.10v-2.6M574.30 9.00v2.6M580.05 164.10v-1.5M580.05 9.00v1.5M585.79 164.10v-1.5M585.79 9.00v1.5M591.54 164.10v-1.5M591.54 9.00v1.5M597.28 164.10v-1.5M597.28 9.00v1.5M603.03 164.10v-2.6M603.03 9.00v2.6M608.78 164.10v-1.5M608.78 9.00v1.5M614.52 164.10v-1.5M614.52 9.00v1.5M620.27 164.10v-1.5M620.27 9.00v1.5M626.02 164.10v-1.5M626.02 9.00v1.5M631.76 164.10v-2.6M631.76 9.00v2.6M637.51 164.10v-1.5M637.51 9.00v1.5M643.25 164.10v-1.5M643.25 9.00v1.5M649.00 164.10v-1.5M649.00 9.00v1.5M496.40 160.70h2.6M652.40 160.70h-2.6M496.40 156.45h1.5M652.40 156.45h-1.5M496.40 152.20h1.5M652.40 152.20h-1.5M496.40 147.95h1.5M652.40 147.95h-1.5M496.40 143.69h1.5M652.40 143.69h-1.5M496.40 139.44h2.6M652.40 139.44h-2.6M496.40 135.19h1.5M652.40 135.19h-1.5M496.40 130.94h1.5M652.40 130.94h-1.5M496.40 126.69h1.5M652.40 126.69h-1.5M496.40 122.44h1.5M652.40 122.44h-1.5M496.40 118.19h2.6M652.40 118.19h-2.6M496.40 113.93h1.5M652.40 113.93h-1.5M496.40 109.68h1.5M652.40 109.68h-1.5M496.40 105.43h1.5M652.40 105.43h-1.5M496.40 101.18h1.5M652.40 101.18h-1.5M496.40 96.93h2.6M652.40 96.93h-2.6M496.40 92.68h1.5M652.40 92.68h-1.5M496.40 88.43h1.5M652.40 88.43h-1.5M496.40 84.17h1.5M652.40 84.17h-1.5M496.40 79.92h1.5M652.40 79.92h-1.5M496.40 75.67h2.6M652.40 75.67h-2.6M496.40 71.42h1.5M652.40 71.42h-1.5M496.40 67.17h1.5M652.40 67.17h-1.5M496.40 62.92h1.5M652.40 62.92h-1.5M496.40 58.67h1.5M652.40 58.67h-1.5M496.40 54.41h2.6M652.40 54.41h-2.6M496.40 50.16h1.5M652.40 50.16h-1.5M496.40 45.91h1.5M652.40 45.91h-1.5M496.40 41.66h1.5M652.40 41.66h-1.5M496.40 37.41h1.5M652.40 37.41h-1.5M496.40 33.16h2.6M652.40 33.16h-2.6M496.40 28.91h1.5M652.40 28.91h-1.5M496.40 24.65h1.5M652.40 24.65h-1.5M496.40 20.40h1.5M652.40 20.40h-1.5M496.40 16.15h1.5M652.40 16.15h-1.5M496.40 11.90h2.6M652.40 11.90h-2.6" stroke="#b4b4b4" stroke-width="1" fill="none"/>
<text x="516.84" y="176.70" font-size="11.3" text-anchor="middle" font-family='"Liberation Serif", serif' >1</text>
<text x="545.57" y="176.70" font-size="11.3" text-anchor="middle" font-family='"Liberation Serif", serif' >2</text>
<text x="574.30" y="176.70" font-size="11.3" text-anchor="middle" font-family='"Liberation Serif", serif' >3</text>
<text x="603.03" y="176.70" font-size="11.3" text-anchor="middle" font-family='"Liberation Serif", serif' >4</text>
<text x="631.76" y="176.70" font-size="11.3" text-anchor="middle" font-family='"Liberation Serif", serif' >5</text>
<text x="495.40" y="164.50" font-size="11.3" text-anchor="end" font-family='"Liberation Serif", serif' >0</text>
<text x="495.40" y="143.24" font-size="11.3" text-anchor="end" font-family='"Liberation Serif", serif' >5</text>
<text x="495.40" y="121.99" font-size="11.3" text-anchor="end" font-family='"Liberation Serif", serif' >10</text>
<text x="495.40" y="100.73" font-size="11.3" text-anchor="end" font-family='"Liberation Serif", serif' >15</text>
<text x="495.40" y="79.47" font-size="11.3" text-anchor="end" font-family='"Liberation Serif", serif' >20</text>
<text x="495.40" y="58.21" font-size="11.3" text-anchor="end" font-family='"Liberation Serif", serif' >25</text>
<text x="495.40" y="36.96" font-size="11.3" text-anchor="end" font-family='"Liberation Serif", serif' >30</text>
<text x="495.40" y="15.70" font-size="11.3" text-anchor="end" font-family='"Liberation Serif", serif' >35</text>
<g transform="matrix(2.02162 0 0 -2.13929 270.000 367.750)"><path fill="#d45f2d" stroke="#d45f2d" stroke-width="0.3" d="M21 39h2v2h-2zM25 41h2v2h-2zM37 43h2v2h-2zM31 45h2v2h-2zM37 45h2v2h-2zM31 49h2v2h-2zM41 49h2v2h-2zM29 53h2v2h-2zM33 53h2v2h-2zM39 53h2v2h-2zM31 55h2v2h-2zM33 61h2v2h-2zM37 63h2v2h-2z"/><path fill="#d5622f" stroke="#d5622f" stroke-width="0.3" d="M25 37h2v2h-2zM41 37h2v2h-2zM15 45h2v2h-2zM31 59h2v2h-2zM27 65h2v2h-2zM43 67h2v2h-2z"/><path fill="#d66530" stroke="#d66530" stroke-width="0.3" d="M45 23h2v2h-2zM17 51h2v2h-2zM43 51h2v2h-2zM25 63h2v2h-2z"/><path fill="#d66832" stroke="#d66832" stroke-width="0.3" d="M21 21h2v2h-2zM39 33h2v2h-2zM31 43h2v2h-2zM39 51h2v2h-2zM31 63h2v2h-2zM45 63h2v2h-2zM17 69h2v1h-2z"/><path fill="#d76b34" stroke="#d76b34" stroke-width="0.3" d="M41 25h2v2h-2zM29 31h2v2h-2zM25 45h2v2h-2zM31 51h2v2h-2zM33 55h2v2h-2zM11 57h2v2h-2zM17 67h2v2h-2z"/><path fill="#d86e35" stroke="#d86e35" stroke-width="0.3" d="M43 15h2v2h-2zM31 19h2v2h-2zM41 23h2v2h-2zM25 35h4v2h-4zM25 47h2v2h-2zM31 47h2v2h-2zM17 49h2v2h-2zM13 55h2v2h-2zM29 55h2v2h-2zM39 57h2v2h-2zM37 61h2v2h-2zM21 63h2v2h-2zM31 65h2v2h-2z"/><path fill="#d97037" stroke="#d97037" stroke-width="0.3" d="M43 25h2v2h-2zM39 31h2v2h-2zM15 33h2v2h-2zM37 39h2v2h-2zM33 51h2v2h-2zM47 51h2v2h-2zM13 53h2v2h-2zM39 55h4v2h-4zM45 55h2v2h-2zM41 57h2v2h-2zM47 61h2v2h-2zM21 65h2v2h-2zM35 65h2v2h-2zM41 67h2v2h-2z"/><path fill="#da7339" stroke="#da7339" stroke-width="0.3" d="M25 27h2v2h-2zM31 27h2v2h-2zM25 31h2v2h-2zM23 37h2v2h-2zM37 37h2v2h-2zM39 39h2v2h-2zM43 47h2v2h-2zM35 51h4v2h-4zM35 57h2v2h-2zM37 59h2v2h-2zM41 61h2v2h-2zM23 67h2v2h-2z"/><path fill="#db763a" stroke="#db763a" stroke-width="0.3" d="M31 15h2v2h-2zM37 15h2v2h-2zM27 25h2v2h-2zM31 25h4v2h-4zM41 29h2v2h-2zM23 33h2v2h-2zM15 35h2v2h-2zM23 35h2v2h-2zM39 35h4v2h-4zM47 35h2v2h-2zM15 37h2v2h-2zM43 37h2v2h-2zM35 39h2v2h-2zM47 47h2v2h-2zM15 49h2v2h-2zM23 49h2v2h-2zM29 51h2v2h-2zM19 53h2v2h-2zM25 55h2v2h-2zM37 57h2v2h-2zM45 65h2v2h-2zM27 69h2v1h-2z"/><path fill="#dc793c" stroke="#dc793c" stroke-width="0.3" d="M29 21h2v2h-2zM35 23h2v2h-2zM27 29h2v2h-2zM13 31h2v2h-2zM21 33h2v2h-2zM27 33h2v2h-2zM31 37h2v2h-2zM17 39h2v2h-2zM33 41h2v2h-2zM39 41h2v2h-2zM35 47h4v2h-4zM33 49h2v2h-2zM31 53h2v2h-2zM45 53h2v2h-2zM23 55h2v2h-2zM39 59h2v2h-2zM13 61h2v2h-2zM23 63h2v2h-2zM41 65h2v2h-2zM21 67h2v2h-2zM29 67h2v2h-2zM31 69h2v1h-2zM37 69h2v1h-2z"/><path fill="#dc7c3e" stroke="#dc7c3e" stroke-width="0.3" d="M29 27h2v2h-2zM35 27h2v2h-2zM37 29h2v2h-2zM37 31h2v2h-2zM43 31h2v2h-2zM45 33h2v2h-2zM35 37h2v2h-2zM33 39h2v2h-2zM27 41h2v2h-2zM35 41h2v2h-2zM19 45h2v2h-2zM33 59h2v2h-2zM31 61h2v2h-2zM37 65h2v2h-2zM19 67h2v2h-2zM33 67h2v2h-2zM29 69h2v1h-2z"/><path fill="#dd7f3f" stroke="#dd7f3f" stroke-width="0.3" d="M39 13h2v2h-2zM37 23h2v2h-2zM41 27h2v2h-2zM45 29h4v2h-4zM11 31h2v2h-2zM37 33h2v2h-2zM25 39h2v2h-2zM39 43h2v2h-2zM25 51h2v2h-2zM25 53h2v2h-2zM25 59h2v2h-2zM25 61h4v2h-4zM35 61h2v2h-2zM19 63h2v2h-2z"/><path fill="#de8241" stroke="#de8241" stroke-width="0.3" d="M39 19h2v2h-2zM43 23h2v2h-2zM47 23h2v2h-2zM23 27h2v2h-2zM45 27h2v2h-2zM19 29h2v2h-2zM31 31h2v2h-2zM17 33h2v2h-2zM41 33h2v2h-2zM21 35h2v2h-2zM19 37h2v2h-2zM31 39h2v2h-2zM43 39h2v2h-2zM7 41h2v2h-2zM21 41h2v2h-2zM47 43h2v2h-2zM29 45h2v2h-2zM17 47h2v2h-2zM43 49h2v2h-2zM41 53h2v2h-2zM11 55h2v2h-2zM43 55h2v2h-2zM21 57h2v2h-2zM25 57h2v2h-2zM31 57h2v2h-2zM35 59h2v2h-2zM43 61h2v2h-2zM15 67h2v2h-2zM31 67h2v2h-2zM35 67h2v2h-2z"/><path fill="#df8544" stroke="#df8544" stroke-width="0.3" d="M35 13h2v2h-2zM39 17h4v2h-4zM23 21h2v2h-2zM31 21h2v2h-2zM13 25h2v2h-2zM29 25h2v2h-2zM27 27h2v2h-2zM33 27h2v2h-2zM33 29h2v2h-2zM5 35h2v2h-2zM35 35h2v2h-2zM27 37h2v2h-2zM45 37h2v2h-2zM19 39h2v2h-2zM45 39h4v2h-4zM45 41h2v2h-2zM5 43h2v2h-2zM33 45h2v2h-2zM41 45h2v2h-2zM19 47h2v2h-2zM29 47h2v2h-2zM3 49h2v2h-2zM23 51h2v2h-2zM21 53h2v2h-2zM47 57h2v2h-2zM21 61h2v2h-2zM39 65h2v2h-2zM43 65h2v2h-2zM47 67h2v2h-2zM15 69h2v1h-2zM23 69h2v1h-2z"/><path fill="#e08946" stroke="#e08946" stroke-width="0.3" d="M33 19h2v2h-2zM11 21h2v2h-2zM7 25h2v2h-2zM35 25h4v2h-4zM37 27h2v2h-2zM35 29h2v2h-2zM9 31h2v2h-2zM21 31h4v2h-4zM27 31h2v2h-2zM41 31h2v2h-2zM33 33h2v2h-2zM47 33h2v2h-2zM29 37h2v2h-2zM23 41h2v2h-2zM17 43h2v2h-2zM23 43h2v2h-2zM29 43h2v2h-2zM41 43h2v2h-2zM11 45h2v2h-2zM21 45h2v2h-2zM7 51h2v2h-2zM15 51h2v2h-2zM27 51h2v2h-2zM15 53h2v2h-2zM43 53h2v2h-2zM19 57h2v2h-2zM11 59h2v2h-2zM21 59h2v2h-2zM27 59h2v2h-2zM7 61h2v2h-2zM23 61h2v2h-2zM11 65h2v2h-2zM17 65h2v2h-2zM25 65h2v2h-2zM27 67h2v2h-2z"/><path fill="#e08c48" stroke="#e08c48" stroke-width="0.3" d="M45 15h2v2h-2zM31 17h2v2h-2zM27 19h2v2h-2zM19 21h2v2h-2zM43 21h2v2h-2zM31 23h2v2h-2zM39 23h2v2h-2zM45 25h4v2h-4zM3 31h2v2h-2zM17 31h2v2h-2zM33 31h4v2h-4zM35 33h2v2h-2zM29 35h2v2h-2zM33 35h2v2h-2zM39 37h2v2h-2zM13 45h2v2h-2zM27 45h2v2h-2zM43 45h4v2h-4zM15 47h2v2h-2zM27 47h2v2h-2zM45 47h2v2h-2zM27 49h2v2h-2zM45 49h2v2h-2zM41 51h2v2h-2zM17 53h2v2h-2zM7 57h4v2h-4zM29 57h2v2h-2zM45 59h4v2h-4zM15 61h2v2h-2zM39 61h2v2h-2zM29 63h2v2h-2zM29 65h2v2h-2zM5 67h2v2h-2zM33 69h2v1h-2zM45 69h2v1h-2z"/><path fill="#e18f4b" stroke="#e18f4b" stroke-width="0.3" d="M43 11h2v2h-2zM43 13h2v2h-2zM41 19h2v2h-2zM27 21h2v2h-2zM5 25h2v2h-2zM13 27h2v2h-2zM19 31h2v2h-2zM19 33h2v2h-2zM43 33h2v2h-2zM17 35h2v2h-2zM43 35h2v2h-2zM41 39h2v2h-2zM41 41h2v2h-2zM25 43h2v2h-2zM39 45h2v2h-2zM9 47h2v2h-2zM23 47h2v2h-2zM33 47h2v2h-2zM39 47h2v2h-2zM29 49h2v2h-2zM37 49h2v2h-2zM21 51h2v2h-2zM45 51h2v2h-2zM23 53h2v2h-2zM47 53h2v2h-2zM13 57h2v2h-2zM23 59h2v2h-2zM41 59h2v2h-2zM29 61h2v2h-2zM11 63h2v2h-2zM17 63h2v2h-2zM41 63h2v2h-2zM47 63h2v2h-2zM25 67h2v2h-2zM37 67h2v2h-2zM9 69h2v1h-2zM43 69h2v1h-2z"/><path fill="#e2934e" stroke="#e2934e" stroke-width="0.3" d="M37 13h2v2h-2zM23 15h2v2h-2zM35 15h2v2h-2zM17 19h2v2h-2zM37 21h2v2h-2zM11 23h2v2h-2zM29 23h2v2h-2zM39 25h2v2h-2zM39 27h2v2h-2zM29 33h2v2h-2zM45 35h2v2h-2zM17 37h2v2h-2zM13 41h2v2h-2zM17 41h2v2h-2zM29 41h2v2h-2zM7 43h6v2h-6zM45 43h2v2h-2zM23 45h2v2h-2zM7 49h2v2h-2zM35 49h2v2h-2zM39 49h2v2h-2zM9 53h4v2h-4zM35 53h2v2h-2zM27 57h2v2h-2zM5 61h2v2h-2zM9 61h2v2h-2zM35 63h2v2h-2zM47 65h2v2h-2zM39 67h2v2h-2zM19 69h4v1h-4z"/><path fill="#e39650" stroke="#e39650" stroke-width="0.3" d="M27 15h2v2h-2zM41 15h2v2h-2zM33 17h2v2h-2zM35 19h2v2h-2zM15 21h2v2h-2zM9 25h2v2h-2zM17 29h2v2h-2zM21 29h2v2h-2zM43 29h2v2h-2zM25 33h2v2h-2zM31 33h2v2h-2zM21 37h2v2h-2zM33 37h2v2h-2zM15 43h2v2h-2zM43 43h2v2h-2zM13 47h2v2h-2zM21 47h2v2h-2zM13 49h2v2h-2zM25 49h2v2h-2zM27 55h2v2h-2zM15 63h2v2h-2zM25 69h2v1h-2z"/><path fill="#e49952" stroke="#e49952" stroke-width="0.3" d="M37 9h2v2h-2zM37 17h2v2h-2zM15 19h2v2h-2zM27 23h2v2h-2zM15 27h4v2h-4zM21 27h2v2h-2zM5 29h2v2h-2zM23 29h2v2h-2zM9 37h4v2h-4zM27 39h2v2h-2zM19 43h2v2h-2zM35 45h2v2h-2zM7 47h2v2h-2zM21 49h2v2h-2zM9 51h2v2h-2zM7 53h2v2h-2zM21 55h2v2h-2zM15 57h4v2h-4zM23 57h2v2h-2zM33 57h2v2h-2zM17 59h2v2h-2zM19 61h2v2h-2zM7 65h2v2h-2zM33 65h2v2h-2z"/><path fill="#e59d55" stroke="#e59d55" stroke-width="0.3" d="M43 19h4v2h-4zM33 21h4v2h-4zM41 21h2v2h-2zM45 21h2v2h-2zM21 23h2v2h-2zM11 25h2v2h-2zM11 29h4v2h-4zM25 29h2v2h-2zM47 31h2v2h-2zM9 35h2v2h-2zM13 37h2v2h-2zM47 37h2v2h-2zM23 39h2v2h-2zM11 41h2v2h-2zM15 41h2v2h-2zM19 41h2v2h-2zM41 47h2v2h-2zM49 53h2v2h-2zM13 59h2v2h-2zM29 59h2v2h-2zM11 61h2v2h-2zM13 63h2v2h-2zM27 63h2v2h-2zM33 63h2v2h-2zM19 65h2v2h-2zM23 65h2v2h-2zM11 69h2v1h-2z"/><path fill="#e6a058" stroke="#e6a058" stroke-width="0.3" d="M19 17h2v2h-2zM29 17h2v2h-2zM37 19h2v2h-2zM9 21h2v2h-2zM33 23h2v2h-2zM7 33h2v2h-2zM11 33h2v2h-2zM13 35h2v2h-2zM13 39h2v2h-2zM31 41h2v2h-2zM37 41h2v2h-2zM27 43h2v2h-2zM9 49h2v2h-2zM13 51h2v2h-2zM19 55h2v2h-2zM47 55h2v2h-2zM43 57h2v2h-2zM1 61h2v2h-2zM3 67h2v2h-2zM45 67h2v2h-2zM35 69h2v1h-2zM41 69h2v1h-2z"/><path fill="#e6a35a" stroke="#e6a35a" stroke-width="0.3" d="M11 15h2v2h-2zM29 19h2v2h-2zM25 23h2v2h-2zM15 25h4v2h-4zM11 27h2v2h-2zM39 29h2v2h-2zM5 41h2v2h-2zM47 41h2v2h-2zM47 45h2v2h-2zM11 51h2v2h-2zM3 53h4v2h-4zM15 55h2v2h-2zM9 59h2v2h-2zM3 61h2v2h-2zM13 65h2v2h-2zM13 69h2v1h-2z"/><path fill="#e7a75c" stroke="#e7a75c" stroke-width="0.3" d="M19 15h4v2h-4zM27 17h2v2h-2zM9 19h2v2h-2zM47 19h2v2h-2zM21 25h2v2h-2zM19 27h2v2h-2zM47 27h2v2h-2zM11 35h2v2h-2zM7 39h4v2h-4zM43 41h2v2h-2zM1 43h2v2h-2zM19 49h2v2h-2zM19 51h2v2h-2zM5 55h2v2h-2zM37 55h2v2h-2zM5 57h2v2h-2zM45 57h2v2h-2zM19 59h2v2h-2zM5 63h2v2h-2zM39 63h2v2h-2zM5 65h2v2h-2zM13 67h2v2h-2z"/><path fill="#e8aa5f" stroke="#e8aa5f" stroke-width="0.3" d="M31 13h2v2h-2zM47 15h2v2h-2zM19 25h2v2h-2zM31 29h2v2h-2zM45 31h2v2h-2zM9 33h2v2h-2zM13 33h2v2h-2zM31 35h2v2h-2zM13 43h2v2h-2zM3 47h2v2h-2zM3 59h2v2h-2zM43 59h2v2h-2zM49 59h2v2h-2zM43 63h2v2h-2zM15 65h2v2h-2zM53 65h2v2h-2zM1 69h2v1h-2zM7 69h2v1h-2zM39 69h2v1h-2zM47 69h2v1h-2z"/><path fill="#e9ad62" stroke="#e9ad62" stroke-width="0.3" d="M45 13h4v2h-4zM33 15h2v2h-2zM39 15h2v2h-2zM21 17h2v2h-2zM47 17h2v2h-2zM39 21h2v2h-2zM13 23h4v2h-4zM23 23h2v2h-2zM25 25h2v2h-2zM5 27h2v2h-2zM7 29h2v2h-2zM29 29h2v2h-2zM21 43h2v2h-2zM3 45h2v2h-2zM11 47h2v2h-2zM3 51h2v2h-2zM27 53h2v2h-2zM17 55h2v2h-2zM17 61h2v2h-2zM3 63h2v2h-2zM9 67h2v2h-2z"/><path fill="#eab064" stroke="#eab064" stroke-width="0.3" d="M41 9h2v2h-2zM35 11h2v2h-2zM9 15h2v2h-2zM17 15h2v2h-2zM25 15h2v2h-2zM7 17h2v2h-2zM35 17h2v2h-2zM13 21h2v2h-2zM9 23h2v2h-2zM19 23h2v2h-2zM15 31h2v2h-2zM19 35h2v2h-2zM37 35h2v2h-2zM3 37h2v2h-2zM11 39h2v2h-2zM3 41h2v2h-2zM35 43h2v2h-2zM45 61h2v2h-2z"/><path fill="#eab366" stroke="#eab366" stroke-width="0.3" d="M45 9h2v2h-2zM7 13h2v2h-2zM29 15h2v2h-2zM23 17h2v2h-2zM45 17h2v2h-2zM7 19h2v2h-2zM25 19h2v2h-2zM3 27h2v2h-2zM9 27h2v2h-2zM15 29h2v2h-2zM5 33h2v2h-2zM7 35h2v2h-2zM29 39h2v2h-2zM9 41h2v2h-2zM11 49h2v2h-2zM35 55h2v2h-2zM3 57h2v2h-2zM15 59h2v2h-2zM49 61h2v2h-2zM53 61h2v2h-2zM5 69h2v1h-2z"/><path fill="#ebb669" stroke="#ebb669" stroke-width="0.3" d="M29 11h2v2h-2zM41 11h2v2h-2zM3 13h2v2h-2zM13 15h2v2h-2zM49 17h2v2h-2zM17 21h2v2h-2zM47 21h2v2h-2zM23 25h2v2h-2zM1 27h2v2h-2zM7 27h2v2h-2zM3 33h2v2h-2zM33 43h2v2h-2zM5 45h2v2h-2zM37 53h2v2h-2zM3 55h2v2h-2zM1 59h2v2h-2zM7 67h2v2h-2zM51 67h2v2h-2z"/><path fill="#ecb96c" stroke="#ecb96c" stroke-width="0.3" d="M13 17h2v2h-2zM5 21h2v2h-2zM3 23h2v2h-2zM17 23h2v2h-2zM43 27h2v2h-2zM1 29h2v2h-2zM49 35h2v2h-2zM1 37h2v2h-2zM5 37h2v2h-2zM3 39h2v2h-2zM15 39h2v2h-2zM49 43h2v2h-2zM1 45h2v2h-2zM7 45h2v2h-2zM17 45h2v2h-2zM49 49h2v2h-2zM1 51h2v2h-2zM5 51h2v2h-2zM7 55h2v2h-2zM7 59h2v2h-2zM9 63h2v2h-2zM3 65h2v2h-2zM11 67h2v2h-2zM3 69h2v1h-2z"/><path fill="#edbc6e" stroke="#edbc6e" stroke-width="0.3" d="M25 17h2v2h-2zM21 19h2v2h-2zM25 21h2v2h-2zM3 43h2v2h-2zM5 49h2v2h-2zM47 49h2v2h-2zM51 61h2v2h-2zM9 65h2v2h-2z"/><path fill="#eebe70" stroke="#eebe70" stroke-width="0.3" d="M11 9h2v2h-2zM27 9h2v2h-2zM17 11h2v2h-2zM25 11h2v2h-2zM47 11h2v2h-2zM41 13h2v2h-2zM1 17h2v2h-2zM7 21h2v2h-2zM49 41h2v2h-2z"/><path fill="#efc173" stroke="#efc173" stroke-width="0.3" d="M23 13h2v2h-2zM7 31h2v2h-2zM3 35h2v2h-2zM7 37h2v2h-2zM9 45h2v2h-2zM5 47h2v2h-2zM1 55h2v2h-2zM49 69h2v1h-2z"/><path fill="#f0c476" stroke="#f0c476" stroke-width="0.3" d="M13 13h2v2h-2zM33 13h2v2h-2zM15 17h2v2h-2zM5 19h2v2h-2zM7 23h2v2h-2zM53 27h2v2h-2zM0 35h1v2h-1zM0 49h1v2h-1zM9 55h2v2h-2zM51 55h2v2h-2zM1 57h2v2h-2zM55 61h2v2h-2zM7 63h2v2h-2z"/><path fill="#f0c778" stroke="#f0c778" stroke-width="0.3" d="M9 11h2v2h-2zM17 17h2v2h-2zM13 19h2v2h-2zM23 19h2v2h-2zM0 25h1v2h-1zM3 25h2v2h-2zM49 45h2v2h-2zM49 55h2v2h-2zM49 65h2v2h-2z"/><path fill="#f1ca7a" stroke="#f1ca7a" stroke-width="0.3" d="M7 11h2v2h-2zM15 11h2v2h-2zM19 13h2v2h-2zM3 21h2v2h-2zM5 23h2v2h-2zM3 29h2v2h-2zM1 31h2v2h-2zM53 69h2v1h-2z"/><path fill="#f2cd7d" stroke="#f2cd7d" stroke-width="0.3" d="M13 11h2v2h-2zM27 11h2v2h-2zM39 11h2v2h-2zM15 13h2v2h-2zM7 15h2v2h-2zM9 17h2v2h-2zM43 17h2v2h-2zM3 19h2v2h-2zM19 19h2v2h-2zM9 29h2v2h-2zM1 33h2v2h-2zM49 37h2v2h-2zM1 53h2v2h-2zM5 59h2v2h-2z"/><path fill="#f3d081" stroke="#f3d081" stroke-width="0.3" d="M15 15h2v2h-2zM1 19h2v2h-2zM1 25h2v2h-2zM5 31h2v2h-2zM49 31h2v2h-2zM1 47h2v2h-2zM49 51h2v2h-2zM0 55h1v2h-1zM49 63h2v2h-2zM1 67h2v2h-2zM57 67h2v2h-2z"/><path fill="#f3d284" stroke="#f3d284" stroke-width="0.3" d="M31 9h2v2h-2zM25 13h2v2h-2zM3 15h2v2h-2zM49 25h2v2h-2zM51 33h2v2h-2zM51 47h2v2h-2zM61 47h2v2h-2zM51 49h2v2h-2zM49 57h2v2h-2zM57 63h2v2h-2zM59 65h2v2h-2zM51 69h2v1h-2z"/><path fill="#f4d488" stroke="#f4d488" stroke-width="0.3" d="M17 9h2v2h-2zM29 9h2v2h-2zM31 11h2v2h-2zM5 13h2v2h-2zM3 17h2v2h-2zM1 39h2v2h-2zM1 49h2v2h-2zM0 61h1v2h-1zM1 63h2v2h-2zM1 65h2v2h-2z"/><path fill="#f5d78c" stroke="#f5d78c" stroke-width="0.3" d="M47 9h2v2h-2zM37 11h2v2h-2zM45 11h2v2h-2zM11 13h2v2h-2zM17 13h2v2h-2zM27 13h4v2h-4zM0 19h1v2h-1zM49 27h2v2h-2zM55 35h2v2h-2zM1 41h2v2h-2zM57 57h2v2h-2zM61 61h2v2h-2zM51 63h2v2h-2zM0 65h1v2h-1zM51 65h2v2h-2zM53 67h2v2h-2z"/><path fill="#f5da90" stroke="#f5da90" stroke-width="0.3" d="M43 7h2v2h-2zM43 9h2v2h-2zM0 31h1v2h-1zM51 31h2v2h-2zM5 39h2v2h-2zM55 43h2v2h-2zM57 59h2v2h-2zM49 67h2v2h-2z"/><path fill="#f6dc94" stroke="#f6dc94" stroke-width="0.3" d="M33 5h2v2h-2zM45 7h2v2h-2zM21 13h2v2h-2zM5 15h2v2h-2zM11 19h2v2h-2zM53 31h2v2h-2zM0 33h1v2h-1zM53 37h2v2h-2zM49 39h2v2h-2zM51 43h2v2h-2zM53 45h2v2h-2zM55 51h2v2h-2zM55 55h2v2h-2zM59 63h2v2h-2zM0 67h1v2h-1z"/><path fill="#f7de97" stroke="#f7de97" stroke-width="0.3" d="M27 5h2v2h-2zM33 9h2v2h-2zM39 9h2v2h-2zM33 11h2v2h-2zM11 17h2v2h-2zM49 29h2v2h-2zM55 31h2v2h-2zM49 33h2v2h-2zM51 41h2v2h-2zM61 43h2v2h-2zM55 47h2v2h-2zM61 51h2v2h-2zM0 57h1v2h-1zM53 59h2v2h-2zM53 63h2v2h-2zM61 63h2v2h-2z"/><path fill="#f7e19b" stroke="#f7e19b" stroke-width="0.3" d="M39 5h2v2h-2zM21 11h2v2h-2zM9 13h2v2h-2zM49 15h2v2h-2zM1 35h2v2h-2zM57 43h2v2h-2zM0 45h1v2h-1zM53 49h2v2h-2zM0 69h1v1h-1z"/><path fill="#f8e49f" stroke="#f8e49f" stroke-width="0.3" d="M33 7h2v2h-2zM13 9h2v2h-2zM19 9h2v2h-2zM35 9h2v2h-2zM49 19h2v2h-2zM49 23h2v2h-2zM53 25h2v2h-2zM55 29h2v2h-2zM51 35h2v2h-2zM51 37h2v2h-2zM53 39h2v2h-2zM53 41h2v2h-2zM57 45h2v2h-2zM0 51h1v2h-1zM53 51h2v2h-2zM57 53h2v2h-2zM67 53h2v2h-2zM55 59h2v2h-2zM63 61h2v2h-2zM55 67h2v2h-2z"/><path fill="#f9e6a2" stroke="#f9e6a2" stroke-width="0.3" d="M41 7h2v2h-2zM47 7h2v2h-2zM1 21h2v2h-2zM53 21h2v2h-2zM51 25h2v2h-2zM55 27h2v2h-2zM51 39h2v2h-2zM59 39h2v2h-2zM51 53h6v2h-6zM61 59h2v2h-2zM59 61h2v2h-2zM59 67h2v2h-2z"/><path fill="#f9e8a6" stroke="#f9e8a6" stroke-width="0.3" d="M19 5h2v2h-2zM9 7h2v2h-2zM27 7h2v2h-2zM37 7h2v2h-2zM1 13h2v2h-2zM0 27h1v2h-1zM0 41h1v2h-1zM51 45h2v2h-2zM0 47h1v2h-1zM57 49h2v2h-2zM67 55h4v2h-4zM51 57h2v2h-2zM59 57h2v2h-2zM57 65h2v2h-2zM55 69h2v1h-2z"/><path fill="#faebaa" stroke="#faebaa" stroke-width="0.3" d="M11 11h2v2h-2zM19 11h2v2h-2zM23 11h2v2h-2zM49 21h2v2h-2zM0 23h1v2h-1zM57 23h2v2h-2zM53 29h2v2h-2zM57 33h2v2h-2zM53 35h2v2h-2zM0 43h1v2h-1zM53 57h2v2h-2zM67 69h2v1h-2z"/><path fill="#faecae" stroke="#faecae" stroke-width="0.3" d="M11 7h2v2h-2zM29 7h2v2h-2zM7 9h4v2h-4zM49 11h2v2h-2zM51 19h2v2h-2zM0 29h1v2h-1zM57 31h2v2h-2zM0 39h1v2h-1zM55 41h2v2h-2zM61 49h2v2h-2zM51 51h2v2h-2zM0 53h1v2h-1z"/><path fill="#f9eeb2" stroke="#f9eeb2" stroke-width="0.3" d="M31 7h2v2h-2zM35 7h2v2h-2zM23 9h2v2h-2zM49 13h2v2h-2zM1 15h2v2h-2zM5 17h2v2h-2zM57 35h2v2h-2zM0 37h1v2h-1zM59 37h2v2h-2zM57 39h2v2h-2zM57 51h2v2h-2zM57 55h2v2h-2zM59 59h2v2h-2zM57 61h2v2h-2zM63 63h2v2h-2zM69 67h2v2h-2z"/><path fill="#f9efb6" stroke="#f9efb6" stroke-width="0.3" d="M15 3h2v2h-2zM29 5h2v2h-2zM5 7h2v2h-2zM23 7h2v2h-2zM3 9h2v2h-2zM21 9h2v2h-2zM3 11h4v2h-4zM0 21h1v2h-1zM53 23h2v2h-2zM53 33h2v2h-2zM59 35h2v2h-2zM55 37h2v2h-2zM49 47h2v2h-2zM61 53h2v2h-2zM59 55h4v2h-4zM67 65h2v2h-2z"/><path fill="#f9f0bb" stroke="#f9f0bb" stroke-width="0.3" d="M35 5h2v2h-2zM21 7h2v2h-2zM5 9h2v2h-2zM51 23h2v2h-2zM65 25h2v2h-2zM61 41h2v2h-2zM53 43h2v2h-2zM59 45h2v2h-2zM53 47h2v2h-2zM63 51h2v2h-2zM53 55h2v2h-2zM51 59h2v2h-2zM55 63h2v2h-2zM65 63h2v2h-2zM55 65h2v2h-2zM61 65h2v2h-2zM67 67h2v2h-2zM59 69h2v1h-2zM63 69h2v1h-2z"/><path fill="#f8f1bf" stroke="#f8f1bf" stroke-width="0.3" d="M25 7h2v2h-2zM25 9h2v2h-2zM55 23h2v2h-2zM51 27h2v2h-2zM55 39h2v2h-2zM59 43h2v2h-2zM55 45h2v2h-2zM55 49h2v2h-2zM59 51h2v2h-2zM65 55h2v2h-2zM67 57h2v2h-2zM0 59h1v2h-1zM67 61h2v2h-2z"/><path fill="#f8f2c3" stroke="#f8f2c3" stroke-width="0.3" d="M27 3h2v2h-2zM41 3h2v2h-2zM45 5h2v2h-2zM19 7h2v2h-2zM15 9h2v2h-2zM51 29h2v2h-2zM65 53h2v2h-2zM55 57h2v2h-2zM61 69h2v1h-2z"/><path fill="#f8f4c7" stroke="#f8f4c7" stroke-width="0.3" d="M9 3h2v2h-2zM51 13h2v2h-2zM55 21h2v2h-2zM63 41h2v2h-2zM63 47h2v2h-2zM71 49h2v2h-2zM71 55h2v2h-2zM63 59h2v2h-2zM57 69h2v1h-2zM73 69h1v1h-1z"/><path fill="#f7f5cb" stroke="#f7f5cb" stroke-width="0.3" d="M51 21h2v2h-2zM1 23h2v2h-2zM57 27h2v2h-2zM59 29h2v2h-2zM59 33h2v2h-2zM63 37h2v2h-2zM65 39h2v2h-2zM67 45h2v2h-2zM57 47h2v2h-2zM65 49h2v2h-2zM59 53h2v2h-2zM61 57h2v2h-2zM0 63h1v2h-1zM61 67h2v2h-2zM65 69h2v1h-2z"/><path fill="#f7f6d0" stroke="#f7f6d0" stroke-width="0.3" d="M43 5h2v2h-2zM39 7h2v2h-2zM51 17h2v2h-2zM57 19h2v2h-2zM55 25h2v2h-2zM59 31h2v2h-2zM61 33h2v2h-2zM63 43h2v2h-2zM63 53h2v2h-2zM71 59h2v2h-2zM63 65h2v2h-2z"/><path fill="#f7f8d4" stroke="#f7f8d4" stroke-width="0.3" d="M13 7h2v2h-2zM17 7h2v2h-2zM1 11h2v2h-2zM57 25h2v2h-2zM57 29h2v2h-2zM67 41h2v2h-2zM67 51h2v2h-2zM63 55h2v2h-2zM65 57h2v2h-2zM69 61h2v2h-2zM71 69h2v1h-2z"/><path fill="#f6f9d8" stroke="#f6f9d8" stroke-width="0.3" d="M21 3h2v2h-2zM37 5h2v2h-2zM47 5h2v2h-2zM0 11h1v2h-1zM0 15h1v2h-1zM55 19h2v2h-2zM61 25h2v2h-2zM73 37h1v2h-1zM57 41h2v2h-2zM65 43h2v2h-2zM63 49h2v2h-2zM69 49h2v2h-2zM69 57h4v2h-4zM67 59h2v2h-2zM73 63h1v2h-1z"/><path fill="#f6fadc" stroke="#f6fadc" stroke-width="0.3" d="M33 1h2v2h-2zM25 5h2v2h-2zM31 5h2v2h-2zM1 7h2v2h-2zM15 7h2v2h-2zM1 9h2v2h-2zM51 15h2v2h-2zM53 19h2v2h-2zM59 25h2v2h-2zM63 35h2v2h-2zM71 39h2v2h-2zM65 45h2v2h-2zM69 45h2v2h-2zM69 47h2v2h-2zM59 49h2v2h-2zM65 51h2v2h-2zM73 57h1v2h-1zM65 59h2v2h-2z"/><path fill="#f3fadf" stroke="#f3fadf" stroke-width="0.3" d="M23 1h2v2h-2zM31 1h2v2h-2zM45 3h2v2h-2zM15 5h4v2h-4zM53 17h2v2h-2zM55 33h2v2h-2zM61 35h2v2h-2zM63 45h2v2h-2zM73 55h1v2h-1zM65 61h2v2h-2zM67 63h2v2h-2zM71 65h2v2h-2zM63 67h2v2h-2z"/><path fill="#effae1" stroke="#effae1" stroke-width="0.3" d="M17 3h2v2h-2zM7 5h4v2h-4zM59 21h2v2h-2zM59 27h2v2h-2zM61 29h2v2h-2zM61 31h2v2h-2zM67 31h2v2h-2zM73 31h1v2h-1zM57 37h2v2h-2zM71 37h2v2h-2zM69 43h2v2h-2zM67 47h2v2h-2zM69 53h2v2h-2zM69 63h4v2h-4z"/><path fill="#ecf9e4" stroke="#ecf9e4" stroke-width="0.3" d="M3 3h2v2h-2zM19 3h2v2h-2zM25 3h2v2h-2zM39 3h2v2h-2zM0 5h1v2h-1zM5 5h2v2h-2zM13 5h2v2h-2zM23 5h2v2h-2zM63 17h2v2h-2zM59 19h2v2h-2zM65 35h2v2h-2zM65 37h2v2h-2zM63 39h2v2h-2zM71 43h2v2h-2zM65 47h2v2h-2zM67 49h2v2h-2zM69 51h2v2h-2zM69 59h2v2h-2zM65 65h2v2h-2z"/><path fill="#e8f9e7" stroke="#e8f9e7" stroke-width="0.3" d="M37 3h2v2h-2zM41 5h2v2h-2zM7 7h2v2h-2zM0 13h1v2h-1zM0 17h1v2h-1zM57 21h2v2h-2zM69 23h2v2h-2zM67 35h2v2h-2z"/><path fill="#e5f9e9" stroke="#e5f9e9" stroke-width="0.3" d="M11 3h2v2h-2zM47 3h2v2h-2zM0 7h1v2h-1zM53 15h2v2h-2zM67 29h2v2h-2zM63 31h2v2h-2zM69 33h2v2h-2zM71 53h2v2h-2zM63 57h2v2h-2zM71 61h2v2h-2zM71 67h2v2h-2z"/><path fill="#e1f8ec" stroke="#e1f8ec" stroke-width="0.3" d="M7 1h2v2h-2zM35 1h2v2h-2zM21 5h2v2h-2zM49 9h2v2h-2zM53 13h2v2h-2zM65 15h2v2h-2zM65 23h2v2h-2zM63 25h2v2h-2zM67 25h2v2h-2zM71 25h2v2h-2zM65 33h2v2h-2zM61 39h2v2h-2zM65 41h2v2h-2zM65 67h2v2h-2zM69 69h2v1h-2z"/><path fill="#def8ef" stroke="#def8ef" stroke-width="0.3" d="M23 3h2v2h-2zM51 11h2v2h-2zM63 27h2v2h-2zM67 37h2v2h-2zM67 43h2v2h-2zM61 45h2v2h-2zM59 47h2v2h-2z"/><path fill="#dbf8f1" stroke="#dbf8f1" stroke-width="0.3" d="M5 3h4v2h-4zM31 3h2v2h-2zM43 3h2v2h-2zM3 7h2v2h-2zM55 15h2v2h-2zM57 17h2v2h-2zM73 43h1v2h-1z"/><path fill="#d7f8f4" stroke="#d7f8f4" stroke-width="0.3" d="M37 1h2v2h-2zM29 3h2v2h-2zM33 3h2v2h-2zM59 17h2v2h-2zM61 23h2v2h-2zM59 41h2v2h-2zM71 45h2v2h-2zM73 67h1v2h-1z"/><path fill="#d4f8f7" stroke="#d4f8f7" stroke-width="0.3" d="M9 1h2v2h-2zM11 5h2v2h-2zM51 9h2v2h-2zM57 15h2v2h-2zM69 31h2v2h-2zM69 39h2v2h-2zM69 41h2v2h-2zM73 41h1v2h-1zM73 47h1v2h-1zM71 51h2v2h-2zM69 65h2v2h-2z"/><path fill="#d0f7f9" stroke="#d0f7f9" stroke-width="0.3" d="M5 1h2v2h-2zM45 1h2v2h-2zM3 5h2v2h-2zM49 7h2v2h-2zM57 11h2v2h-2zM61 19h2v2h-2zM63 33h2v2h-2zM71 33h2v2h-2zM73 35h1v2h-1zM73 53h1v2h-1z"/><path fill="#cdf7fc" stroke="#cdf7fc" stroke-width="0.3" d="M0 3h1v2h-1zM35 3h2v2h-2zM55 17h2v2h-2zM67 33h2v2h-2zM67 39h2v2h-2zM73 51h1v2h-1z"/><path fill="#caf5fc" stroke="#caf5fc" stroke-width="0.3" d="M3 1h2v2h-2zM21 1h2v2h-2zM41 1h2v2h-2zM13 3h2v2h-2zM1 5h2v2h-2zM53 11h2v2h-2zM57 13h2v2h-2zM71 13h2v2h-2zM63 19h2v2h-2zM67 23h2v2h-2zM63 29h4v2h-4zM71 29h2v2h-2zM61 37h2v2h-2zM71 41h2v2h-2zM73 61h1v2h-1z"/><path fill="#c6f3fb" stroke="#c6f3fb" stroke-width="0.3" d="M17 1h4v2h-4zM39 1h2v2h-2zM57 7h2v2h-2zM65 13h2v2h-2zM73 19h1v2h-1zM59 23h2v2h-2zM73 33h1v2h-1zM73 59h1v2h-1z"/><path fill="#c3f1fb" stroke="#c3f1fb" stroke-width="0.3" d="M13 1h2v2h-2zM27 1h4v2h-4zM49 3h2v2h-2zM61 21h4v2h-4zM67 21h2v2h-2zM69 25h2v2h-2zM67 27h2v2h-2zM69 37h2v2h-2zM73 49h1v2h-1z"/><path fill="#c0effb" stroke="#c0effb" stroke-width="0.3" d="M69 17h2v2h-2zM63 23h2v2h-2zM65 27h2v2h-2zM73 27h1v2h-1zM69 35h2v2h-2zM73 45h1v2h-1z"/><path fill="#bcedfa" stroke="#bcedfa" stroke-width="0.3" d="M0 1h1v2h-1zM43 1h2v2h-2zM51 7h2v2h-2zM61 17h2v2h-2zM65 19h2v2h-2zM61 27h2v2h-2z"/><path fill="#b9eafa" stroke="#b9eafa" stroke-width="0.3" d="M25 1h2v2h-2zM49 5h2v2h-2zM0 9h1v2h-1zM53 9h2v2h-2zM67 19h2v2h-2zM71 27h2v2h-2zM65 31h2v2h-2z"/><path fill="#b6e8fa" stroke="#b6e8fa" stroke-width="0.3" d="M11 1h2v2h-2zM15 1h2v2h-2zM1 3h2v2h-2zM59 13h2v2h-2zM63 13h2v2h-2zM67 13h2v2h-2zM69 27h2v2h-2zM73 65h1v2h-1z"/><path fill="#b2e6f9" stroke="#b2e6f9" stroke-width="0.3" d="M1 1h2v2h-2zM47 1h2v2h-2zM69 9h2v2h-2zM67 11h2v2h-2zM55 13h2v2h-2zM61 15h2v2h-2zM71 19h2v2h-2zM65 21h2v2h-2zM73 21h1v2h-1zM73 25h1v2h-1zM73 29h1v2h-1zM71 35h2v2h-2z"/><path fill="#afe4f9" stroke="#afe4f9" stroke-width="0.3" d="M73 13h1v2h-1zM59 15h2v2h-2zM63 15h2v2h-2zM71 15h3v2h-3zM67 17h2v2h-2zM69 19h2v2h-2zM71 47h2v2h-2z"/><path fill="#a8e0f8" stroke="#a8e0f8" stroke-width="0.3" d="M71 23h2v2h-2zM73 39h1v2h-1z"/><path fill="#a5def8" stroke="#a5def8" stroke-width="0.3" d="M59 7h2v2h-2zM57 9h2v2h-2zM55 11h2v2h-2zM65 11h2v2h-2z"/><path fill="#a2daf7" stroke="#a2daf7" stroke-width="0.3" d="M69 3h2v2h-2zM73 7h1v2h-1zM59 9h2v2h-2zM73 9h1v2h-1zM61 13h2v2h-2zM65 17h2v2h-2zM69 29h2v2h-2z"/><path fill="#9ed7f7" stroke="#9ed7f7" stroke-width="0.3" d="M71 5h2v2h-2zM55 9h2v2h-2zM65 9h2v2h-2zM71 11h2v2h-2zM73 23h1v2h-1z"/><path fill="#9bd4f6" stroke="#9bd4f6" stroke-width="0.3" d="M67 7h2v2h-2zM73 11h1v2h-1zM67 15h2v2h-2z"/><path fill="#98d0f5" stroke="#98d0f5" stroke-width="0.3" d="M53 7h2v2h-2zM59 11h2v2h-2zM71 21h2v2h-2z"/><path fill="#94ccf5" stroke="#94ccf5" stroke-width="0.3" d="M51 5h2v2h-2z"/><path fill="#91c9f4" stroke="#91c9f4" stroke-width="0.3" d="M51 3h2v2h-2zM67 3h2v2h-2zM71 7h2v2h-2zM71 31h2v2h-2z"/><path fill="#8ec6f3" stroke="#8ec6f3" stroke-width="0.3" d="M69 13h2v2h-2zM69 15h2v2h-2zM71 17h2v2h-2z"/><path fill="#8ac2f3" stroke="#8ac2f3" stroke-width="0.3" d="M55 5h2v2h-2zM63 5h2v2h-2zM69 5h2v2h-2zM65 7h2v2h-2zM61 11h2v2h-2zM69 11h2v2h-2z"/><path fill="#87bef2" stroke="#87bef2" stroke-width="0.3" d="M57 3h2v2h-2zM69 7h2v2h-2zM71 9h2v2h-2zM63 11h2v2h-2z"/><path fill="#84bbf1" stroke="#84bbf1" stroke-width="0.3" d="M49 1h2v2h-2zM73 5h1v2h-1zM61 7h4v2h-4zM63 9h2v2h-2z"/><path fill="#80b8f1" stroke="#80b8f1" stroke-width="0.3" d="M73 17h1v2h-1zM69 21h2v2h-2z"/><path fill="#7db4f0" stroke="#7db4f0" stroke-width="0.3" d="M59 3h2v2h-2zM73 3h1v2h-1zM57 5h2v2h-2z"/><path fill="#79b0f0" stroke="#79b0f0" stroke-width="0.3" d="M51 1h2v2h-2zM73 1h1v2h-1zM61 9h2v2h-2z"/><path fill="#76acef" stroke="#76acef" stroke-width="0.3" d="M53 3h2v2h-2z"/><path fill="#72a8ef" stroke="#72a8ef" stroke-width="0.3" d="M61 5h2v2h-2z"/><path fill="#6ea3ee" stroke="#6ea3ee" stroke-width="0.3" d="M71 1h2v2h-2zM55 7h2v2h-2z"/><path fill="#6a9fee" stroke="#6a9fee" stroke-width="0.3" d="M53 5h2v2h-2z"/><path fill="#6397ed" stroke="#6397ed" stroke-width="0.3" d="M61 1h2v2h-2z"/><path fill="#5f93ed" stroke="#5f93ed" stroke-width="0.3" d="M59 1h2v2h-2zM63 1h2v2h-2zM71 3h2v2h-2zM65 5h2v2h-2z"/><path fill="#5b8eec" stroke="#5b8eec" stroke-width="0.3" d="M65 1h2v2h-2zM69 1h2v2h-2z"/><path fill="#588aec" stroke="#588aec" stroke-width="0.3" d="M59 5h2v2h-2zM67 5h2v2h-2zM67 9h2v2h-2z"/><path fill="#5486eb" stroke="#5486eb" stroke-width="0.3" d="M61 3h2v2h-2zM65 3h2v2h-2z"/><path fill="#4d7eea" stroke="#4d7eea" stroke-width="0.3" d="M67 1h2v2h-2z"/><path fill="#4a7ae9" stroke="#4a7ae9" stroke-width="0.3" d="M55 1h2v2h-2z"/><path fill="#416de7" stroke="#416de7" stroke-width="0.3" d="M55 3h2v2h-2z"/><path fill="#3f69e6" stroke="#3f69e6" stroke-width="0.3" d="M63 3h2v2h-2z"/><path fill="#3961e4" stroke="#3961e4" stroke-width="0.3" d="M53 1h2v2h-2zM57 1h2v2h-2z"/><path fill="#2d50e1" stroke="#2d50e1" stroke-width="0.3" d="M0 0h74v1h-74z"/></g>
<rect x="267.30" y="215.20" width="155.80" height="156.10" fill="none" stroke="#e6e6e6" stroke-width="1"/>
<path d="M270.81 371.30v-1.5M270.81 215.20v1.5M277.28 371.30v-1.5M277.28 215.20v1.5M283.75 371.30v-1.5M283.75 215.20v1.5M290.22 371.30v-2.6M290.22 215.20v2.6M296.69 371.30v-1.5M296.69 215.20v1.5M303.15 371.30v-1.5M303.15 215.20v1.5M309.62 371.30v-1.5M309.62 215.20v1.5M316.09 371.30v-1.5M316.09 215.20v1.5M322.56 371.30v-2.6M322.56 215.20v2.6M329.03 371.30v-1.5M329.03 215.20v1.5M335.50 371.30v-1.5M335.50 215.20v1.5M341.97 371.30v-1.5M341.97 215.20v1.5M348.44 371.30v-1.5M348.44 215.20v1.5M354.91 371.30v-2.6M354.91 215.20v2.6M361.38 371.30v-1.5M361.38 215.20v1.5M367.85 371.30v-1.5M367.85 215.20v1.5M374.32 371.30v-1.5M374.32 215.20v1.5M380.78 371.30v-1.5M380.78 215.20v1.5M387.25 371.30v-2.6M387.25 215.20v2.6M393.72 371.30v-1.5M393.72 215.20v1.5M400.19 371.30v-1.5M400.19 215.20v1.5M406.66 371.30v-1.5M406.66 215.20v1.5M413.13 371.30v-1.5M413.13 215.20v1.5M419.60 371.30v-2.6M419.60 215.20v2.6M267.30 367.75h2.6M423.10 367.75h-2.6M267.30 363.07h1.5M423.10 363.07h-1.5M267.30 358.39h1.5M423.10 358.39h-1.5M267.30 353.71h1.5M423.10 353.71h-1.5M267.30 349.03h1.5M423.10 349.03h-1.5M267.30 344.35h2.6M423.10 344.35h-2.6M267.30 339.67h1.5M423.10 339.67h-1.5M267.30 334.99h1.5M423.10 334.99h-1.5M267.30 330.31h1.5M423.10 330.31h-1.5M267.30 325.63h1.5M423.10 325.63h-1.5M267.30 320.95h2.6M423.10 320.95h-2.6M267.30 316.27h1.5M423.10 316.27h-1.5M267.30 311.59h1.5M423.10 311.59h-1.5M267.30 306.91h1.5M423.10 306.91h-1.5M267.30 302.23h1.5M423.10 302.23h-1.5M267.30 297.55h2.6M423.10 297.55h-2.6M267.30 292.88h1.5M423.10 292.88h-1.5M267.30 288.20h1.5M423.10 288.20h-1.5M267.30 283.52h1.5M423.10 283.52h-1.5M267.30 278.84h1.5M423.10 278.84h-1.5M267.30 274.16h2.6M423.10 274.16h-2.6M267.30 269.48h1.5M423.10 269.48h-1.5M267.30 264.80h1.5M423.10 264.80h-1.5M267.30 260.12h1.5M423.10 260.12h-1.5M267.30 255.44h1.5M423.10 255.44h-1.5M267.30 250.76h2.6M423.10 250.76h-2.6M267.30 246.08h1.5M423.10 246.08h-1.5M267.30 241.40h1.5M423.10 241.40h-1.5M267.30 236.72h1.5M423.10 236.72h-1.5M267.30 232.04h1.5M423.10 232.04h-1.5M267.30 227.36h2.6M423.10 227.36h-2.6M267.30 222.68h1.5M423.10 222.68h-1.5M267.30 218.00h1.5M423.10 218.00h-1.5" stroke="#b4b4b4" stroke-width="1" fill="none"/>
<text x="290.22" y="383.90" font-size="11.3" text-anchor="middle" font-family='"Liberation Serif", serif' >1</text>
<text x="322.56" y="383.90" font-size="11.3" text-anchor="middle" font-family='"Liberation Serif", serif' >2</text>
<text x="354.91" y="383.90" font-size="11.3" text-anchor="middle" font-family='"Liberation Serif", serif' >3</text>
<text x="387.25" y="383.90" font-size="11.3" text-anchor="middle" font-family='"Liberation Serif", serif' >4</text>
<text x="419.60" y="383.90" font-size="11.3" text-anchor="middle" font-family='"Liberation Serif", serif' >5</text>
<text x="266.30" y="371.55" font-size="11.3" text-anchor="end" font-family='"Liberation Serif", serif' >0</text>
<text x="266.30" y="348.15" font-size="11.3" text-anchor="end" font-family='"Liberation Serif", serif' >10</text>
<text x="266.30" y="324.75" font-size="11.3" text-anchor="end" font-family='"Liberation Serif", serif' >20</text>
<text x="266.30" y="301.35" font-size="11.3" text-anchor="end" font-family='"Liberation Serif", serif' >30</text>
<text x="266.30" y="277.96" font-size="11.3" text-anchor="end" font-family='"Liberation Serif", serif' >40</text>
<text x="266.30" y="254.56" font-size="11.3" text-anchor="end" font-family='"Liberation Serif", serif' >50</text>
<text x="266.30" y="231.16" font-size="11.3" text-anchor="end" font-family='"Liberation Serif", serif' >60</text>
<g><path fill="#dd7f3f" stroke="#dd7f3f" stroke-width="0.5" d="M568.0 270.6H571.3V272.9H568.0zM568.0 268.2H571.3V270.6H568.0zM568.0 265.9H571.3V268.2H568.0zM568.0 263.6H571.3V265.9H568.0zM568.0 261.2H571.3V263.6H568.0zM568.0 258.9H571.3V261.2H568.0zM568.0 256.5H571.3V258.9H568.0zM568.0 254.2H571.3V256.5H568.0zM568.0 251.9H571.3V254.2H568.0zM568.0 249.5H571.3V251.9H568.0zM568.0 247.2H571.3V249.5H568.0zM568.0 244.8H571.3V247.2H568.0zM568.0 242.5H571.3V244.8H568.0zM568.0 240.1H571.3V242.5H568.0zM568.0 237.8H571.3V240.1H568.0zM568.0 235.5H571.3V237.8H568.0zM568.0 233.1H571.3V235.5H568.0zM568.0 230.8H571.3V233.1H568.0zM568.0 228.4H571.3V230.8H568.0zM568.0 226.1H571.3V228.4H568.0zM568.0 223.8H571.3V226.1H568.0zM568.0 221.4H571.3V223.8H568.0zM568.0 219.1H571.3V221.4H568.0zM568.0 217.9H571.3V219.1H568.0z"/><path fill="#de8241" stroke="#de8241" stroke-width="0.5" d="M564.8 298.7H568.0V301.0H564.8zM564.8 296.3H571.3V298.7H564.8zM564.8 294.0H571.3V296.3H564.8zM564.8 291.7H571.3V294.0H564.8zM564.8 289.3H571.3V291.7H564.8zM564.8 287.0H571.3V289.3H564.8zM564.8 284.6H571.3V287.0H564.8zM564.8 282.3H571.3V284.6H564.8zM564.8 279.9H571.3V282.3H564.8zM564.8 277.6H571.3V279.9H564.8zM564.8 275.3H571.3V277.6H564.8zM564.8 272.9H571.3V275.3H564.8zM574.5 272.9H577.7V275.3H574.5zM564.8 270.6H568.0V272.9H564.8zM574.5 270.6H577.7V272.9H574.5zM564.8 268.2H568.0V270.6H564.8zM574.5 268.2H577.7V270.6H574.5zM564.8 265.9H568.0V268.2H564.8zM574.5 265.9H577.7V268.2H574.5zM564.8 263.6H568.0V265.9H564.8zM574.5 263.6H577.7V265.9H574.5zM564.8 261.2H568.0V263.6H564.8zM574.5 261.2H577.7V263.6H574.5zM564.8 258.9H568.0V261.2H564.8zM574.5 258.9H577.7V261.2H574.5zM564.8 256.5H568.0V258.9H564.8zM574.5 256.5H577.7V258.9H574.5zM564.8 254.2H568.0V256.5H564.8zM574.5 254.2H577.7V256.5H574.5zM564.8 251.9H568.0V254.2H564.8zM574.5 251.9H577.7V254.2H574.5zM564.8 249.5H568.0V251.9H564.8zM574.5 249.5H577.7V251.9H574.5zM564.8 247.2H568.0V249.5H564.8zM574.5 247.2H577.7V249.5H574.5zM564.8 244.8H568.0V247.2H564.8zM574.5 244.8H577.7V247.2H574.5zM564.8 242.5H568.0V244.8H564.8zM574.5 242.5H577.7V244.8H574.5zM564.8 240.1H568.0V242.5H564.8zM574.5 240.1H577.7V242.5H574.5zM564.8 237.8H568.0V240.1H564.8zM574.5 237.8H577.7V240.1H574.5zM564.8 235.5H568.0V237.8H564.8zM574.5 235.5H577.7V237.8H574.5zM564.8 233.1H568.0V235.5H564.8zM574.5 233.1H577.7V235.5H574.5zM564.8 230.8H568.0V233.1H564.8zM574.5 230.8H577.7V233.1H574.5zM564.8 228.4H568.0V230.8H564.8zM574.5 228.4H577.7V230.8H574.5zM564.8 226.1H568.0V228.4H564.8zM574.5 226.1H577.7V228.4H574.5zM564.8 223.8H568.0V226.1H564.8zM574.5 223.8H577.7V226.1H574.5zM564.8 221.4H568.0V223.8H564.8zM574.5 221.4H577.7V223.8H574.5zM564.8 219.1H568.0V221.4H564.8zM574.5 219.1H577.7V221.4H574.5zM564.8 217.9H568.0V219.1H564.8zM574.5 217.9H577.7V219.1H574.5z"/><path fill="#df8544" stroke="#df8544" stroke-width="0.5" d="M564.8 301.0H571.3V303.4H564.8zM568.0 298.7H571.3V301.0H568.0zM574.5 296.3H577.7V298.7H574.5zM574.5 294.0H577.7V296.3H574.5zM574.5 291.7H577.7V294.0H574.5zM574.5 289.3H577.7V291.7H574.5zM574.5 287.0H577.7V289.3H574.5zM574.5 284.6H577.7V287.0H574.5zM574.5 282.3H577.7V284.6H574.5zM574.5 279.9H577.7V282.3H574.5zM548.6 277.6H551.8V279.9H548.6zM574.5 277.6H577.7V279.9H574.5zM548.6 275.3H551.8V277.6H548.6zM574.5 275.3H577.7V277.6H574.5zM548.6 272.9H551.8V275.3H548.6zM577.7 272.9H581.0V275.3H577.7zM548.6 270.6H551.8V272.9H548.6zM577.7 270.6H581.0V272.9H577.7zM548.6 268.2H551.8V270.6H548.6zM577.7 268.2H581.0V270.6H577.7zM548.6 265.9H551.8V268.2H548.6zM577.7 265.9H581.0V268.2H577.7zM548.6 263.6H551.8V265.9H548.6zM577.7 263.6H587.5V265.9H577.7zM548.6 261.2H551.8V263.6H548.6zM577.7 261.2H587.5V263.6H577.7zM548.6 258.9H551.8V261.2H548.6zM577.7 258.9H587.5V261.2H577.7zM548.6 256.5H551.8V258.9H548.6zM577.7 256.5H587.5V258.9H577.7zM548.6 254.2H551.8V256.5H548.6zM577.7 254.2H587.5V256.5H577.7zM548.6 251.9H551.8V254.2H548.6zM577.7 251.9H587.5V254.2H577.7zM548.6 249.5H551.8V251.9H548.6zM577.7 249.5H587.5V251.9H577.7zM548.6 247.2H551.8V249.5H548.6zM577.7 247.2H587.5V249.5H577.7zM548.6 244.8H551.8V247.2H548.6zM577.7 244.8H587.5V247.2H577.7zM548.6 242.5H551.8V244.8H548.6zM577.7 242.5H587.5V244.8H577.7zM548.6 240.1H551.8V242.5H548.6zM577.7 240.1H587.5V242.5H577.7zM548.6 237.8H551.8V240.1H548.6zM577.7 237.8H587.5V240.1H577.7zM548.6 235.5H551.8V237.8H548.6zM577.7 235.5H587.5V237.8H577.7zM548.6 233.1H551.8V235.5H548.6zM577.7 233.1H587.5V235.5H577.7zM548.6 230.8H551.8V233.1H548.6zM577.7 230.8H587.5V233.1H577.7zM548.6 228.4H551.8V230.8H548.6zM577.7 228.4H587.5V230.8H577.7zM548.6 226.1H551.8V228.4H548.6zM577.7 226.1H587.5V228.4H577.7zM548.6 223.8H551.8V226.1H548.6zM577.7 223.8H587.5V226.1H577.7zM548.6 221.4H551.8V223.8H548.6zM577.7 221.4H587.5V223.8H577.7zM548.6 219.1H551.8V221.4H548.6zM577.7 219.1H587.5V221.4H577.7zM548.6 217.9H551.8V219.1H548.6zM577.7 217.9H587.5V219.1H577.7z"/><path fill="#e08946" stroke="#e08946" stroke-width="0.5" d="M564.8 303.4H571.3V305.7H564.8zM574.5 298.7H577.7V301.0H574.5zM548.6 296.3H551.8V298.7H548.6zM561.5 296.3H564.8V298.7H561.5zM548.6 294.0H551.8V296.3H548.6zM561.5 294.0H564.8V296.3H561.5zM548.6 291.7H551.8V294.0H548.6zM561.5 291.7H564.8V294.0H561.5zM577.7 291.7H581.0V294.0H577.7zM548.6 289.3H551.8V291.7H548.6zM561.5 289.3H564.8V291.7H561.5zM577.7 289.3H581.0V291.7H577.7zM548.6 287.0H551.8V289.3H548.6zM561.5 287.0H564.8V289.3H561.5zM577.7 287.0H581.0V289.3H577.7zM548.6 284.6H551.8V287.0H548.6zM561.5 284.6H564.8V287.0H561.5zM571.3 284.6H574.5V287.0H571.3zM577.7 284.6H581.0V287.0H577.7zM548.6 282.3H551.8V284.6H548.6zM561.5 282.3H564.8V284.6H561.5zM571.3 282.3H574.5V284.6H571.3zM577.7 282.3H581.0V284.6H577.7zM548.6 279.9H551.8V282.3H548.6zM561.5 279.9H564.8V282.3H561.5zM571.3 279.9H574.5V282.3H571.3zM577.7 279.9H581.0V282.3H577.7zM561.5 277.6H564.8V279.9H561.5zM571.3 277.6H574.5V279.9H571.3zM577.7 277.6H584.2V279.9H577.7zM561.5 275.3H564.8V277.6H561.5zM571.3 275.3H574.5V277.6H571.3zM577.7 275.3H587.5V277.6H577.7zM561.5 272.9H564.8V275.3H561.5zM571.3 272.9H574.5V275.3H571.3zM581.0 272.9H587.5V275.3H581.0zM561.5 270.6H564.8V272.9H561.5zM571.3 270.6H574.5V272.9H571.3zM581.0 270.6H587.5V272.9H581.0zM561.5 268.2H564.8V270.6H561.5zM571.3 268.2H574.5V270.6H571.3zM581.0 268.2H587.5V270.6H581.0zM558.3 265.9H564.8V268.2H558.3zM571.3 265.9H574.5V268.2H571.3zM581.0 265.9H587.5V268.2H581.0zM558.3 263.6H564.8V265.9H558.3zM571.3 263.6H574.5V265.9H571.3zM558.3 261.2H564.8V263.6H558.3zM571.3 261.2H574.5V263.6H571.3zM558.3 258.9H564.8V261.2H558.3zM571.3 258.9H574.5V261.2H571.3zM558.3 256.5H564.8V258.9H558.3zM571.3 256.5H574.5V258.9H571.3zM558.3 254.2H564.8V256.5H558.3zM571.3 254.2H574.5V256.5H571.3zM558.3 251.9H564.8V254.2H558.3zM571.3 251.9H574.5V254.2H571.3zM558.3 249.5H564.8V251.9H558.3zM571.3 249.5H574.5V251.9H571.3zM558.3 247.2H564.8V249.5H558.3zM571.3 247.2H574.5V249.5H571.3zM558.3 244.8H564.8V247.2H558.3zM571.3 244.8H574.5V247.2H571.3zM558.3 242.5H564.8V244.8H558.3zM571.3 242.5H574.5V244.8H571.3zM558.3 240.1H564.8V242.5H558.3zM571.3 240.1H574.5V242.5H571.3zM558.3 237.8H564.8V240.1H558.3zM571.3 237.8H574.5V240.1H571.3zM558.3 235.5H564.8V237.8H558.3zM571.3 235.5H574.5V237.8H571.3zM558.3 233.1H564.8V235.5H558.3zM571.3 233.1H574.5V235.5H571.3zM558.3 230.8H564.8V233.1H558.3zM571.3 230.8H574.5V233.1H571.3zM558.3 228.4H564.8V230.8H558.3zM571.3 228.4H574.5V230.8H571.3zM558.3 226.1H564.8V228.4H558.3zM571.3 226.1H574.5V228.4H571.3zM558.3 223.8H564.8V226.1H558.3zM571.3 223.8H574.5V226.1H571.3zM558.3 221.4H564.8V223.8H558.3zM571.3 221.4H574.5V223.8H571.3zM558.3 219.1H564.8V221.4H558.3zM571.3 219.1H574.5V221.4H571.3zM558.3 217.9H564.8V219.1H558.3zM571.3 217.9H574.5V219.1H571.3z"/><path fill="#e08c48" stroke="#e08c48" stroke-width="0.5" d="M564.8 308.0H568.0V310.4H564.8zM564.8 305.7H571.3V308.0H564.8zM548.6 301.0H551.8V303.4H548.6zM574.5 301.0H577.7V303.4H574.5zM548.6 298.7H551.8V301.0H548.6zM561.5 298.7H564.8V301.0H561.5zM558.3 296.3H561.5V298.7H558.3zM571.3 296.3H574.5V298.7H571.3zM577.7 296.3H581.0V298.7H577.7zM558.3 294.0H561.5V296.3H558.3zM571.3 294.0H574.5V296.3H571.3zM577.7 294.0H581.0V296.3H577.7zM558.3 291.7H561.5V294.0H558.3zM571.3 291.7H574.5V294.0H571.3zM581.0 291.7H584.2V294.0H581.0zM558.3 289.3H561.5V291.7H558.3zM571.3 289.3H574.5V291.7H571.3zM581.0 289.3H584.2V291.7H581.0zM558.3 287.0H561.5V289.3H558.3zM571.3 287.0H574.5V289.3H571.3zM581.0 287.0H584.2V289.3H581.0zM558.3 284.6H561.5V287.0H558.3zM581.0 284.6H587.5V287.0H581.0zM558.3 282.3H561.5V284.6H558.3zM581.0 282.3H587.5V284.6H581.0zM558.3 279.9H561.5V282.3H558.3zM581.0 279.9H587.5V282.3H581.0zM558.3 277.6H561.5V279.9H558.3zM584.2 277.6H587.5V279.9H584.2zM558.3 275.3H561.5V277.6H558.3zM558.3 272.9H561.5V275.3H558.3zM558.3 270.6H561.5V272.9H558.3zM558.3 268.2H561.5V270.6H558.3zM587.5 251.9H590.7V254.2H587.5zM587.5 249.5H590.7V251.9H587.5zM587.5 247.2H590.7V249.5H587.5zM587.5 244.8H590.7V247.2H587.5zM587.5 242.5H590.7V244.8H587.5zM587.5 240.1H590.7V242.5H587.5zM587.5 237.8H590.7V240.1H587.5zM587.5 235.5H590.7V237.8H587.5zM587.5 233.1H590.7V235.5H587.5zM587.5 230.8H594.0V233.1H587.5zM587.5 228.4H594.0V230.8H587.5zM587.5 226.1H594.0V228.4H587.5zM587.5 223.8H594.0V226.1H587.5zM587.5 221.4H594.0V223.8H587.5zM587.5 219.1H594.0V221.4H587.5zM587.5 217.9H594.0V219.1H587.5z"/><path fill="#e18f4b" stroke="#e18f4b" stroke-width="0.5" d="M564.8 310.4H568.0V312.7H564.8zM568.0 308.0H571.3V310.4H568.0zM548.6 303.4H551.8V305.7H548.6zM561.5 303.4H564.8V305.7H561.5zM574.5 303.4H577.7V305.7H574.5zM558.3 301.0H564.8V303.4H558.3zM558.3 298.7H561.5V301.0H558.3zM571.3 298.7H574.5V301.0H571.3zM577.7 298.7H581.0V301.0H577.7zM581.0 296.3H587.5V298.7H581.0zM581.0 294.0H587.5V296.3H581.0zM584.2 291.7H587.5V294.0H584.2zM584.2 289.3H587.5V291.7H584.2zM584.2 287.0H587.5V289.3H584.2zM555.0 282.3H558.3V284.6H555.0zM538.8 279.9H542.1V282.3H538.8zM555.0 279.9H558.3V282.3H555.0zM538.8 277.6H542.1V279.9H538.8zM555.0 277.6H558.3V279.9H555.0zM538.8 275.3H542.1V277.6H538.8zM555.0 275.3H558.3V277.6H555.0zM538.8 272.9H542.1V275.3H538.8zM555.0 272.9H558.3V275.3H555.0zM538.8 270.6H542.1V272.9H538.8zM555.0 270.6H558.3V272.9H555.0zM538.8 268.2H542.1V270.6H538.8zM555.0 268.2H558.3V270.6H555.0zM538.8 265.9H542.1V268.2H538.8zM551.8 265.9H558.3V268.2H551.8zM587.5 265.9H590.7V268.2H587.5zM538.8 263.6H542.1V265.9H538.8zM551.8 263.6H558.3V265.9H551.8zM587.5 263.6H590.7V265.9H587.5zM538.8 261.2H542.1V263.6H538.8zM551.8 261.2H558.3V263.6H551.8zM587.5 261.2H594.0V263.6H587.5zM538.8 258.9H542.1V261.2H538.8zM551.8 258.9H558.3V261.2H551.8zM587.5 258.9H594.0V261.2H587.5zM538.8 256.5H542.1V258.9H538.8zM551.8 256.5H558.3V258.9H551.8zM587.5 256.5H594.0V258.9H587.5zM538.8 254.2H542.1V256.5H538.8zM551.8 254.2H558.3V256.5H551.8zM587.5 254.2H594.0V256.5H587.5zM538.8 251.9H542.1V254.2H538.8zM551.8 251.9H558.3V254.2H551.8zM590.7 251.9H594.0V254.2H590.7zM538.8 249.5H542.1V251.9H538.8zM551.8 249.5H558.3V251.9H551.8zM590.7 249.5H594.0V251.9H590.7zM538.8 247.2H542.1V249.5H538.8zM551.8 247.2H558.3V249.5H551.8zM590.7 247.2H594.0V249.5H590.7zM538.8 244.8H542.1V247.2H538.8zM551.8 244.8H558.3V247.2H551.8zM590.7 244.8H594.0V247.2H590.7zM538.8 242.5H542.1V244.8H538.8zM551.8 242.5H558.3V244.8H551.8zM590.7 242.5H594.0V244.8H590.7zM538.8 240.1H542.1V242.5H538.8zM551.8 240.1H558.3V242.5H551.8zM590.7 240.1H594.0V242.5H590.7zM538.8 237.8H542.1V240.1H538.8zM551.8 237.8H558.3V240.1H551.8zM590.7 237.8H594.0V240.1H590.7zM538.8 235.5H542.1V237.8H538.8zM551.8 235.5H558.3V237.8H551.8zM590.7 235.5H594.0V237.8H590.7zM538.8 233.1H542.1V235.5H538.8zM551.8 233.1H558.3V235.5H551.8zM590.7 233.1H594.0V235.5H590.7zM538.8 230.8H542.1V233.1H538.8zM551.8 230.8H558.3V233.1H551.8zM538.8 228.4H542.1V230.8H538.8zM551.8 228.4H558.3V230.8H551.8zM538.8 226.1H542.1V228.4H538.8zM551.8 226.1H558.3V228.4H551.8zM538.8 223.8H542.1V226.1H538.8zM551.8 223.8H558.3V226.1H551.8zM538.8 221.4H542.1V223.8H538.8zM551.8 221.4H558.3V223.8H551.8zM538.8 219.1H542.1V221.4H538.8zM551.8 219.1H558.3V221.4H551.8zM538.8 217.9H542.1V219.1H538.8zM551.8 217.9H558.3V219.1H551.8z"/><path fill="#e2934e" stroke="#e2934e" stroke-width="0.5" d="M564.8 315.1H568.0V317.4H564.8zM564.8 312.7H568.0V315.1H564.8zM568.0 310.4H571.3V312.7H568.0zM548.6 308.0H551.8V310.4H548.6zM548.6 305.7H551.8V308.0H548.6zM561.5 305.7H564.8V308.0H561.5zM574.5 305.7H577.7V308.0H574.5zM558.3 303.4H561.5V305.7H558.3zM571.3 303.4H574.5V305.7H571.3zM571.3 301.0H574.5V303.4H571.3zM577.7 301.0H581.0V303.4H577.7zM538.8 298.7H542.1V301.0H538.8zM581.0 298.7H584.2V301.0H581.0zM538.8 296.3H542.1V298.7H538.8zM551.8 296.3H558.3V298.7H551.8zM538.8 294.0H542.1V296.3H538.8zM551.8 294.0H558.3V296.3H551.8zM538.8 291.7H542.1V294.0H538.8zM551.8 291.7H558.3V294.0H551.8zM538.8 289.3H542.1V291.7H538.8zM551.8 289.3H558.3V291.7H551.8zM538.8 287.0H542.1V289.3H538.8zM545.3 287.0H548.6V289.3H545.3zM551.8 287.0H558.3V289.3H551.8zM538.8 284.6H542.1V287.0H538.8zM545.3 284.6H548.6V287.0H545.3zM551.8 284.6H558.3V287.0H551.8zM538.8 282.3H542.1V284.6H538.8zM545.3 282.3H548.6V284.6H545.3zM551.8 282.3H555.0V284.6H551.8zM545.3 279.9H548.6V282.3H545.3zM551.8 279.9H555.0V282.3H551.8zM545.3 277.6H548.6V279.9H545.3zM551.8 277.6H555.0V279.9H551.8zM545.3 275.3H548.6V277.6H545.3zM551.8 275.3H555.0V277.6H551.8zM587.5 275.3H590.7V277.6H587.5zM545.3 272.9H548.6V275.3H545.3zM551.8 272.9H555.0V275.3H551.8zM587.5 272.9H590.7V275.3H587.5zM545.3 270.6H548.6V272.9H545.3zM551.8 270.6H555.0V272.9H551.8zM587.5 270.6H590.7V272.9H587.5zM545.3 268.2H548.6V270.6H545.3zM551.8 268.2H555.0V270.6H551.8zM587.5 268.2H594.0V270.6H587.5zM545.3 265.9H548.6V268.2H545.3zM590.7 265.9H594.0V268.2H590.7zM545.3 263.6H548.6V265.9H545.3zM590.7 263.6H594.0V265.9H590.7zM545.3 261.2H548.6V263.6H545.3zM545.3 258.9H548.6V261.2H545.3zM545.3 256.5H548.6V258.9H545.3zM545.3 254.2H548.6V256.5H545.3zM545.3 251.9H548.6V254.2H545.3zM545.3 249.5H548.6V251.9H545.3zM545.3 247.2H548.6V249.5H545.3zM545.3 244.8H548.6V247.2H545.3zM545.3 242.5H548.6V244.8H545.3zM545.3 240.1H548.6V242.5H545.3zM545.3 237.8H548.6V240.1H545.3zM545.3 235.5H548.6V237.8H545.3zM545.3 233.1H548.6V235.5H545.3zM545.3 230.8H548.6V233.1H545.3zM545.3 228.4H548.6V230.8H545.3zM545.3 226.1H548.6V228.4H545.3zM545.3 223.8H548.6V226.1H545.3zM545.3 221.4H548.6V223.8H545.3zM545.3 219.1H548.6V221.4H545.3zM545.3 217.9H548.6V219.1H545.3z"/><path fill="#e39650" stroke="#e39650" stroke-width="0.5" d="M564.8 317.4H568.0V319.8H564.8zM568.0 315.1H571.3V317.4H568.0zM568.0 312.7H571.3V315.1H568.0zM548.6 310.4H551.8V312.7H548.6zM561.5 308.0H564.8V310.4H561.5zM574.5 308.0H577.7V310.4H574.5zM558.3 305.7H561.5V308.0H558.3zM571.3 305.7H574.5V308.0H571.3zM538.8 303.4H542.1V305.7H538.8zM577.7 303.4H581.0V305.7H577.7zM538.8 301.0H542.1V303.4H538.8zM555.0 301.0H558.3V303.4H555.0zM581.0 301.0H584.2V303.4H581.0zM545.3 298.7H548.6V301.0H545.3zM551.8 298.7H558.3V301.0H551.8zM584.2 298.7H587.5V301.0H584.2zM545.3 296.3H548.6V298.7H545.3zM545.3 294.0H548.6V296.3H545.3zM545.3 291.7H548.6V294.0H545.3zM545.3 289.3H548.6V291.7H545.3zM587.5 282.3H590.7V284.6H587.5zM587.5 279.9H590.7V282.3H587.5zM535.6 277.6H538.8V279.9H535.6zM587.5 277.6H590.7V279.9H587.5zM535.6 275.3H538.8V277.6H535.6zM542.1 275.3H545.3V277.6H542.1zM590.7 275.3H594.0V277.6H590.7zM535.6 272.9H538.8V275.3H535.6zM542.1 272.9H545.3V275.3H542.1zM590.7 272.9H594.0V275.3H590.7zM535.6 270.6H538.8V272.9H535.6zM542.1 270.6H545.3V272.9H542.1zM590.7 270.6H594.0V272.9H590.7zM535.6 268.2H538.8V270.6H535.6zM542.1 268.2H545.3V270.6H542.1zM535.6 265.9H538.8V268.2H535.6zM542.1 265.9H545.3V268.2H542.1zM535.6 263.6H538.8V265.9H535.6zM542.1 263.6H545.3V265.9H542.1zM532.3 261.2H538.8V263.6H532.3zM542.1 261.2H545.3V263.6H542.1zM532.3 258.9H538.8V261.2H532.3zM542.1 258.9H545.3V261.2H542.1zM532.3 256.5H538.8V258.9H532.3zM542.1 256.5H545.3V258.9H542.1zM532.3 254.2H538.8V256.5H532.3zM542.1 254.2H545.3V256.5H542.1zM532.3 251.9H538.8V254.2H532.3zM542.1 251.9H545.3V254.2H542.1zM532.3 249.5H538.8V251.9H532.3zM542.1 249.5H545.3V251.9H542.1zM532.3 247.2H538.8V249.5H532.3zM542.1 247.2H545.3V249.5H542.1zM532.3 244.8H538.8V247.2H532.3zM542.1 244.8H545.3V247.2H542.1zM532.3 242.5H538.8V244.8H532.3zM542.1 242.5H545.3V244.8H542.1zM532.3 240.1H538.8V242.5H532.3zM542.1 240.1H545.3V242.5H542.1zM532.3 237.8H538.8V240.1H532.3zM542.1 237.8H545.3V240.1H542.1zM532.3 235.5H538.8V237.8H532.3zM542.1 235.5H545.3V237.8H542.1zM594.0 235.5H597.2V237.8H594.0zM532.3 233.1H538.8V235.5H532.3zM542.1 233.1H545.3V235.5H542.1zM594.0 233.1H597.2V235.5H594.0zM532.3 230.8H538.8V233.1H532.3zM542.1 230.8H545.3V233.1H542.1zM594.0 230.8H597.2V233.1H594.0zM532.3 228.4H538.8V230.8H532.3zM542.1 228.4H545.3V230.8H542.1zM594.0 228.4H597.2V230.8H594.0zM532.3 226.1H538.8V228.4H532.3zM542.1 226.1H545.3V228.4H542.1zM594.0 226.1H600.4V228.4H594.0zM532.3 223.8H538.8V226.1H532.3zM542.1 223.8H545.3V226.1H542.1zM594.0 223.8H600.4V226.1H594.0zM532.3 221.4H538.8V223.8H532.3zM542.1 221.4H545.3V223.8H542.1zM594.0 221.4H600.4V223.8H594.0zM532.3 219.1H538.8V221.4H532.3zM542.1 219.1H545.3V221.4H542.1zM594.0 219.1H600.4V221.4H594.0zM532.3 217.9H538.8V219.1H532.3zM542.1 217.9H545.3V219.1H542.1zM594.0 217.9H600.4V219.1H594.0z"/><path fill="#e49952" stroke="#e49952" stroke-width="0.5" d="M564.8 319.8H568.0V322.1H564.8zM568.0 317.4H571.3V319.8H568.0zM548.6 315.1H551.8V317.4H548.6zM548.6 312.7H551.8V315.1H548.6zM561.5 312.7H564.8V315.1H561.5zM538.8 310.4H542.1V312.7H538.8zM558.3 310.4H564.8V312.7H558.3zM538.8 308.0H542.1V310.4H538.8zM558.3 308.0H561.5V310.4H558.3zM571.3 308.0H574.5V310.4H571.3zM538.8 305.7H542.1V308.0H538.8zM577.7 305.7H581.0V308.0H577.7zM555.0 303.4H558.3V305.7H555.0zM581.0 303.4H584.2V305.7H581.0zM545.3 301.0H548.6V303.4H545.3zM551.8 301.0H555.0V303.4H551.8zM584.2 301.0H587.5V303.4H584.2zM535.6 298.7H538.8V301.0H535.6zM535.6 296.3H538.8V298.7H535.6zM542.1 296.3H545.3V298.7H542.1zM535.6 294.0H538.8V296.3H535.6zM542.1 294.0H545.3V296.3H542.1zM535.6 291.7H538.8V294.0H535.6zM542.1 291.7H545.3V294.0H542.1zM587.5 291.7H590.7V294.0H587.5zM532.3 289.3H538.8V291.7H532.3zM542.1 289.3H545.3V291.7H542.1zM587.5 289.3H590.7V291.7H587.5zM532.3 287.0H538.8V289.3H532.3zM542.1 287.0H545.3V289.3H542.1zM587.5 287.0H590.7V289.3H587.5zM532.3 284.6H538.8V287.0H532.3zM542.1 284.6H545.3V287.0H542.1zM587.5 284.6H590.7V287.0H587.5zM532.3 282.3H538.8V284.6H532.3zM542.1 282.3H545.3V284.6H542.1zM590.7 282.3H594.0V284.6H590.7zM532.3 279.9H538.8V282.3H532.3zM542.1 279.9H545.3V282.3H542.1zM590.7 279.9H594.0V282.3H590.7zM532.3 277.6H535.6V279.9H532.3zM542.1 277.6H545.3V279.9H542.1zM590.7 277.6H594.0V279.9H590.7zM532.3 275.3H535.6V277.6H532.3zM532.3 272.9H535.6V275.3H532.3zM532.3 270.6H535.6V272.9H532.3zM532.3 268.2H535.6V270.6H532.3zM532.3 265.9H535.6V268.2H532.3zM532.3 263.6H535.6V265.9H532.3zM594.0 261.2H597.2V263.6H594.0zM594.0 258.9H597.2V261.2H594.0zM594.0 256.5H597.2V258.9H594.0zM594.0 254.2H597.2V256.5H594.0zM594.0 251.9H597.2V254.2H594.0zM594.0 249.5H600.4V251.9H594.0zM594.0 247.2H600.4V249.5H594.0zM594.0 244.8H600.4V247.2H594.0zM594.0 242.5H600.4V244.8H594.0zM594.0 240.1H600.4V242.5H594.0zM594.0 237.8H600.4V240.1H594.0zM597.2 235.5H600.4V237.8H597.2zM597.2 233.1H600.4V235.5H597.2zM597.2 230.8H600.4V233.1H597.2zM597.2 228.4H600.4V230.8H597.2z"/><path fill="#e59d55" stroke="#e59d55" stroke-width="0.5" d="M564.8 322.1H568.0V324.4H564.8zM568.0 319.8H571.3V322.1H568.0zM548.6 317.4H551.8V319.8H548.6zM538.8 315.1H542.1V317.4H538.8zM561.5 315.1H564.8V317.4H561.5zM538.8 312.7H542.1V315.1H538.8zM558.3 312.7H561.5V315.1H558.3zM571.3 310.4H577.7V312.7H571.3zM555.0 308.0H558.3V310.4H555.0zM577.7 308.0H581.0V310.4H577.7zM545.3 305.7H548.6V308.0H545.3zM551.8 305.7H558.3V308.0H551.8zM581.0 305.7H584.2V308.0H581.0zM535.6 303.4H538.8V305.7H535.6zM545.3 303.4H548.6V305.7H545.3zM551.8 303.4H555.0V305.7H551.8zM584.2 303.4H587.5V305.7H584.2zM532.3 301.0H538.8V303.4H532.3zM542.1 301.0H545.3V303.4H542.1zM532.3 298.7H535.6V301.0H532.3zM542.1 298.7H545.3V301.0H542.1zM532.3 296.3H535.6V298.7H532.3zM587.5 296.3H590.7V298.7H587.5zM532.3 294.0H535.6V296.3H532.3zM587.5 294.0H590.7V296.3H587.5zM532.3 291.7H535.6V294.0H532.3zM590.7 287.0H594.0V289.3H590.7zM590.7 284.6H594.0V287.0H590.7zM594.0 265.9H597.2V268.2H594.0zM594.0 263.6H600.4V265.9H594.0zM597.2 261.2H600.4V263.6H597.2zM597.2 258.9H600.4V261.2H597.2zM597.2 256.5H600.4V258.9H597.2zM597.2 254.2H600.4V256.5H597.2zM597.2 251.9H600.4V254.2H597.2zM600.4 221.4H603.7V223.8H600.4zM600.4 219.1H603.7V221.4H600.4zM600.4 217.9H603.7V219.1H600.4z"/><path fill="#e6a058" stroke="#e6a058" stroke-width="0.5" d="M564.8 324.4H568.0V326.8H564.8zM568.0 322.1H571.3V324.4H568.0zM538.8 319.8H542.1V322.1H538.8zM548.6 319.8H551.8V322.1H548.6zM561.5 319.8H564.8V322.1H561.5zM538.8 317.4H542.1V319.8H538.8zM558.3 317.4H564.8V319.8H558.3zM558.3 315.1H561.5V317.4H558.3zM571.3 312.7H577.7V315.1H571.3zM535.6 310.4H538.8V312.7H535.6zM545.3 310.4H548.6V312.7H545.3zM555.0 310.4H558.3V312.7H555.0zM577.7 310.4H581.0V312.7H577.7zM532.3 308.0H538.8V310.4H532.3zM545.3 308.0H548.6V310.4H545.3zM551.8 308.0H555.0V310.4H551.8zM532.3 305.7H538.8V308.0H532.3zM542.1 305.7H545.3V308.0H542.1zM532.3 303.4H535.6V305.7H532.3zM542.1 303.4H545.3V305.7H542.1zM587.5 298.7H590.7V301.0H587.5zM590.7 294.0H594.0V296.3H590.7zM590.7 291.7H594.0V294.0H590.7zM590.7 289.3H594.0V291.7H590.7zM594.0 272.9H597.2V275.3H594.0zM594.0 270.6H597.2V272.9H594.0zM594.0 268.2H600.4V270.6H594.0zM597.2 265.9H600.4V268.2H597.2zM600.4 242.5H603.7V244.8H600.4zM600.4 240.1H603.7V242.5H600.4zM600.4 237.8H603.7V240.1H600.4zM600.4 235.5H603.7V237.8H600.4zM600.4 233.1H603.7V235.5H600.4zM600.4 230.8H603.7V233.1H600.4zM600.4 228.4H603.7V230.8H600.4zM600.4 226.1H603.7V228.4H600.4zM600.4 223.8H603.7V226.1H600.4z"/><path fill="#e6a35a" stroke="#e6a35a" stroke-width="0.5" d="M564.8 326.8H568.0V329.1H564.8zM568.0 324.4H571.3V326.8H568.0zM538.8 322.1H542.1V324.4H538.8zM548.6 322.1H551.8V324.4H548.6zM561.5 322.1H564.8V324.4H561.5zM558.3 319.8H561.5V322.1H558.3zM535.6 317.4H538.8V319.8H535.6zM535.6 315.1H538.8V317.4H535.6zM545.3 315.1H548.6V317.4H545.3zM571.3 315.1H577.7V317.4H571.3zM532.3 312.7H538.8V315.1H532.3zM545.3 312.7H548.6V315.1H545.3zM551.8 312.7H558.3V315.1H551.8zM577.7 312.7H581.0V315.1H577.7zM532.3 310.4H535.6V312.7H532.3zM542.1 310.4H545.3V312.7H542.1zM551.8 310.4H555.0V312.7H551.8zM542.1 308.0H545.3V310.4H542.1zM581.0 308.0H584.2V310.4H581.0zM584.2 305.7H587.5V308.0H584.2zM590.7 296.3H594.0V298.7H590.7zM594.0 277.6H597.2V279.9H594.0zM594.0 275.3H597.2V277.6H594.0zM597.2 272.9H600.4V275.3H597.2zM597.2 270.6H600.4V272.9H597.2zM600.4 261.2H603.7V263.6H600.4zM600.4 258.9H603.7V261.2H600.4zM600.4 256.5H603.7V258.9H600.4zM600.4 254.2H603.7V256.5H600.4zM600.4 251.9H603.7V254.2H600.4zM600.4 249.5H603.7V251.9H600.4zM600.4 247.2H603.7V249.5H600.4zM600.4 244.8H603.7V247.2H600.4zM603.7 226.1H606.9V228.4H603.7zM603.7 223.8H606.9V226.1H603.7zM603.7 221.4H606.9V223.8H603.7zM603.7 219.1H606.9V221.4H603.7zM603.7 217.9H606.9V219.1H603.7z"/><path fill="#e7a75c" stroke="#e7a75c" stroke-width="0.5" d="M564.8 329.1H568.0V331.5H564.8zM568.0 326.8H571.3V329.1H568.0zM538.8 324.4H542.1V326.8H538.8zM548.6 324.4H551.8V326.8H548.6zM561.5 324.4H564.8V326.8H561.5zM558.3 322.1H561.5V324.4H558.3zM532.3 319.8H538.8V322.1H532.3zM532.3 317.4H535.6V319.8H532.3zM545.3 317.4H548.6V319.8H545.3zM555.0 317.4H558.3V319.8H555.0zM571.3 317.4H577.7V319.8H571.3zM532.3 315.1H535.6V317.4H532.3zM542.1 315.1H545.3V317.4H542.1zM551.8 315.1H558.3V317.4H551.8zM542.1 312.7H545.3V315.1H542.1zM581.0 310.4H584.2V312.7H581.0zM584.2 308.0H587.5V310.4H584.2zM587.5 301.0H590.7V303.4H587.5zM590.7 298.7H594.0V301.0H590.7zM594.0 284.6H597.2V287.0H594.0zM594.0 282.3H597.2V284.6H594.0zM594.0 279.9H600.4V282.3H594.0zM597.2 277.6H600.4V279.9H597.2zM529.1 275.3H532.3V277.6H529.1zM597.2 275.3H600.4V277.6H597.2zM529.1 272.9H532.3V275.3H529.1zM529.1 270.6H532.3V272.9H529.1zM529.1 268.2H532.3V270.6H529.1zM529.1 265.9H532.3V268.2H529.1zM600.4 265.9H603.7V268.2H600.4zM529.1 263.6H532.3V265.9H529.1zM600.4 263.6H603.7V265.9H600.4zM529.1 261.2H532.3V263.6H529.1zM529.1 258.9H532.3V261.2H529.1zM529.1 256.5H532.3V258.9H529.1zM529.1 254.2H532.3V256.5H529.1zM529.1 251.9H532.3V254.2H529.1zM529.1 249.5H532.3V251.9H529.1zM529.1 247.2H532.3V249.5H529.1zM529.1 244.8H532.3V247.2H529.1zM529.1 242.5H532.3V244.8H529.1zM603.7 242.5H606.9V244.8H603.7zM529.1 240.1H532.3V242.5H529.1zM603.7 240.1H606.9V242.5H603.7zM529.1 237.8H532.3V240.1H529.1zM603.7 237.8H606.9V240.1H603.7zM529.1 235.5H532.3V237.8H529.1zM603.7 235.5H606.9V237.8H603.7zM529.1 233.1H532.3V235.5H529.1zM603.7 233.1H606.9V235.5H603.7zM529.1 230.8H532.3V233.1H529.1zM603.7 230.8H606.9V233.1H603.7zM529.1 228.4H532.3V230.8H529.1zM603.7 228.4H606.9V230.8H603.7zM529.1 226.1H532.3V228.4H529.1zM529.1 223.8H532.3V226.1H529.1zM529.1 221.4H532.3V223.8H529.1zM529.1 219.1H532.3V221.4H529.1zM529.1 217.9H532.3V219.1H529.1z"/><path fill="#e8aa5f" stroke="#e8aa5f" stroke-width="0.5" d="M564.8 331.5H568.0V333.8H564.8zM568.0 329.1H571.3V331.5H568.0zM538.8 326.8H542.1V329.1H538.8zM548.6 326.8H551.8V329.1H548.6zM561.5 326.8H564.8V329.1H561.5zM558.3 324.4H561.5V326.8H558.3zM532.3 322.1H538.8V324.4H532.3zM542.1 319.8H548.6V322.1H542.1zM555.0 319.8H558.3V322.1H555.0zM571.3 319.8H577.7V322.1H571.3zM542.1 317.4H545.3V319.8H542.1zM551.8 317.4H555.0V319.8H551.8zM577.7 315.1H581.0V317.4H577.7zM581.0 312.7H584.2V315.1H581.0zM584.2 310.4H587.5V312.7H584.2zM587.5 303.4H590.7V305.7H587.5zM590.7 301.0H594.0V303.4H590.7zM529.1 296.3H532.3V298.7H529.1zM529.1 294.0H532.3V296.3H529.1zM529.1 291.7H532.3V294.0H529.1zM529.1 289.3H532.3V291.7H529.1zM594.0 289.3H597.2V291.7H594.0zM529.1 287.0H532.3V289.3H529.1zM594.0 287.0H597.2V289.3H594.0zM529.1 284.6H532.3V287.0H529.1zM597.2 284.6H600.4V287.0H597.2zM529.1 282.3H532.3V284.6H529.1zM597.2 282.3H600.4V284.6H597.2zM525.8 279.9H532.3V282.3H525.8zM525.8 277.6H532.3V279.9H525.8zM525.8 275.3H529.1V277.6H525.8zM525.8 272.9H529.1V275.3H525.8zM525.8 270.6H529.1V272.9H525.8zM600.4 270.6H603.7V272.9H600.4zM525.8 268.2H529.1V270.6H525.8zM600.4 268.2H603.7V270.6H600.4zM525.8 265.9H529.1V268.2H525.8zM525.8 263.6H529.1V265.9H525.8zM525.8 261.2H529.1V263.6H525.8zM603.7 261.2H606.9V263.6H603.7zM525.8 258.9H529.1V261.2H525.8zM603.7 258.9H606.9V261.2H603.7zM525.8 256.5H529.1V258.9H525.8zM603.7 256.5H606.9V258.9H603.7zM525.8 254.2H529.1V256.5H525.8zM603.7 254.2H606.9V256.5H603.7zM525.8 251.9H529.1V254.2H525.8zM603.7 251.9H606.9V254.2H603.7zM525.8 249.5H529.1V251.9H525.8zM603.7 249.5H606.9V251.9H603.7zM525.8 247.2H529.1V249.5H525.8zM603.7 247.2H606.9V249.5H603.7zM525.8 244.8H529.1V247.2H525.8zM603.7 244.8H606.9V247.2H603.7zM525.8 242.5H529.1V244.8H525.8zM525.8 240.1H529.1V242.5H525.8zM525.8 237.8H529.1V240.1H525.8zM525.8 235.5H529.1V237.8H525.8zM525.8 233.1H529.1V235.5H525.8zM525.8 230.8H529.1V233.1H525.8zM525.8 228.4H529.1V230.8H525.8zM525.8 226.1H529.1V228.4H525.8zM525.8 223.8H529.1V226.1H525.8zM525.8 221.4H529.1V223.8H525.8zM525.8 219.1H529.1V221.4H525.8zM525.8 217.9H529.1V219.1H525.8z"/><path fill="#e9ad62" stroke="#e9ad62" stroke-width="0.5" d="M548.6 333.8H551.8V336.1H548.6zM561.5 333.8H568.0V336.1H561.5zM548.6 331.5H551.8V333.8H548.6zM561.5 331.5H564.8V333.8H561.5zM538.8 329.1H542.1V331.5H538.8zM548.6 329.1H551.8V331.5H548.6zM561.5 329.1H564.8V331.5H561.5zM558.3 326.8H561.5V329.1H558.3zM532.3 324.4H538.8V326.8H532.3zM542.1 322.1H548.6V324.4H542.1zM555.0 322.1H558.3V324.4H555.0zM571.3 322.1H577.7V324.4H571.3zM551.8 319.8H555.0V322.1H551.8zM577.7 317.4H581.0V319.8H577.7zM581.0 315.1H584.2V317.4H581.0zM584.2 312.7H587.5V315.1H584.2zM587.5 305.7H590.7V308.0H587.5zM529.1 303.4H532.3V305.7H529.1zM529.1 301.0H532.3V303.4H529.1zM525.8 298.7H532.3V301.0H525.8zM525.8 296.3H529.1V298.7H525.8zM594.0 296.3H597.2V298.7H594.0zM525.8 294.0H529.1V296.3H525.8zM594.0 294.0H597.2V296.3H594.0zM525.8 291.7H529.1V294.0H525.8zM594.0 291.7H597.2V294.0H594.0zM525.8 289.3H529.1V291.7H525.8zM597.2 289.3H600.4V291.7H597.2zM525.8 287.0H529.1V289.3H525.8zM597.2 287.0H600.4V289.3H597.2zM525.8 284.6H529.1V287.0H525.8zM525.8 282.3H529.1V284.6H525.8zM600.4 275.3H603.7V277.6H600.4zM600.4 272.9H603.7V275.3H600.4zM522.6 268.2H525.8V270.6H522.6zM522.6 265.9H525.8V268.2H522.6zM603.7 265.9H606.9V268.2H603.7zM522.6 263.6H525.8V265.9H522.6zM603.7 263.6H606.9V265.9H603.7zM522.6 261.2H525.8V263.6H522.6zM522.6 258.9H525.8V261.2H522.6zM522.6 256.5H525.8V258.9H522.6zM522.6 254.2H525.8V256.5H522.6zM522.6 251.9H525.8V254.2H522.6zM522.6 249.5H525.8V251.9H522.6zM522.6 247.2H525.8V249.5H522.6zM522.6 244.8H525.8V247.2H522.6zM522.6 242.5H525.8V244.8H522.6zM522.6 240.1H525.8V242.5H522.6zM522.6 237.8H525.8V240.1H522.6zM522.6 235.5H525.8V237.8H522.6zM522.6 233.1H525.8V235.5H522.6zM522.6 230.8H525.8V233.1H522.6zM522.6 228.4H525.8V230.8H522.6zM522.6 226.1H525.8V228.4H522.6zM522.6 223.8H525.8V226.1H522.6zM522.6 221.4H525.8V223.8H522.6zM522.6 219.1H525.8V221.4H522.6zM522.6 217.9H525.8V219.1H522.6zM606.9 217.9H610.2V219.1H606.9z"/><path fill="#eab064" stroke="#eab064" stroke-width="0.5" d="M548.6 338.5H551.8V340.8H548.6zM548.6 336.1H551.8V338.5H548.6zM532.3 333.8H535.6V336.1H532.3zM538.8 331.5H542.1V333.8H538.8zM568.0 331.5H571.3V333.8H568.0zM558.3 329.1H561.5V331.5H558.3zM532.3 326.8H538.8V329.1H532.3zM542.1 324.4H548.6V326.8H542.1zM555.0 324.4H558.3V326.8H555.0zM571.3 324.4H577.7V326.8H571.3zM551.8 322.1H555.0V324.4H551.8zM577.7 319.8H581.0V322.1H577.7zM581.0 317.4H584.2V319.8H581.0zM529.1 310.4H532.3V312.7H529.1zM529.1 308.0H532.3V310.4H529.1zM525.8 305.7H532.3V308.0H525.8zM525.8 303.4H529.1V305.7H525.8zM590.7 303.4H594.0V305.7H590.7zM525.8 301.0H529.1V303.4H525.8zM522.6 296.3H525.8V298.7H522.6zM597.2 296.3H600.4V298.7H597.2zM522.6 294.0H525.8V296.3H522.6zM597.2 294.0H600.4V296.3H597.2zM522.6 291.7H525.8V294.0H522.6zM597.2 291.7H600.4V294.0H597.2zM522.6 289.3H525.8V291.7H522.6zM522.6 287.0H525.8V289.3H522.6zM522.6 284.6H525.8V287.0H522.6zM522.6 282.3H525.8V284.6H522.6zM522.6 279.9H525.8V282.3H522.6zM600.4 279.9H603.7V282.3H600.4zM522.6 277.6H525.8V279.9H522.6zM600.4 277.6H603.7V279.9H600.4zM522.6 275.3H525.8V277.6H522.6zM522.6 272.9H525.8V275.3H522.6zM522.6 270.6H525.8V272.9H522.6zM603.7 270.6H606.9V272.9H603.7zM519.4 268.2H522.6V270.6H519.4zM603.7 268.2H606.9V270.6H603.7zM519.4 265.9H522.6V268.2H519.4zM519.4 263.6H522.6V265.9H519.4zM519.4 261.2H522.6V263.6H519.4zM519.4 258.9H522.6V261.2H519.4zM519.4 256.5H522.6V258.9H519.4zM519.4 254.2H522.6V256.5H519.4zM519.4 251.9H522.6V254.2H519.4zM519.4 249.5H522.6V251.9H519.4zM519.4 247.2H522.6V249.5H519.4zM519.4 244.8H522.6V247.2H519.4zM519.4 242.5H522.6V244.8H519.4zM519.4 240.1H522.6V242.5H519.4zM519.4 237.8H522.6V240.1H519.4zM519.4 235.5H522.6V237.8H519.4zM519.4 233.1H522.6V235.5H519.4zM519.4 230.8H522.6V233.1H519.4zM606.9 230.8H610.2V233.1H606.9zM519.4 228.4H522.6V230.8H519.4zM606.9 228.4H610.2V230.8H606.9zM519.4 226.1H522.6V228.4H519.4zM606.9 226.1H610.2V228.4H606.9zM519.4 223.8H522.6V226.1H519.4zM606.9 223.8H610.2V226.1H606.9zM519.4 221.4H522.6V223.8H519.4zM606.9 221.4H610.2V223.8H606.9zM519.4 219.1H522.6V221.4H519.4zM606.9 219.1H610.2V221.4H606.9zM519.4 217.9H522.6V219.1H519.4z"/><path fill="#eab366" stroke="#eab366" stroke-width="0.5" d="M532.3 340.8H535.6V343.2H532.3zM548.6 340.8H551.8V343.2H548.6zM532.3 338.5H535.6V340.8H532.3zM532.3 336.1H535.6V338.5H532.3zM561.5 336.1H568.0V338.5H561.5zM538.8 333.8H542.1V336.1H538.8zM568.0 333.8H571.3V336.1H568.0zM532.3 331.5H535.6V333.8H532.3zM558.3 331.5H561.5V333.8H558.3zM532.3 329.1H538.8V331.5H532.3zM542.1 326.8H548.6V329.1H542.1zM555.0 326.8H558.3V329.1H555.0zM551.8 324.4H555.0V326.8H551.8zM577.7 322.1H581.0V324.4H577.7zM529.1 317.4H532.3V319.8H529.1zM529.1 315.1H532.3V317.4H529.1zM584.2 315.1H587.5V317.4H584.2zM529.1 312.7H532.3V315.1H529.1zM525.8 310.4H529.1V312.7H525.8zM525.8 308.0H529.1V310.4H525.8zM587.5 308.0H590.7V310.4H587.5zM590.7 305.7H594.0V308.0H590.7zM522.6 303.4H525.8V305.7H522.6zM522.6 301.0H525.8V303.4H522.6zM522.6 298.7H525.8V301.0H522.6zM594.0 298.7H597.2V301.0H594.0zM519.4 296.3H522.6V298.7H519.4zM519.4 294.0H522.6V296.3H519.4zM519.4 291.7H522.6V294.0H519.4zM519.4 289.3H522.6V291.7H519.4zM519.4 287.0H522.6V289.3H519.4zM519.4 284.6H522.6V287.0H519.4zM600.4 284.6H603.7V287.0H600.4zM519.4 282.3H522.6V284.6H519.4zM600.4 282.3H603.7V284.6H600.4zM519.4 279.9H522.6V282.3H519.4zM519.4 277.6H522.6V279.9H519.4zM519.4 275.3H522.6V277.6H519.4zM603.7 275.3H606.9V277.6H603.7zM519.4 272.9H522.6V275.3H519.4zM603.7 272.9H606.9V275.3H603.7zM519.4 270.6H522.6V272.9H519.4zM606.9 244.8H610.2V247.2H606.9zM606.9 242.5H610.2V244.8H606.9zM606.9 240.1H610.2V242.5H606.9zM606.9 237.8H610.2V240.1H606.9zM606.9 235.5H610.2V237.8H606.9zM606.9 233.1H610.2V235.5H606.9zM610.2 217.9H613.4V219.1H610.2z"/><path fill="#ebb669" stroke="#ebb669" stroke-width="0.5" d="M532.3 345.5H535.6V347.8H532.3zM532.3 343.2H535.6V345.5H532.3zM548.6 343.2H551.8V345.5H548.6zM561.5 338.5H564.8V340.8H561.5zM542.1 333.8H545.3V336.1H542.1zM558.3 333.8H561.5V336.1H558.3zM535.6 331.5H538.8V333.8H535.6zM542.1 331.5H545.3V333.8H542.1zM542.1 329.1H548.6V331.5H542.1zM555.0 329.1H558.3V331.5H555.0zM551.8 326.8H555.0V329.1H551.8zM571.3 326.8H577.7V329.1H571.3zM529.1 319.8H532.3V322.1H529.1zM581.0 319.8H584.2V322.1H581.0zM525.8 317.4H529.1V319.8H525.8zM584.2 317.4H587.5V319.8H584.2zM525.8 315.1H529.1V317.4H525.8zM525.8 312.7H529.1V315.1H525.8zM522.6 310.4H525.8V312.7H522.6zM587.5 310.4H590.7V312.7H587.5zM522.6 308.0H525.8V310.4H522.6zM519.4 305.7H525.8V308.0H519.4zM519.4 303.4H522.6V305.7H519.4zM519.4 301.0H522.6V303.4H519.4zM594.0 301.0H597.2V303.4H594.0zM519.4 298.7H522.6V301.0H519.4zM597.2 298.7H600.4V301.0H597.2zM600.4 291.7H603.7V294.0H600.4zM600.4 289.3H603.7V291.7H600.4zM600.4 287.0H603.7V289.3H600.4zM603.7 279.9H606.9V282.3H603.7zM603.7 277.6H606.9V279.9H603.7zM606.9 258.9H610.2V261.2H606.9zM606.9 256.5H610.2V258.9H606.9zM606.9 254.2H610.2V256.5H606.9zM606.9 251.9H610.2V254.2H606.9zM606.9 249.5H610.2V251.9H606.9zM606.9 247.2H610.2V249.5H606.9zM610.2 228.4H613.4V230.8H610.2zM610.2 226.1H613.4V228.4H610.2zM610.2 223.8H613.4V226.1H610.2zM610.2 221.4H613.4V223.8H610.2zM610.2 219.1H613.4V221.4H610.2z"/><path fill="#ecb96c" stroke="#ecb96c" stroke-width="0.5" d="M548.6 345.5H551.8V347.8H548.6zM561.5 340.8H564.8V343.2H561.5zM538.8 336.1H545.3V338.5H538.8zM568.0 336.1H571.3V338.5H568.0zM535.6 333.8H538.8V336.1H535.6zM545.3 331.5H548.6V333.8H545.3zM555.0 331.5H558.3V333.8H555.0zM551.8 329.1H555.0V331.5H551.8zM571.3 329.1H577.7V331.5H571.3zM577.7 324.4H581.0V326.8H577.7zM525.8 322.1H532.3V324.4H525.8zM581.0 322.1H584.2V324.4H581.0zM525.8 319.8H529.1V322.1H525.8zM584.2 319.8H587.5V322.1H584.2zM519.4 317.4H525.8V319.8H519.4zM519.4 315.1H525.8V317.4H519.4zM519.4 312.7H525.8V315.1H519.4zM587.5 312.7H590.7V315.1H587.5zM519.4 310.4H522.6V312.7H519.4zM519.4 308.0H522.6V310.4H519.4zM590.7 308.0H594.0V310.4H590.7zM600.4 296.3H603.7V298.7H600.4zM600.4 294.0H603.7V296.3H600.4zM603.7 287.0H606.9V289.3H603.7zM603.7 284.6H606.9V287.0H603.7zM603.7 282.3H606.9V284.6H603.7zM606.9 265.9H610.2V268.2H606.9zM606.9 263.6H610.2V265.9H606.9zM606.9 261.2H610.2V263.6H606.9zM610.2 242.5H613.4V244.8H610.2zM610.2 240.1H613.4V242.5H610.2zM610.2 237.8H613.4V240.1H610.2zM610.2 235.5H613.4V237.8H610.2zM610.2 233.1H613.4V235.5H610.2zM610.2 230.8H613.4V233.1H610.2z"/><path fill="#edbc6e" stroke="#edbc6e" stroke-width="0.5" d="M532.3 347.8H535.6V350.2H532.3zM548.6 347.8H551.8V350.2H548.6zM519.4 345.5H522.6V347.8H519.4zM519.4 343.2H522.6V345.5H519.4zM561.5 343.2H564.8V345.5H561.5zM519.4 340.8H522.6V343.2H519.4zM519.4 338.5H522.6V340.8H519.4zM542.1 338.5H545.3V340.8H542.1zM564.8 338.5H568.0V340.8H564.8zM519.4 336.1H522.6V338.5H519.4zM535.6 336.1H538.8V338.5H535.6zM558.3 336.1H561.5V338.5H558.3zM519.4 333.8H522.6V336.1H519.4zM545.3 333.8H548.6V336.1H545.3zM555.0 333.8H558.3V336.1H555.0zM551.8 331.5H555.0V333.8H551.8zM571.3 331.5H577.7V333.8H571.3zM529.1 326.8H532.3V329.1H529.1zM577.7 326.8H581.0V329.1H577.7zM525.8 324.4H532.3V326.8H525.8zM519.4 322.1H525.8V324.4H519.4zM519.4 319.8H525.8V322.1H519.4zM590.7 310.4H594.0V312.7H590.7zM594.0 303.4H597.2V305.7H594.0zM597.2 301.0H600.4V303.4H597.2zM603.7 291.7H606.9V294.0H603.7zM603.7 289.3H606.9V291.7H603.7zM606.9 272.9H610.2V275.3H606.9zM606.9 270.6H610.2V272.9H606.9zM606.9 268.2H610.2V270.6H606.9zM516.1 263.6H519.4V265.9H516.1zM516.1 261.2H519.4V263.6H516.1zM516.1 258.9H519.4V261.2H516.1zM516.1 256.5H519.4V258.9H516.1zM516.1 254.2H519.4V256.5H516.1zM610.2 254.2H613.4V256.5H610.2zM516.1 251.9H519.4V254.2H516.1zM610.2 251.9H613.4V254.2H610.2zM516.1 249.5H519.4V251.9H516.1zM610.2 249.5H613.4V251.9H610.2zM516.1 247.2H519.4V249.5H516.1zM610.2 247.2H613.4V249.5H610.2zM516.1 244.8H519.4V247.2H516.1zM610.2 244.8H613.4V247.2H610.2zM516.1 242.5H519.4V244.8H516.1zM516.1 240.1H519.4V242.5H516.1zM516.1 237.8H519.4V240.1H516.1zM516.1 235.5H519.4V237.8H516.1zM516.1 233.1H519.4V235.5H516.1zM516.1 230.8H519.4V233.1H516.1zM516.1 228.4H519.4V230.8H516.1zM516.1 226.1H519.4V228.4H516.1zM613.4 226.1H616.7V228.4H613.4zM516.1 223.8H519.4V226.1H516.1zM613.4 223.8H616.7V226.1H613.4zM516.1 221.4H519.4V223.8H516.1zM613.4 221.4H616.7V223.8H613.4zM516.1 219.1H519.4V221.4H516.1zM613.4 219.1H616.7V221.4H613.4zM516.1 217.9H519.4V219.1H516.1zM613.4 217.9H616.7V219.1H613.4z"/><path fill="#eebe70" stroke="#eebe70" stroke-width="0.5" d="M519.4 347.8H522.6V350.2H519.4zM561.5 345.5H564.8V347.8H561.5zM542.1 343.2H545.3V345.5H542.1zM542.1 340.8H545.3V343.2H542.1zM538.8 338.5H542.1V340.8H538.8zM551.8 333.8H555.0V336.1H551.8zM571.3 333.8H574.5V336.1H571.3zM519.4 331.5H522.6V333.8H519.4zM529.1 329.1H532.3V331.5H529.1zM519.4 326.8H522.6V329.1H519.4zM525.8 326.8H529.1V329.1H525.8zM519.4 324.4H525.8V326.8H519.4zM581.0 324.4H584.2V326.8H581.0zM584.2 322.1H587.5V324.4H584.2zM587.5 315.1H590.7V317.4H587.5zM594.0 305.7H597.2V308.0H594.0zM597.2 303.4H600.4V305.7H597.2zM600.4 298.7H603.7V301.0H600.4zM603.7 296.3H606.9V298.7H603.7zM516.1 294.0H519.4V296.3H516.1zM603.7 294.0H606.9V296.3H603.7zM516.1 291.7H519.4V294.0H516.1zM516.1 289.3H519.4V291.7H516.1zM516.1 287.0H519.4V289.3H516.1zM516.1 284.6H519.4V287.0H516.1zM516.1 282.3H519.4V284.6H516.1zM516.1 279.9H519.4V282.3H516.1zM516.1 277.6H519.4V279.9H516.1zM606.9 277.6H610.2V279.9H606.9zM516.1 275.3H519.4V277.6H516.1zM606.9 275.3H610.2V277.6H606.9zM516.1 272.9H519.4V275.3H516.1zM516.1 270.6H519.4V272.9H516.1zM516.1 268.2H519.4V270.6H516.1zM516.1 265.9H519.4V268.2H516.1zM610.2 263.6H613.4V265.9H610.2zM610.2 261.2H613.4V263.6H610.2zM610.2 258.9H613.4V261.2H610.2zM610.2 256.5H613.4V258.9H610.2zM613.4 237.8H616.7V240.1H613.4zM613.4 235.5H616.7V237.8H613.4zM613.4 233.1H616.7V235.5H613.4zM613.4 230.8H616.7V233.1H613.4zM613.4 228.4H616.7V230.8H613.4z"/><path fill="#efc173" stroke="#efc173" stroke-width="0.5" d="M532.3 350.2H535.6V352.5H532.3zM548.6 350.2H551.8V352.5H548.6zM542.1 345.5H545.3V347.8H542.1zM564.8 340.8H568.0V343.2H564.8zM535.6 338.5H538.8V340.8H535.6zM568.0 338.5H571.3V340.8H568.0zM545.3 336.1H548.6V338.5H545.3zM555.0 336.1H558.3V338.5H555.0zM574.5 333.8H577.7V336.1H574.5zM529.1 331.5H532.3V333.8H529.1zM519.4 329.1H529.1V331.5H519.4zM577.7 329.1H581.0V331.5H577.7zM522.6 326.8H525.8V329.1H522.6zM581.0 326.8H584.2V329.1H581.0zM587.5 317.4H590.7V319.8H587.5zM516.1 312.7H519.4V315.1H516.1zM590.7 312.7H594.0V315.1H590.7zM516.1 310.4H519.4V312.7H516.1zM516.1 308.0H519.4V310.4H516.1zM516.1 305.7H519.4V308.0H516.1zM516.1 303.4H519.4V305.7H516.1zM516.1 301.0H519.4V303.4H516.1zM516.1 298.7H519.4V301.0H516.1zM516.1 296.3H519.4V298.7H516.1zM606.9 284.6H610.2V287.0H606.9zM606.9 282.3H610.2V284.6H606.9zM606.9 279.9H610.2V282.3H606.9zM610.2 270.6H613.4V272.9H610.2zM610.2 268.2H613.4V270.6H610.2zM610.2 265.9H613.4V268.2H610.2zM613.4 247.2H616.7V249.5H613.4zM613.4 244.8H616.7V247.2H613.4zM613.4 242.5H616.7V244.8H613.4zM613.4 240.1H616.7V242.5H613.4z"/><path fill="#f0c476" stroke="#f0c476" stroke-width="0.5" d="M519.4 350.2H522.6V352.5H519.4zM538.8 340.8H542.1V343.2H538.8zM545.3 338.5H548.6V340.8H545.3zM558.3 338.5H561.5V340.8H558.3zM551.8 336.1H555.0V338.5H551.8zM529.1 333.8H532.3V336.1H529.1zM522.6 331.5H529.1V333.8H522.6zM577.7 331.5H581.0V333.8H577.7zM584.2 324.4H587.5V326.8H584.2zM516.1 322.1H519.4V324.4H516.1zM516.1 319.8H519.4V322.1H516.1zM587.5 319.8H590.7V322.1H587.5zM516.1 317.4H519.4V319.8H516.1zM516.1 315.1H519.4V317.4H516.1zM590.7 315.1H594.0V317.4H590.7zM594.0 308.0H597.2V310.4H594.0zM597.2 305.7H600.4V308.0H597.2zM600.4 301.0H603.7V303.4H600.4zM603.7 298.7H606.9V301.0H603.7zM606.9 289.3H610.2V291.7H606.9zM512.9 287.0H516.1V289.3H512.9zM606.9 287.0H610.2V289.3H606.9zM512.9 284.6H516.1V287.0H512.9zM512.9 282.3H516.1V284.6H512.9zM512.9 279.9H516.1V282.3H512.9zM512.9 277.6H516.1V279.9H512.9zM610.2 277.6H613.4V279.9H610.2zM512.9 275.3H516.1V277.6H512.9zM610.2 275.3H613.4V277.6H610.2zM512.9 272.9H516.1V275.3H512.9zM610.2 272.9H613.4V275.3H610.2zM512.9 270.6H516.1V272.9H512.9zM512.9 268.2H516.1V270.6H512.9zM512.9 265.9H516.1V268.2H512.9zM512.9 263.6H516.1V265.9H512.9zM512.9 261.2H516.1V263.6H512.9zM512.9 258.9H516.1V261.2H512.9zM613.4 258.9H616.7V261.2H613.4zM512.9 256.5H516.1V258.9H512.9zM613.4 256.5H616.7V258.9H613.4zM512.9 254.2H516.1V256.5H512.9zM613.4 254.2H616.7V256.5H613.4zM512.9 251.9H516.1V254.2H512.9zM613.4 251.9H616.7V254.2H613.4zM512.9 249.5H516.1V251.9H512.9zM613.4 249.5H616.7V251.9H613.4zM512.9 247.2H516.1V249.5H512.9zM512.9 244.8H516.1V247.2H512.9zM512.9 242.5H516.1V244.8H512.9zM512.9 240.1H516.1V242.5H512.9zM512.9 237.8H516.1V240.1H512.9zM512.9 235.5H516.1V237.8H512.9zM512.9 233.1H516.1V235.5H512.9zM512.9 230.8H516.1V233.1H512.9zM512.9 228.4H516.1V230.8H512.9zM512.9 226.1H516.1V228.4H512.9zM512.9 223.8H516.1V226.1H512.9zM512.9 221.4H516.1V223.8H512.9zM512.9 219.1H516.1V221.4H512.9zM512.9 217.9H516.1V219.1H512.9z"/><path fill="#f0c778" stroke="#f0c778" stroke-width="0.5" d="M548.6 352.5H551.8V354.9H548.6zM542.1 347.8H545.3V350.2H542.1zM561.5 347.8H564.8V350.2H561.5zM535.6 340.8H538.8V343.2H535.6zM568.0 340.8H571.3V343.2H568.0zM555.0 338.5H558.3V340.8H555.0zM571.3 336.1H574.5V338.5H571.3zM522.6 333.8H529.1V336.1H522.6zM516.1 329.1H519.4V331.5H516.1zM581.0 329.1H584.2V331.5H581.0zM516.1 326.8H519.4V329.1H516.1zM584.2 326.8H587.5V329.1H584.2zM516.1 324.4H519.4V326.8H516.1zM590.7 317.4H594.0V319.8H590.7zM512.9 312.7H516.1V315.1H512.9zM512.9 310.4H516.1V312.7H512.9zM594.0 310.4H597.2V312.7H594.0zM512.9 308.0H516.1V310.4H512.9zM512.9 305.7H516.1V308.0H512.9zM512.9 303.4H516.1V305.7H512.9zM512.9 301.0H516.1V303.4H512.9zM512.9 298.7H516.1V301.0H512.9zM512.9 296.3H516.1V298.7H512.9zM606.9 296.3H610.2V298.7H606.9zM512.9 294.0H516.1V296.3H512.9zM606.9 294.0H610.2V296.3H606.9zM512.9 291.7H516.1V294.0H512.9zM606.9 291.7H610.2V294.0H606.9zM512.9 289.3H516.1V291.7H512.9zM610.2 284.6H613.4V287.0H610.2zM610.2 282.3H613.4V284.6H610.2zM610.2 279.9H613.4V282.3H610.2zM613.4 265.9H616.7V268.2H613.4zM613.4 263.6H616.7V265.9H613.4zM613.4 261.2H616.7V263.6H613.4z"/><path fill="#f1ca7a" stroke="#f1ca7a" stroke-width="0.5" d="M519.4 352.5H522.6V354.9H519.4zM532.3 352.5H535.6V354.9H532.3zM538.8 343.2H542.1V345.5H538.8zM564.8 343.2H568.0V345.5H564.8zM545.3 340.8H548.6V343.2H545.3zM558.3 340.8H561.5V343.2H558.3zM551.8 338.5H555.0V340.8H551.8zM522.6 336.1H532.3V338.5H522.6zM574.5 336.1H577.7V338.5H574.5zM516.1 333.8H519.4V336.1H516.1zM577.7 333.8H581.0V336.1H577.7zM516.1 331.5H519.4V333.8H516.1zM512.9 322.1H516.1V324.4H512.9zM587.5 322.1H590.7V324.4H587.5zM512.9 319.8H516.1V322.1H512.9zM512.9 317.4H516.1V319.8H512.9zM512.9 315.1H516.1V317.4H512.9zM597.2 308.0H600.4V310.4H597.2zM600.4 303.4H603.7V305.7H600.4zM603.7 301.0H606.9V303.4H603.7zM610.2 294.0H613.4V296.3H610.2zM610.2 291.7H613.4V294.0H610.2zM610.2 289.3H613.4V291.7H610.2zM610.2 287.0H613.4V289.3H610.2zM613.4 272.9H616.7V275.3H613.4zM613.4 270.6H616.7V272.9H613.4zM613.4 268.2H616.7V270.6H613.4z"/><path fill="#f2cd7d" stroke="#f2cd7d" stroke-width="0.5" d="M542.1 350.2H545.3V352.5H542.1zM535.6 343.2H538.8V345.5H535.6zM555.0 340.8H558.3V343.2H555.0zM529.1 338.5H532.3V340.8H529.1zM516.1 336.1H519.4V338.5H516.1zM581.0 331.5H584.2V333.8H581.0zM512.9 329.1H516.1V331.5H512.9zM584.2 329.1H587.5V331.5H584.2zM512.9 326.8H516.1V329.1H512.9zM512.9 324.4H516.1V326.8H512.9zM590.7 319.8H594.0V322.1H590.7zM594.0 312.7H597.2V315.1H594.0zM597.2 310.4H600.4V312.7H597.2zM509.6 308.0H512.9V310.4H509.6zM509.6 305.7H512.9V308.0H509.6zM600.4 305.7H603.7V308.0H600.4zM509.6 303.4H512.9V305.7H509.6zM509.6 301.0H512.9V303.4H509.6zM509.6 298.7H512.9V301.0H509.6zM606.9 298.7H610.2V301.0H606.9zM509.6 296.3H512.9V298.7H509.6zM610.2 296.3H613.4V298.7H610.2zM509.6 294.0H512.9V296.3H509.6zM509.6 291.7H512.9V294.0H509.6zM509.6 289.3H512.9V291.7H509.6zM509.6 287.0H512.9V289.3H509.6zM509.6 284.6H512.9V287.0H509.6zM509.6 282.3H512.9V284.6H509.6zM509.6 279.9H512.9V282.3H509.6zM613.4 279.9H616.7V282.3H613.4zM509.6 277.6H512.9V279.9H509.6zM613.4 277.6H616.7V279.9H613.4zM509.6 275.3H512.9V277.6H509.6zM613.4 275.3H616.7V277.6H613.4zM509.6 272.9H512.9V275.3H509.6zM509.6 270.6H512.9V272.9H509.6zM509.6 268.2H512.9V270.6H509.6zM509.6 265.9H512.9V268.2H509.6zM509.6 263.6H512.9V265.9H509.6zM509.6 261.2H512.9V263.6H509.6zM509.6 258.9H512.9V261.2H509.6zM509.6 256.5H512.9V258.9H509.6zM509.6 254.2H512.9V256.5H509.6zM509.6 251.9H512.9V254.2H509.6zM509.6 249.5H512.9V251.9H509.6zM509.6 247.2H512.9V249.5H509.6zM509.6 244.8H512.9V247.2H509.6zM509.6 242.5H512.9V244.8H509.6zM509.6 240.1H512.9V242.5H509.6zM509.6 237.8H512.9V240.1H509.6zM509.6 235.5H512.9V237.8H509.6zM509.6 233.1H512.9V235.5H509.6zM509.6 230.8H512.9V233.1H509.6zM509.6 228.4H512.9V230.8H509.6zM509.6 226.1H512.9V228.4H509.6zM616.7 226.1H619.9V228.4H616.7zM509.6 223.8H512.9V226.1H509.6zM616.7 223.8H619.9V226.1H616.7zM509.6 221.4H512.9V223.8H509.6zM616.7 221.4H619.9V223.8H616.7zM509.6 219.1H512.9V221.4H509.6zM616.7 219.1H619.9V221.4H616.7zM509.6 217.9H512.9V219.1H509.6zM616.7 217.9H619.9V219.1H616.7z"/><path fill="#f3d081" stroke="#f3d081" stroke-width="0.5" d="M561.5 350.2H564.8V352.5H561.5zM538.8 345.5H542.1V347.8H538.8zM564.8 345.5H568.0V347.8H564.8zM545.3 343.2H548.6V345.5H545.3zM558.3 343.2H561.5V345.5H558.3zM568.0 343.2H571.3V345.5H568.0zM551.8 340.8H555.0V343.2H551.8zM522.6 338.5H529.1V340.8H522.6zM571.3 338.5H574.5V340.8H571.3zM512.9 333.8H516.1V336.1H512.9zM581.0 333.8H584.2V336.1H581.0zM512.9 331.5H516.1V333.8H512.9zM587.5 324.4H590.7V326.8H587.5zM509.6 322.1H512.9V324.4H509.6zM509.6 319.8H512.9V322.1H509.6zM509.6 317.4H512.9V319.8H509.6zM509.6 315.1H512.9V317.4H509.6zM594.0 315.1H597.2V317.4H594.0zM509.6 312.7H512.9V315.1H509.6zM509.6 310.4H512.9V312.7H509.6zM603.7 303.4H606.9V305.7H603.7zM613.4 287.0H616.7V289.3H613.4zM613.4 284.6H616.7V287.0H613.4zM613.4 282.3H616.7V284.6H613.4zM616.7 235.5H619.9V237.8H616.7zM616.7 233.1H619.9V235.5H616.7zM616.7 230.8H619.9V233.1H616.7zM616.7 228.4H619.9V230.8H616.7z"/><path fill="#f3d284" stroke="#f3d284" stroke-width="0.5" d="M519.4 354.9H522.6V357.2H519.4zM535.6 345.5H538.8V347.8H535.6zM555.0 343.2H558.3V345.5H555.0zM522.6 340.8H532.3V343.2H522.6zM516.1 338.5H519.4V340.8H516.1zM574.5 338.5H577.7V340.8H574.5zM512.9 336.1H516.1V338.5H512.9zM577.7 336.1H581.0V338.5H577.7zM584.2 331.5H587.5V333.8H584.2zM509.6 326.8H512.9V329.1H509.6zM509.6 324.4H512.9V326.8H509.6zM590.7 322.1H594.0V324.4H590.7zM597.2 312.7H600.4V315.1H597.2zM600.4 308.0H603.7V310.4H600.4zM606.9 301.0H610.2V303.4H606.9zM610.2 298.7H613.4V301.0H610.2zM613.4 291.7H616.7V294.0H613.4zM613.4 289.3H616.7V291.7H613.4zM616.7 244.8H619.9V247.2H616.7zM616.7 242.5H619.9V244.8H616.7zM616.7 240.1H619.9V242.5H616.7zM616.7 237.8H619.9V240.1H616.7z"/><path fill="#f4d488" stroke="#f4d488" stroke-width="0.5" d="M532.3 354.9H535.6V357.2H532.3zM542.1 352.5H545.3V354.9H542.1zM545.3 345.5H548.6V347.8H545.3zM558.3 345.5H561.5V347.8H558.3zM522.6 343.2H525.8V345.5H522.6zM551.8 343.2H555.0V345.5H551.8zM516.1 340.8H519.4V343.2H516.1zM512.9 338.5H516.1V340.8H512.9zM509.6 333.8H512.9V336.1H509.6zM509.6 331.5H512.9V333.8H509.6zM509.6 329.1H512.9V331.5H509.6zM587.5 326.8H590.7V329.1H587.5zM594.0 317.4H597.2V319.8H594.0zM597.2 315.1H600.4V317.4H597.2zM603.7 305.7H606.9V308.0H603.7zM613.4 296.3H616.7V298.7H613.4zM613.4 294.0H616.7V296.3H613.4zM616.7 254.2H619.9V256.5H616.7zM616.7 251.9H619.9V254.2H616.7zM616.7 249.5H619.9V251.9H616.7zM616.7 247.2H619.9V249.5H616.7zM619.9 223.8H623.2V226.1H619.9zM619.9 221.4H623.2V223.8H619.9zM619.9 219.1H623.2V221.4H619.9zM619.9 217.9H623.2V219.1H619.9z"/><path fill="#f5d78c" stroke="#f5d78c" stroke-width="0.5" d="M561.5 352.5H564.8V354.9H561.5zM538.8 347.8H542.1V350.2H538.8zM551.8 345.5H558.3V347.8H551.8zM568.0 345.5H571.3V347.8H568.0zM516.1 343.2H519.4V345.5H516.1zM525.8 343.2H532.3V345.5H525.8zM512.9 340.8H516.1V343.2H512.9zM571.3 340.8H574.5V343.2H571.3zM509.6 336.1H512.9V338.5H509.6zM584.2 333.8H587.5V336.1H584.2zM590.7 324.4H594.0V326.8H590.7zM594.0 319.8H597.2V322.1H594.0zM600.4 310.4H603.7V312.7H600.4zM603.7 308.0H606.9V310.4H603.7zM606.9 303.4H610.2V305.7H606.9zM610.2 301.0H613.4V303.4H610.2zM616.7 263.6H619.9V265.9H616.7zM616.7 261.2H619.9V263.6H616.7zM616.7 258.9H619.9V261.2H616.7zM616.7 256.5H619.9V258.9H616.7zM619.9 233.1H623.2V235.5H619.9zM619.9 230.8H623.2V233.1H619.9zM619.9 228.4H623.2V230.8H619.9zM619.9 226.1H623.2V228.4H619.9z"/><path fill="#f5da90" stroke="#f5da90" stroke-width="0.5" d="M548.6 354.9H551.8V357.2H548.6zM535.6 347.8H538.8V350.2H535.6zM564.8 347.8H568.0V350.2H564.8zM516.1 345.5H519.4V347.8H516.1zM522.6 345.5H532.3V347.8H522.6zM574.5 340.8H577.7V343.2H574.5zM509.6 338.5H512.9V340.8H509.6zM577.7 338.5H581.0V340.8H577.7zM581.0 336.1H584.2V338.5H581.0zM587.5 329.1H590.7V331.5H587.5zM597.2 317.4H600.4V319.8H597.2zM613.4 298.7H616.7V301.0H613.4zM506.4 296.3H509.6V298.7H506.4zM506.4 294.0H509.6V296.3H506.4zM506.4 291.7H509.6V294.0H506.4zM506.4 289.3H509.6V291.7H506.4zM506.4 287.0H509.6V289.3H506.4zM506.4 284.6H509.6V287.0H506.4zM506.4 282.3H509.6V284.6H506.4zM506.4 279.9H509.6V282.3H506.4zM506.4 277.6H509.6V279.9H506.4zM506.4 275.3H509.6V277.6H506.4zM506.4 272.9H509.6V275.3H506.4zM506.4 270.6H509.6V272.9H506.4zM506.4 268.2H509.6V270.6H506.4zM616.7 268.2H619.9V270.6H616.7zM506.4 265.9H509.6V268.2H506.4zM616.7 265.9H619.9V268.2H616.7zM506.4 263.6H509.6V265.9H506.4zM506.4 261.2H509.6V263.6H506.4zM506.4 258.9H509.6V261.2H506.4zM506.4 256.5H509.6V258.9H506.4zM506.4 254.2H509.6V256.5H506.4zM506.4 251.9H509.6V254.2H506.4zM506.4 249.5H509.6V251.9H506.4zM506.4 247.2H509.6V249.5H506.4zM506.4 244.8H509.6V247.2H506.4zM506.4 242.5H509.6V244.8H506.4zM506.4 240.1H509.6V242.5H506.4zM619.9 240.1H623.2V242.5H619.9zM506.4 237.8H509.6V240.1H506.4zM619.9 237.8H623.2V240.1H619.9zM506.4 235.5H509.6V237.8H506.4zM619.9 235.5H623.2V237.8H619.9zM506.4 233.1H509.6V235.5H506.4zM506.4 230.8H509.6V233.1H506.4zM506.4 228.4H509.6V230.8H506.4zM506.4 226.1H509.6V228.4H506.4zM506.4 223.8H509.6V226.1H506.4zM506.4 221.4H509.6V223.8H506.4zM506.4 219.1H509.6V221.4H506.4zM506.4 217.9H509.6V219.1H506.4zM623.2 217.9H626.4V219.1H623.2z"/><path fill="#f6dc94" stroke="#f6dc94" stroke-width="0.5" d="M519.4 357.2H522.6V359.6H519.4zM545.3 347.8H548.6V350.2H545.3zM558.3 347.8H561.5V350.2H558.3zM512.9 343.2H516.1V345.5H512.9zM571.3 343.2H574.5V345.5H571.3zM509.6 340.8H512.9V343.2H509.6zM590.7 326.8H594.0V329.1H590.7zM506.4 315.1H509.6V317.4H506.4zM506.4 312.7H509.6V315.1H506.4zM600.4 312.7H603.7V315.1H600.4zM506.4 310.4H509.6V312.7H506.4zM603.7 310.4H606.9V312.7H603.7zM506.4 308.0H509.6V310.4H506.4zM506.4 305.7H509.6V308.0H506.4zM606.9 305.7H610.2V308.0H606.9zM506.4 303.4H509.6V305.7H506.4zM610.2 303.4H613.4V305.7H610.2zM506.4 301.0H509.6V303.4H506.4zM506.4 298.7H509.6V301.0H506.4zM616.7 275.3H619.9V277.6H616.7zM616.7 272.9H619.9V275.3H616.7zM616.7 270.6H619.9V272.9H616.7zM619.9 249.5H623.2V251.9H619.9zM619.9 247.2H623.2V249.5H619.9zM619.9 244.8H623.2V247.2H619.9zM619.9 242.5H623.2V244.8H619.9zM623.2 226.1H626.4V228.4H623.2zM623.2 223.8H626.4V226.1H623.2zM623.2 221.4H626.4V223.8H623.2zM623.2 219.1H626.4V221.4H623.2z"/><path fill="#f7de97" stroke="#f7de97" stroke-width="0.5" d="M538.8 350.2H542.1V352.5H538.8zM551.8 347.8H558.3V350.2H551.8zM512.9 345.5H516.1V347.8H512.9zM509.6 343.2H512.9V345.5H509.6zM584.2 336.1H587.5V338.5H584.2zM587.5 331.5H590.7V333.8H587.5zM506.4 324.4H509.6V326.8H506.4zM506.4 322.1H509.6V324.4H506.4zM594.0 322.1H597.2V324.4H594.0zM506.4 319.8H509.6V322.1H506.4zM597.2 319.8H600.4V322.1H597.2zM506.4 317.4H509.6V319.8H506.4zM600.4 315.1H603.7V317.4H600.4zM613.4 301.0H616.7V303.4H613.4zM503.1 296.3H506.4V298.7H503.1zM503.1 294.0H506.4V296.3H503.1zM503.1 291.7H506.4V294.0H503.1zM503.1 289.3H506.4V291.7H503.1zM503.1 287.0H506.4V289.3H503.1zM503.1 284.6H506.4V287.0H503.1zM503.1 282.3H506.4V284.6H503.1zM503.1 279.9H506.4V282.3H503.1zM616.7 279.9H619.9V282.3H616.7zM503.1 277.6H506.4V279.9H503.1zM616.7 277.6H619.9V279.9H616.7zM503.1 275.3H506.4V277.6H503.1zM503.1 272.9H506.4V275.3H503.1zM503.1 270.6H506.4V272.9H503.1zM503.1 268.2H506.4V270.6H503.1zM503.1 265.9H506.4V268.2H503.1zM503.1 263.6H506.4V265.9H503.1zM503.1 261.2H506.4V263.6H503.1zM503.1 258.9H506.4V261.2H503.1zM619.9 258.9H623.2V261.2H619.9zM503.1 256.5H506.4V258.9H503.1zM619.9 256.5H623.2V258.9H619.9zM503.1 254.2H506.4V256.5H503.1zM619.9 254.2H623.2V256.5H619.9zM503.1 251.9H506.4V254.2H503.1zM619.9 251.9H623.2V254.2H619.9zM503.1 249.5H506.4V251.9H503.1zM503.1 247.2H506.4V249.5H503.1zM503.1 244.8H506.4V247.2H503.1zM503.1 242.5H506.4V244.8H503.1zM503.1 240.1H506.4V242.5H503.1zM503.1 237.8H506.4V240.1H503.1zM503.1 235.5H506.4V237.8H503.1zM503.1 233.1H506.4V235.5H503.1zM623.2 233.1H626.4V235.5H623.2zM503.1 230.8H506.4V233.1H503.1zM623.2 230.8H626.4V233.1H623.2zM503.1 228.4H506.4V230.8H503.1zM623.2 228.4H626.4V230.8H623.2zM503.1 226.1H506.4V228.4H503.1zM503.1 223.8H506.4V226.1H503.1zM503.1 221.4H506.4V223.8H503.1zM503.1 219.1H506.4V221.4H503.1zM503.1 217.9H506.4V219.1H503.1z"/><path fill="#f7e19b" stroke="#f7e19b" stroke-width="0.5" d="M532.3 357.2H535.6V359.6H532.3zM542.1 354.9H545.3V357.2H542.1zM535.6 350.2H538.8V352.5H535.6zM516.1 347.8H519.4V350.2H516.1zM522.6 347.8H532.3V350.2H522.6zM568.0 347.8H571.3V350.2H568.0zM509.6 345.5H512.9V347.8H509.6zM574.5 343.2H577.7V345.5H574.5zM577.7 340.8H581.0V343.2H577.7zM581.0 338.5H584.2V340.8H581.0zM506.4 333.8H509.6V336.1H506.4zM506.4 331.5H509.6V333.8H506.4zM506.4 329.1H509.6V331.5H506.4zM590.7 329.1H594.0V331.5H590.7zM506.4 326.8H509.6V329.1H506.4zM503.1 315.1H506.4V317.4H503.1zM503.1 312.7H506.4V315.1H503.1zM603.7 312.7H606.9V315.1H603.7zM503.1 310.4H506.4V312.7H503.1zM503.1 308.0H506.4V310.4H503.1zM606.9 308.0H610.2V310.4H606.9zM503.1 305.7H506.4V308.0H503.1zM610.2 305.7H613.4V308.0H610.2zM503.1 303.4H506.4V305.7H503.1zM503.1 301.0H506.4V303.4H503.1zM503.1 298.7H506.4V301.0H503.1zM616.7 287.0H619.9V289.3H616.7zM616.7 284.6H619.9V287.0H616.7zM616.7 282.3H619.9V284.6H616.7zM619.9 265.9H623.2V268.2H619.9zM619.9 263.6H623.2V265.9H619.9zM619.9 261.2H623.2V263.6H619.9zM623.2 240.1H626.4V242.5H623.2zM623.2 237.8H626.4V240.1H623.2zM623.2 235.5H626.4V237.8H623.2zM626.4 219.1H629.6V221.4H626.4zM626.4 217.9H629.6V219.1H626.4z"/><path fill="#f8e49f" stroke="#f8e49f" stroke-width="0.5" d="M545.3 350.2H548.6V352.5H545.3zM564.8 350.2H568.0V352.5H564.8zM512.9 347.8H516.1V350.2H512.9zM571.3 345.5H574.5V347.8H571.3zM506.4 336.1H509.6V338.5H506.4zM587.5 333.8H590.7V336.1H587.5zM503.1 329.1H506.4V331.5H503.1zM503.1 326.8H506.4V329.1H503.1zM503.1 324.4H506.4V326.8H503.1zM594.0 324.4H597.2V326.8H594.0zM503.1 322.1H506.4V324.4H503.1zM597.2 322.1H600.4V324.4H597.2zM503.1 319.8H506.4V322.1H503.1zM503.1 317.4H506.4V319.8H503.1zM600.4 317.4H603.7V319.8H600.4zM613.4 303.4H616.7V305.7H613.4zM616.7 294.0H619.9V296.3H616.7zM616.7 291.7H619.9V294.0H616.7zM616.7 289.3H619.9V291.7H616.7zM619.9 270.6H623.2V272.9H619.9zM619.9 268.2H623.2V270.6H619.9zM623.2 249.5H626.4V251.9H623.2zM623.2 247.2H626.4V249.5H623.2zM623.2 244.8H626.4V247.2H623.2zM623.2 242.5H626.4V244.8H623.2zM626.4 226.1H629.6V228.4H626.4zM626.4 223.8H629.6V226.1H626.4zM626.4 221.4H629.6V223.8H626.4z"/><path fill="#f9e6a2" stroke="#f9e6a2" stroke-width="0.5" d="M538.8 352.5H542.1V354.9H538.8zM516.1 350.2H519.4V352.5H516.1zM522.6 350.2H525.8V352.5H522.6zM551.8 350.2H561.5V352.5H551.8zM509.6 347.8H512.9V350.2H509.6zM506.4 338.5H509.6V340.8H506.4zM584.2 338.5H587.5V340.8H584.2zM503.1 333.8H506.4V336.1H503.1zM503.1 331.5H506.4V333.8H503.1zM590.7 331.5H594.0V333.8H590.7zM603.7 315.1H606.9V317.4H603.7zM606.9 310.4H610.2V312.7H606.9zM610.2 308.0H613.4V310.4H610.2zM616.7 296.3H619.9V298.7H616.7zM619.9 275.3H623.2V277.6H619.9zM619.9 272.9H623.2V275.3H619.9zM623.2 256.5H626.4V258.9H623.2zM623.2 254.2H626.4V256.5H623.2zM623.2 251.9H626.4V254.2H623.2zM626.4 233.1H629.6V235.5H626.4zM626.4 230.8H629.6V233.1H626.4zM626.4 228.4H629.6V230.8H626.4zM629.6 221.4H632.9V223.8H629.6zM629.6 219.1H632.9V221.4H629.6zM629.6 217.9H632.9V219.1H629.6z"/><path fill="#f9e8a6" stroke="#f9e8a6" stroke-width="0.5" d="M561.5 354.9H564.8V357.2H561.5zM535.6 352.5H538.8V354.9H535.6zM545.3 352.5H548.6V354.9H545.3zM512.9 350.2H516.1V352.5H512.9zM525.8 350.2H532.3V352.5H525.8zM568.0 350.2H571.3V352.5H568.0zM574.5 345.5H577.7V347.8H574.5zM577.7 343.2H581.0V345.5H577.7zM506.4 340.8H509.6V343.2H506.4zM581.0 340.8H584.2V343.2H581.0zM503.1 338.5H506.4V340.8H503.1zM503.1 336.1H506.4V338.5H503.1zM594.0 326.8H597.2V329.1H594.0zM597.2 324.4H600.4V326.8H597.2zM600.4 319.8H603.7V322.1H600.4zM499.9 305.7H503.1V308.0H499.9zM613.4 305.7H616.7V308.0H613.4zM499.9 303.4H503.1V305.7H499.9zM499.9 301.0H503.1V303.4H499.9zM499.9 298.7H503.1V301.0H499.9zM499.9 296.3H503.1V298.7H499.9zM499.9 294.0H503.1V296.3H499.9zM499.9 291.7H503.1V294.0H499.9zM499.9 289.3H503.1V291.7H499.9zM499.9 287.0H503.1V289.3H499.9zM499.9 284.6H503.1V287.0H499.9zM499.9 282.3H503.1V284.6H499.9zM619.9 282.3H623.2V284.6H619.9zM499.9 279.9H503.1V282.3H499.9zM619.9 279.9H623.2V282.3H619.9zM499.9 277.6H503.1V279.9H499.9zM619.9 277.6H623.2V279.9H619.9zM499.9 275.3H503.1V277.6H499.9zM499.9 272.9H503.1V275.3H499.9zM499.9 270.6H503.1V272.9H499.9zM499.9 268.2H503.1V270.6H499.9zM499.9 265.9H503.1V268.2H499.9zM499.9 263.6H503.1V265.9H499.9zM623.2 263.6H626.4V265.9H623.2zM499.9 261.2H503.1V263.6H499.9zM623.2 261.2H626.4V263.6H623.2zM499.9 258.9H503.1V261.2H499.9zM623.2 258.9H626.4V261.2H623.2zM499.9 256.5H503.1V258.9H499.9zM499.9 254.2H503.1V256.5H499.9zM499.9 251.9H503.1V254.2H499.9zM499.9 249.5H503.1V251.9H499.9zM499.9 247.2H503.1V249.5H499.9zM499.9 244.8H503.1V247.2H499.9zM499.9 242.5H503.1V244.8H499.9zM499.9 240.1H503.1V242.5H499.9zM626.4 240.1H629.6V242.5H626.4zM499.9 237.8H503.1V240.1H499.9zM626.4 237.8H629.6V240.1H626.4zM499.9 235.5H503.1V237.8H499.9zM626.4 235.5H629.6V237.8H626.4zM499.9 233.1H503.1V235.5H499.9zM499.9 230.8H503.1V233.1H499.9zM629.6 230.8H632.9V233.1H629.6zM499.9 228.4H503.1V230.8H499.9zM629.6 228.4H632.9V230.8H629.6zM499.9 226.1H503.1V228.4H499.9zM629.6 226.1H632.9V228.4H629.6zM499.9 223.8H503.1V226.1H499.9zM629.6 223.8H632.9V226.1H629.6zM499.9 221.4H503.1V223.8H499.9zM499.9 219.1H503.1V221.4H499.9zM499.9 217.9H503.1V219.1H499.9z"/><path fill="#faebaa" stroke="#faebaa" stroke-width="0.5" d="M542.1 357.2H545.3V359.6H542.1zM548.6 357.2H551.8V359.6H548.6zM516.1 352.5H519.4V354.9H516.1zM551.8 352.5H555.0V354.9H551.8zM509.6 350.2H512.9V352.5H509.6zM506.4 343.2H509.6V345.5H506.4zM503.1 340.8H506.4V343.2H503.1zM587.5 336.1H590.7V338.5H587.5zM590.7 333.8H594.0V336.1H590.7zM499.9 322.1H503.1V324.4H499.9zM499.9 319.8H503.1V322.1H499.9zM499.9 317.4H503.1V319.8H499.9zM603.7 317.4H606.9V319.8H603.7zM499.9 315.1H503.1V317.4H499.9zM499.9 312.7H503.1V315.1H499.9zM606.9 312.7H610.2V315.1H606.9zM499.9 310.4H503.1V312.7H499.9zM610.2 310.4H613.4V312.7H610.2zM499.9 308.0H503.1V310.4H499.9zM616.7 298.7H619.9V301.0H616.7zM619.9 287.0H623.2V289.3H619.9zM619.9 284.6H623.2V287.0H619.9zM623.2 268.2H626.4V270.6H623.2zM623.2 265.9H626.4V268.2H623.2zM626.4 247.2H629.6V249.5H626.4zM626.4 244.8H629.6V247.2H626.4zM626.4 242.5H629.6V244.8H626.4zM629.6 237.8H632.9V240.1H629.6zM629.6 235.5H632.9V237.8H629.6zM629.6 233.1H632.9V235.5H629.6zM632.9 217.9H636.1V219.1H632.9z"/><path fill="#faecae" stroke="#faecae" stroke-width="0.5" d="M512.9 352.5H516.1V354.9H512.9zM522.6 352.5H525.8V354.9H522.6zM555.0 352.5H561.5V354.9H555.0zM564.8 352.5H568.0V354.9H564.8zM571.3 347.8H574.5V350.2H571.3zM503.1 345.5H509.6V347.8H503.1zM503.1 343.2H506.4V345.5H503.1zM499.9 333.8H503.1V336.1H499.9zM499.9 331.5H503.1V333.8H499.9zM499.9 329.1H503.1V331.5H499.9zM594.0 329.1H597.2V331.5H594.0zM499.9 326.8H503.1V329.1H499.9zM597.2 326.8H600.4V329.1H597.2zM499.9 324.4H503.1V326.8H499.9zM600.4 322.1H603.7V324.4H600.4zM613.4 308.0H616.7V310.4H613.4zM619.9 294.0H623.2V296.3H619.9zM619.9 291.7H623.2V294.0H619.9zM619.9 289.3H623.2V291.7H619.9zM623.2 272.9H626.4V275.3H623.2zM623.2 270.6H626.4V272.9H623.2zM626.4 256.5H629.6V258.9H626.4zM626.4 254.2H629.6V256.5H626.4zM626.4 251.9H629.6V254.2H626.4zM626.4 249.5H629.6V251.9H626.4zM629.6 244.8H632.9V247.2H629.6zM629.6 242.5H632.9V244.8H629.6zM629.6 240.1H632.9V242.5H629.6zM632.9 223.8H636.1V226.1H632.9zM632.9 221.4H636.1V223.8H632.9zM632.9 219.1H636.1V221.4H632.9z"/><path fill="#f9eeb2" stroke="#f9eeb2" stroke-width="0.5" d="M509.6 352.5H512.9V354.9H509.6zM525.8 352.5H532.3V354.9H525.8zM574.5 347.8H577.7V350.2H574.5zM584.2 340.8H587.5V343.2H584.2zM499.9 336.1H503.1V338.5H499.9zM603.7 319.8H606.9V322.1H603.7zM606.9 315.1H610.2V317.4H606.9zM610.2 312.7H613.4V315.1H610.2zM616.7 301.0H619.9V303.4H616.7zM619.9 296.3H623.2V298.7H619.9zM623.2 279.9H626.4V282.3H623.2zM623.2 277.6H626.4V279.9H623.2zM623.2 275.3H626.4V277.6H623.2zM626.4 261.2H629.6V263.6H626.4zM626.4 258.9H629.6V261.2H626.4zM629.6 251.9H632.9V254.2H629.6zM629.6 249.5H632.9V251.9H629.6zM629.6 247.2H632.9V249.5H629.6zM632.9 230.8H636.1V233.1H632.9zM632.9 228.4H636.1V230.8H632.9zM632.9 226.1H636.1V228.4H632.9z"/><path fill="#f9efb6" stroke="#f9efb6" stroke-width="0.5" d="M516.1 354.9H519.4V357.2H516.1zM538.8 354.9H542.1V357.2H538.8zM568.0 352.5H571.3V354.9H568.0zM503.1 347.8H509.6V350.2H503.1zM577.7 345.5H581.0V347.8H577.7zM581.0 343.2H584.2V345.5H581.0zM499.9 338.5H503.1V340.8H499.9zM594.0 331.5H597.2V333.8H594.0zM597.2 329.1H600.4V331.5H597.2zM600.4 324.4H603.7V326.8H600.4zM613.4 310.4H616.7V312.7H613.4zM623.2 284.6H626.4V287.0H623.2zM623.2 282.3H626.4V284.6H623.2zM626.4 265.9H629.6V268.2H626.4zM626.4 263.6H629.6V265.9H626.4zM629.6 258.9H632.9V261.2H629.6zM629.6 256.5H632.9V258.9H629.6zM629.6 254.2H632.9V256.5H629.6zM632.9 237.8H636.1V240.1H632.9zM632.9 235.5H636.1V237.8H632.9zM632.9 233.1H636.1V235.5H632.9z"/><path fill="#f9f0bb" stroke="#f9f0bb" stroke-width="0.5" d="M522.6 354.9H525.8V357.2H522.6zM535.6 354.9H538.8V357.2H535.6zM499.9 343.2H503.1V345.5H499.9zM499.9 340.8H503.1V343.2H499.9zM587.5 338.5H590.7V340.8H587.5zM590.7 336.1H594.0V338.5H590.7zM603.7 322.1H606.9V324.4H603.7zM606.9 317.4H610.2V319.8H606.9zM610.2 315.1H613.4V317.4H610.2zM616.7 303.4H619.9V305.7H616.7zM619.9 298.7H623.2V301.0H619.9zM623.2 289.3H626.4V291.7H623.2zM623.2 287.0H626.4V289.3H623.2zM626.4 272.9H629.6V275.3H626.4zM626.4 270.6H629.6V272.9H626.4zM626.4 268.2H629.6V270.6H626.4zM629.6 263.6H632.9V265.9H629.6zM629.6 261.2H632.9V263.6H629.6zM632.9 244.8H636.1V247.2H632.9zM632.9 242.5H636.1V244.8H632.9zM632.9 240.1H636.1V242.5H632.9zM636.1 219.1H639.4V221.4H636.1zM636.1 217.9H639.4V219.1H636.1z"/><path fill="#f8f1bf" stroke="#f8f1bf" stroke-width="0.5" d="M512.9 354.9H516.1V357.2H512.9zM525.8 354.9H532.3V357.2H525.8zM545.3 354.9H548.6V357.2H545.3zM503.1 350.2H509.6V352.5H503.1zM571.3 350.2H574.5V352.5H571.3zM499.9 345.5H503.1V347.8H499.9zM584.2 343.2H587.5V345.5H584.2zM600.4 326.8H603.7V329.1H600.4zM613.4 312.7H616.7V315.1H613.4zM623.2 294.0H626.4V296.3H623.2zM623.2 291.7H626.4V294.0H623.2zM626.4 277.6H629.6V279.9H626.4zM626.4 275.3H629.6V277.6H626.4zM629.6 268.2H632.9V270.6H629.6zM629.6 265.9H632.9V268.2H629.6zM632.9 254.2H636.1V256.5H632.9zM632.9 251.9H636.1V254.2H632.9zM632.9 249.5H636.1V251.9H632.9zM632.9 247.2H636.1V249.5H632.9zM636.1 228.4H639.4V230.8H636.1zM636.1 226.1H639.4V228.4H636.1zM636.1 223.8H639.4V226.1H636.1zM636.1 221.4H639.4V223.8H636.1zM639.4 219.1H642.6V221.4H639.4zM639.4 217.9H642.6V219.1H639.4z"/><path fill="#f8f2c3" stroke="#f8f2c3" stroke-width="0.5" d="M516.1 357.2H519.4V359.6H516.1zM561.5 357.2H564.8V359.6H561.5zM551.8 354.9H555.0V357.2H551.8zM574.5 350.2H577.7V352.5H574.5zM577.7 347.8H581.0V350.2H577.7zM581.0 345.5H584.2V347.8H581.0zM594.0 333.8H597.2V336.1H594.0zM597.2 331.5H600.4V333.8H597.2zM603.7 324.4H606.9V326.8H603.7zM606.9 319.8H610.2V322.1H606.9zM610.2 317.4H613.4V319.8H610.2zM616.7 305.7H619.9V308.0H616.7zM619.9 301.0H623.2V303.4H619.9zM623.2 296.3H626.4V298.7H623.2zM626.4 282.3H629.6V284.6H626.4zM626.4 279.9H629.6V282.3H626.4zM629.6 275.3H632.9V277.6H629.6zM629.6 272.9H632.9V275.3H629.6zM629.6 270.6H632.9V272.9H629.6zM632.9 261.2H636.1V263.6H632.9zM632.9 258.9H636.1V261.2H632.9zM632.9 256.5H636.1V258.9H632.9zM636.1 235.5H639.4V237.8H636.1zM636.1 233.1H639.4V235.5H636.1zM636.1 230.8H639.4V233.1H636.1zM639.4 226.1H642.6V228.4H639.4zM639.4 223.8H642.6V226.1H639.4zM639.4 221.4H642.6V223.8H639.4z"/><path fill="#f8f4c7" stroke="#f8f4c7" stroke-width="0.5" d="M522.6 357.2H525.8V359.6H522.6zM509.6 354.9H512.9V357.2H509.6zM555.0 354.9H561.5V357.2H555.0zM503.1 352.5H509.6V354.9H503.1zM499.9 347.8H503.1V350.2H499.9zM587.5 340.8H590.7V343.2H587.5zM590.7 338.5H594.0V340.8H590.7zM613.4 315.1H616.7V317.4H613.4zM623.2 298.7H626.4V301.0H623.2zM626.4 287.0H629.6V289.3H626.4zM626.4 284.6H629.6V287.0H626.4zM629.6 279.9H632.9V282.3H629.6zM629.6 277.6H632.9V279.9H629.6zM632.9 265.9H636.1V268.2H632.9zM632.9 263.6H636.1V265.9H632.9zM636.1 242.5H639.4V244.8H636.1zM636.1 240.1H639.4V242.5H636.1zM636.1 237.8H639.4V240.1H636.1zM639.4 233.1H642.6V235.5H639.4zM639.4 230.8H642.6V233.1H639.4zM639.4 228.4H642.6V230.8H639.4z"/><path fill="#f7f5cb" stroke="#f7f5cb" stroke-width="0.5" d="M525.8 357.2H532.3V359.6H525.8zM564.8 354.9H568.0V357.2H564.8zM571.3 352.5H574.5V354.9H571.3zM584.2 345.5H587.5V347.8H584.2zM597.2 333.8H600.4V336.1H597.2zM600.4 329.1H603.7V331.5H600.4zM603.7 326.8H606.9V329.1H603.7zM606.9 322.1H610.2V324.4H606.9zM610.2 319.8H613.4V322.1H610.2zM616.7 308.0H619.9V310.4H616.7zM619.9 303.4H623.2V305.7H619.9zM626.4 291.7H629.6V294.0H626.4zM626.4 289.3H629.6V291.7H626.4zM629.6 284.6H632.9V287.0H629.6zM629.6 282.3H632.9V284.6H629.6zM632.9 270.6H636.1V272.9H632.9zM632.9 268.2H636.1V270.6H632.9zM636.1 249.5H639.4V251.9H636.1zM636.1 247.2H639.4V249.5H636.1zM636.1 244.8H639.4V247.2H636.1zM639.4 240.1H642.6V242.5H639.4zM639.4 237.8H642.6V240.1H639.4zM639.4 235.5H642.6V237.8H639.4z"/><path fill="#f7f6d0" stroke="#f7f6d0" stroke-width="0.5" d="M512.9 357.2H516.1V359.6H512.9zM535.6 357.2H542.1V359.6H535.6zM574.5 352.5H577.7V354.9H574.5zM577.7 350.2H581.0V352.5H577.7zM581.0 347.8H584.2V350.2H581.0zM594.0 336.1H597.2V338.5H594.0zM613.4 317.4H616.7V319.8H613.4zM623.2 301.0H626.4V303.4H623.2zM626.4 296.3H629.6V298.7H626.4zM626.4 294.0H629.6V296.3H626.4zM629.6 289.3H632.9V291.7H629.6zM629.6 287.0H632.9V289.3H629.6zM632.9 275.3H636.1V277.6H632.9zM632.9 272.9H636.1V275.3H632.9zM636.1 256.5H639.4V258.9H636.1zM636.1 254.2H639.4V256.5H636.1zM636.1 251.9H639.4V254.2H636.1zM639.4 247.2H642.6V249.5H639.4zM639.4 244.8H642.6V247.2H639.4zM639.4 242.5H642.6V244.8H639.4z"/><path fill="#f7f8d4" stroke="#f7f8d4" stroke-width="0.5" d="M545.3 357.2H548.6V359.6H545.3zM499.9 350.2H503.1V352.5H499.9zM587.5 343.2H590.7V345.5H587.5zM590.7 340.8H594.0V343.2H590.7zM600.4 331.5H603.7V333.8H600.4zM603.7 329.1H606.9V331.5H603.7zM606.9 324.4H610.2V326.8H606.9zM610.2 322.1H613.4V324.4H610.2zM616.7 310.4H619.9V312.7H616.7zM619.9 305.7H623.2V308.0H619.9zM629.6 294.0H632.9V296.3H629.6zM629.6 291.7H632.9V294.0H629.6zM632.9 279.9H636.1V282.3H632.9zM632.9 277.6H636.1V279.9H632.9zM636.1 263.6H639.4V265.9H636.1zM636.1 261.2H639.4V263.6H636.1zM636.1 258.9H639.4V261.2H636.1zM639.4 254.2H642.6V256.5H639.4zM639.4 251.9H642.6V254.2H639.4zM639.4 249.5H642.6V251.9H639.4zM642.6 219.1H645.9V221.4H642.6zM642.6 217.9H645.9V219.1H642.6z"/><path fill="#f6f9d8" stroke="#f6f9d8" stroke-width="0.5" d="M551.8 357.2H555.0V359.6H551.8zM506.4 354.9H509.6V357.2H506.4zM568.0 354.9H571.3V357.2H568.0zM597.2 336.1H600.4V338.5H597.2zM613.4 319.8H616.7V322.1H613.4zM623.2 303.4H626.4V305.7H623.2zM626.4 298.7H629.6V301.0H626.4zM629.6 296.3H632.9V298.7H629.6zM632.9 284.6H636.1V287.0H632.9zM632.9 282.3H636.1V284.6H632.9zM636.1 268.2H639.4V270.6H636.1zM636.1 265.9H639.4V268.2H636.1zM639.4 261.2H642.6V263.6H639.4zM639.4 258.9H642.6V261.2H639.4zM639.4 256.5H642.6V258.9H639.4zM642.6 226.1H645.9V228.4H642.6zM642.6 223.8H645.9V226.1H642.6zM642.6 221.4H649.1V223.8H642.6zM645.9 219.1H649.1V221.4H645.9zM645.9 217.9H649.1V219.1H645.9z"/><path fill="#f6fadc" stroke="#f6fadc" stroke-width="0.5" d="M519.4 359.6H522.6V361.9H519.4zM509.6 357.2H512.9V359.6H509.6zM499.9 352.5H503.1V354.9H499.9zM581.0 350.2H584.2V352.5H581.0zM584.2 347.8H587.5V350.2H584.2zM594.0 338.5H597.2V340.8H594.0zM600.4 333.8H603.7V336.1H600.4zM606.9 326.8H610.2V329.1H606.9zM616.7 312.7H619.9V315.1H616.7zM619.9 308.0H623.2V310.4H619.9zM632.9 289.3H636.1V291.7H632.9zM632.9 287.0H636.1V289.3H632.9zM636.1 272.9H639.4V275.3H636.1zM636.1 270.6H639.4V272.9H636.1zM639.4 265.9H642.6V268.2H639.4zM639.4 263.6H642.6V265.9H639.4zM642.6 230.8H645.9V233.1H642.6zM642.6 228.4H649.1V230.8H642.6zM645.9 226.1H649.1V228.4H645.9zM645.9 223.8H649.1V226.1H645.9z"/><path fill="#f3fadf" stroke="#f3fadf" stroke-width="0.5" d="M555.0 357.2H558.3V359.6H555.0zM503.1 354.9H506.4V357.2H503.1zM577.7 352.5H581.0V354.9H577.7zM587.5 345.5H590.7V347.8H587.5zM590.7 343.2H594.0V345.5H590.7zM603.7 331.5H606.9V333.8H603.7zM610.2 324.4H613.4V326.8H610.2zM613.4 322.1H616.7V324.4H613.4zM623.2 305.7H626.4V308.0H623.2zM626.4 301.0H629.6V303.4H626.4zM629.6 298.7H632.9V301.0H629.6zM632.9 294.0H636.1V296.3H632.9zM632.9 291.7H636.1V294.0H632.9zM636.1 277.6H639.4V279.9H636.1zM636.1 275.3H639.4V277.6H636.1zM639.4 270.6H642.6V272.9H639.4zM639.4 268.2H642.6V270.6H639.4zM642.6 237.8H645.9V240.1H642.6zM642.6 235.5H645.9V237.8H642.6zM642.6 233.1H649.1V235.5H642.6zM645.9 230.8H649.1V233.1H645.9z"/><path fill="#effae1" stroke="#effae1" stroke-width="0.5" d="M558.3 357.2H561.5V359.6H558.3zM597.2 338.5H600.4V340.8H597.2zM616.7 315.1H619.9V317.4H616.7zM619.9 310.4H623.2V312.7H619.9zM629.6 301.0H632.9V303.4H629.6zM632.9 296.3H636.1V298.7H632.9zM636.1 282.3H639.4V284.6H636.1zM636.1 279.9H639.4V282.3H636.1zM639.4 275.3H642.6V277.6H639.4zM639.4 272.9H642.6V275.3H639.4zM642.6 244.8H645.9V247.2H642.6zM642.6 242.5H645.9V244.8H642.6zM642.6 240.1H649.1V242.5H642.6zM645.9 237.8H649.1V240.1H645.9zM645.9 235.5H649.1V237.8H645.9z"/><path fill="#ecf9e4" stroke="#ecf9e4" stroke-width="0.5" d="M532.3 359.6H535.6V361.9H532.3zM506.4 357.2H509.6V359.6H506.4zM571.3 354.9H574.5V357.2H571.3zM584.2 350.2H587.5V352.5H584.2zM594.0 340.8H597.2V343.2H594.0zM600.4 336.1H603.7V338.5H600.4zM603.7 333.8H606.9V336.1H603.7zM606.9 329.1H610.2V331.5H606.9zM610.2 326.8H613.4V329.1H610.2zM623.2 308.0H626.4V310.4H623.2zM626.4 303.4H629.6V305.7H626.4zM632.9 298.7H636.1V301.0H632.9zM636.1 287.0H639.4V289.3H636.1zM636.1 284.6H639.4V287.0H636.1zM639.4 279.9H642.6V282.3H639.4zM639.4 277.6H642.6V279.9H639.4zM642.6 251.9H645.9V254.2H642.6zM642.6 249.5H645.9V251.9H642.6zM642.6 247.2H649.1V249.5H642.6zM645.9 244.8H649.1V247.2H645.9zM645.9 242.5H649.1V244.8H645.9z"/><path fill="#e8f9e7" stroke="#e8f9e7" stroke-width="0.5" d="M564.8 357.2H568.0V359.6H564.8zM581.0 352.5H584.2V354.9H581.0zM590.7 345.5H594.0V347.8H590.7zM613.4 324.4H616.7V326.8H613.4zM616.7 317.4H619.9V319.8H616.7zM619.9 312.7H623.2V315.1H619.9zM626.4 305.7H629.6V308.0H626.4zM629.6 303.4H632.9V305.7H629.6zM636.1 291.7H639.4V294.0H636.1zM636.1 289.3H639.4V291.7H636.1zM639.4 284.6H642.6V287.0H639.4zM639.4 282.3H642.6V284.6H639.4zM642.6 258.9H645.9V261.2H642.6zM642.6 256.5H645.9V258.9H642.6zM642.6 254.2H649.1V256.5H642.6zM645.9 251.9H649.1V254.2H645.9zM645.9 249.5H649.1V251.9H645.9z"/><path fill="#e5f9e9" stroke="#e5f9e9" stroke-width="0.5" d="M542.1 359.6H545.3V361.9H542.1zM548.6 359.6H551.8V361.9H548.6zM499.9 354.9H503.1V357.2H499.9zM574.5 354.9H577.7V357.2H574.5zM587.5 347.8H590.7V350.2H587.5zM597.2 340.8H600.4V343.2H597.2zM606.9 331.5H610.2V333.8H606.9zM610.2 329.1H613.4V331.5H610.2zM623.2 310.4H626.4V312.7H623.2zM632.9 301.0H636.1V303.4H632.9zM636.1 296.3H639.4V298.7H636.1zM636.1 294.0H639.4V296.3H636.1zM639.4 289.3H642.6V291.7H639.4zM639.4 287.0H642.6V289.3H639.4zM642.6 263.6H645.9V265.9H642.6zM642.6 261.2H645.9V263.6H642.6zM645.9 258.9H649.1V261.2H645.9zM645.9 256.5H649.1V258.9H645.9z"/><path fill="#e1f8ec" stroke="#e1f8ec" stroke-width="0.5" d="M516.1 359.6H519.4V361.9H516.1zM503.1 357.2H506.4V359.6H503.1zM594.0 343.2H597.2V345.5H594.0zM600.4 338.5H603.7V340.8H600.4zM603.7 336.1H606.9V338.5H603.7zM613.4 326.8H616.7V329.1H613.4zM616.7 319.8H619.9V322.1H616.7zM619.9 315.1H623.2V317.4H619.9zM626.4 308.0H629.6V310.4H626.4zM629.6 305.7H632.9V308.0H629.6zM639.4 294.0H642.6V296.3H639.4zM639.4 291.7H642.6V294.0H639.4zM642.6 268.2H645.9V270.6H642.6zM642.6 265.9H645.9V268.2H642.6zM645.9 263.6H649.1V265.9H645.9zM645.9 261.2H649.1V263.6H645.9z"/><path fill="#def8ef" stroke="#def8ef" stroke-width="0.5" d="M522.6 359.6H525.8V361.9H522.6zM568.0 357.2H571.3V359.6H568.0zM584.2 352.5H587.5V354.9H584.2zM606.9 333.8H610.2V336.1H606.9zM610.2 331.5H613.4V333.8H610.2zM623.2 312.7H626.4V315.1H623.2zM629.6 308.0H632.9V310.4H629.6zM632.9 303.4H636.1V305.7H632.9zM636.1 298.7H639.4V301.0H636.1zM639.4 296.3H642.6V298.7H639.4zM642.6 272.9H645.9V275.3H642.6zM642.6 270.6H649.1V272.9H642.6zM645.9 268.2H649.1V270.6H645.9zM645.9 265.9H649.1V268.2H645.9z"/><path fill="#dbf8f1" stroke="#dbf8f1" stroke-width="0.5" d="M512.9 359.6H516.1V361.9H512.9zM525.8 359.6H532.3V361.9H525.8zM577.7 354.9H581.0V357.2H577.7zM590.7 347.8H594.0V350.2H590.7zM597.2 343.2H600.4V345.5H597.2zM613.4 329.1H616.7V331.5H613.4zM616.7 322.1H619.9V324.4H616.7zM619.9 317.4H623.2V319.8H619.9zM626.4 310.4H629.6V312.7H626.4zM632.9 305.7H636.1V308.0H632.9zM636.1 301.0H639.4V303.4H636.1zM639.4 298.7H642.6V301.0H639.4zM642.6 277.6H645.9V279.9H642.6zM642.6 275.3H649.1V277.6H642.6zM645.9 272.9H649.1V275.3H645.9z"/><path fill="#d7f8f4" stroke="#d7f8f4" stroke-width="0.5" d="M535.6 359.6H538.8V361.9H535.6zM561.5 359.6H564.8V361.9H561.5zM587.5 350.2H590.7V352.5H587.5zM594.0 345.5H597.2V347.8H594.0zM600.4 340.8H603.7V343.2H600.4zM603.7 338.5H606.9V340.8H603.7zM610.2 333.8H613.4V336.1H610.2zM623.2 315.1H626.4V317.4H623.2zM629.6 310.4H632.9V312.7H629.6zM639.4 301.0H642.6V303.4H639.4zM642.6 282.3H645.9V284.6H642.6zM642.6 279.9H649.1V282.3H642.6zM645.9 277.6H649.1V279.9H645.9z"/><path fill="#d4f8f7" stroke="#d4f8f7" stroke-width="0.5" d="M509.6 359.6H512.9V361.9H509.6zM538.8 359.6H542.1V361.9H538.8zM545.3 359.6H548.6V361.9H545.3zM551.8 359.6H555.0V361.9H551.8zM499.9 357.2H503.1V359.6H499.9zM606.9 336.1H610.2V338.5H606.9zM613.4 331.5H616.7V333.8H613.4zM619.9 319.8H623.2V322.1H619.9zM626.4 312.7H629.6V315.1H626.4zM632.9 308.0H636.1V310.4H632.9zM636.1 303.4H639.4V305.7H636.1zM642.6 287.0H645.9V289.3H642.6zM642.6 284.6H649.1V287.0H642.6zM645.9 282.3H649.1V284.6H645.9z"/><path fill="#d0f7f9" stroke="#d0f7f9" stroke-width="0.5" d="M555.0 359.6H558.3V361.9H555.0zM571.3 357.2H574.5V359.6H571.3zM597.2 345.5H600.4V347.8H597.2zM616.7 324.4H619.9V326.8H616.7zM623.2 317.4H626.4V319.8H623.2zM629.6 312.7H632.9V315.1H629.6zM642.6 294.0H645.9V296.3H642.6zM642.6 291.7H645.9V294.0H642.6zM642.6 289.3H649.1V291.7H642.6zM645.9 287.0H649.1V289.3H645.9z"/><path fill="#cdf7fc" stroke="#cdf7fc" stroke-width="0.5" d="M506.4 359.6H509.6V361.9H506.4zM558.3 359.6H561.5V361.9H558.3zM581.0 354.9H584.2V357.2H581.0zM594.0 347.8H597.2V350.2H594.0zM600.4 343.2H603.7V345.5H600.4zM603.7 340.8H606.9V343.2H603.7zM606.9 338.5H610.2V340.8H606.9zM610.2 336.1H613.4V338.5H610.2zM619.9 324.4H623.2V326.8H619.9zM619.9 322.1H623.2V324.4H619.9zM626.4 315.1H629.6V317.4H626.4zM636.1 305.7H639.4V308.0H636.1zM642.6 298.7H645.9V301.0H642.6zM642.6 296.3H645.9V298.7H642.6zM645.9 291.7H649.1V294.0H645.9z"/><path fill="#caf5fc" stroke="#caf5fc" stroke-width="0.5" d="M574.5 357.2H577.7V359.6H574.5zM587.5 352.5H590.7V354.9H587.5zM590.7 350.2H594.0V352.5H590.7zM613.4 333.8H616.7V336.1H613.4zM616.7 329.1H619.9V331.5H616.7zM616.7 326.8H619.9V329.1H616.7zM623.2 322.1H626.4V324.4H623.2zM623.2 319.8H626.4V322.1H623.2zM626.4 317.4H629.6V319.8H626.4zM629.6 315.1H632.9V317.4H629.6zM632.9 310.4H636.1V312.7H632.9zM639.4 303.4H642.6V305.7H639.4zM645.9 296.3H649.1V298.7H645.9zM645.9 294.0H649.1V296.3H645.9z"/><path fill="#c6f3fb" stroke="#c6f3fb" stroke-width="0.5" d="M503.1 359.6H506.4V361.9H503.1zM564.8 359.6H568.0V361.9H564.8zM619.9 326.8H623.2V329.1H619.9zM626.4 319.8H629.6V322.1H626.4zM632.9 312.7H636.1V315.1H632.9zM636.1 308.0H639.4V310.4H636.1zM639.4 305.7H642.6V308.0H639.4zM642.6 301.0H645.9V303.4H642.6zM645.9 298.7H649.1V301.0H645.9z"/><path fill="#c3f1fb" stroke="#c3f1fb" stroke-width="0.5" d="M597.2 347.8H600.4V350.2H597.2zM600.4 345.5H603.7V347.8H600.4zM603.7 343.2H606.9V345.5H603.7zM606.9 340.8H610.2V343.2H606.9zM610.2 338.5H613.4V340.8H610.2zM616.7 331.5H619.9V333.8H616.7zM623.2 324.4H626.4V326.8H623.2zM629.6 317.4H632.9V319.8H629.6zM636.1 310.4H639.4V312.7H636.1zM642.6 303.4H645.9V305.7H642.6z"/><path fill="#c0effb" stroke="#c0effb" stroke-width="0.5" d="M577.7 357.2H581.0V359.6H577.7zM584.2 354.9H587.5V357.2H584.2zM594.0 350.2H597.2V352.5H594.0zM613.4 336.1H616.7V338.5H613.4zM619.9 329.1H623.2V331.5H619.9zM626.4 322.1H629.6V324.4H626.4zM632.9 315.1H636.1V317.4H632.9zM639.4 308.0H642.6V310.4H639.4zM642.6 305.7H645.9V308.0H642.6zM645.9 301.0H649.1V303.4H645.9z"/><path fill="#bcedfa" stroke="#bcedfa" stroke-width="0.5" d="M568.0 359.6H571.3V361.9H568.0zM590.7 352.5H594.0V354.9H590.7zM616.7 333.8H619.9V336.1H616.7zM623.2 326.8H626.4V329.1H623.2zM629.6 319.8H632.9V322.1H629.6zM636.1 312.7H639.4V315.1H636.1zM639.4 310.4H642.6V312.7H639.4zM645.9 303.4H649.1V305.7H645.9z"/><path fill="#b9eafa" stroke="#b9eafa" stroke-width="0.5" d="M499.9 359.6H503.1V361.9H499.9zM603.7 345.5H606.9V347.8H603.7zM606.9 343.2H610.2V345.5H606.9zM610.2 340.8H613.4V343.2H610.2zM619.9 331.5H623.2V333.8H619.9zM626.4 324.4H629.6V326.8H626.4zM632.9 317.4H636.1V319.8H632.9zM636.1 315.1H639.4V317.4H636.1zM642.6 308.0H645.9V310.4H642.6zM645.9 305.7H649.1V308.0H645.9z"/><path fill="#b6e8fa" stroke="#b6e8fa" stroke-width="0.5" d="M516.1 361.9H551.8V364.2H516.1zM571.3 359.6H574.5V361.9H571.3zM581.0 357.2H584.2V359.6H581.0zM597.2 350.2H600.4V352.5H597.2zM600.4 347.8H603.7V350.2H600.4zM613.4 338.5H616.7V340.8H613.4zM623.2 329.1H626.4V331.5H623.2zM629.6 322.1H632.9V324.4H629.6zM632.9 319.8H636.1V322.1H632.9zM639.4 312.7H642.6V315.1H639.4zM642.6 310.4H645.9V312.7H642.6zM645.9 308.0H649.1V310.4H645.9z"/><path fill="#b2e6f9" stroke="#b2e6f9" stroke-width="0.5" d="M512.9 361.9H516.1V364.2H512.9zM551.8 361.9H555.0V364.2H551.8zM587.5 354.9H590.7V357.2H587.5zM616.7 336.1H619.9V338.5H616.7zM626.4 326.8H629.6V329.1H626.4zM636.1 317.4H639.4V319.8H636.1zM639.4 315.1H642.6V317.4H639.4zM642.6 312.7H645.9V315.1H642.6z"/><path fill="#afe4f9" stroke="#afe4f9" stroke-width="0.5" d="M555.0 361.9H558.3V364.2H555.0zM594.0 352.5H597.2V354.9H594.0zM606.9 345.5H610.2V347.8H606.9zM610.2 343.2H613.4V345.5H610.2zM619.9 333.8H623.2V336.1H619.9zM623.2 331.5H626.4V333.8H623.2zM629.6 324.4H632.9V326.8H629.6zM632.9 322.1H636.1V324.4H632.9zM645.9 310.4H649.1V312.7H645.9z"/><path fill="#ace2f9" stroke="#ace2f9" stroke-width="0.5" d="M509.6 361.9H512.9V364.2H509.6zM558.3 361.9H561.5V364.2H558.3zM574.5 359.6H577.7V361.9H574.5zM600.4 350.2H603.7V352.5H600.4zM603.7 347.8H606.9V350.2H603.7zM613.4 340.8H616.7V343.2H613.4zM616.7 338.5H619.9V340.8H616.7zM626.4 329.1H629.6V331.5H626.4zM629.6 326.8H632.9V329.1H629.6zM636.1 319.8H639.4V322.1H636.1zM639.4 317.4H642.6V319.8H639.4zM642.6 315.1H645.9V317.4H642.6zM645.9 312.7H649.1V315.1H645.9z"/><path fill="#a8e0f8" stroke="#a8e0f8" stroke-width="0.5" d="M506.4 361.9H509.6V364.2H506.4zM561.5 361.9H564.8V364.2H561.5zM584.2 357.2H587.5V359.6H584.2zM590.7 354.9H594.0V357.2H590.7zM597.2 352.5H600.4V354.9H597.2zM619.9 336.1H623.2V338.5H619.9zM632.9 324.4H636.1V326.8H632.9zM636.1 322.1H639.4V324.4H636.1zM639.4 319.8H642.6V322.1H639.4zM642.6 317.4H645.9V319.8H642.6zM645.9 315.1H649.1V317.4H645.9z"/><path fill="#a5def8" stroke="#a5def8" stroke-width="0.5" d="M503.1 361.9H506.4V364.2H503.1zM564.8 361.9H568.0V364.2H564.8zM577.7 359.6H581.0V361.9H577.7zM606.9 347.8H610.2V350.2H606.9zM610.2 345.5H613.4V347.8H610.2zM613.4 343.2H616.7V345.5H613.4zM623.2 333.8H626.4V336.1H623.2zM626.4 331.5H629.6V333.8H626.4zM629.6 329.1H632.9V331.5H629.6zM632.9 326.8H636.1V329.1H632.9zM642.6 319.8H645.9V322.1H642.6zM645.9 317.4H649.1V319.8H645.9z"/><path fill="#a2daf7" stroke="#a2daf7" stroke-width="0.5" d="M568.0 361.9H571.3V364.2H568.0zM603.7 350.2H606.9V352.5H603.7zM616.7 340.8H619.9V343.2H616.7zM619.9 338.5H623.2V340.8H619.9zM636.1 324.4H639.4V326.8H636.1zM639.4 322.1H642.6V324.4H639.4z"/><path fill="#9ed7f7" stroke="#9ed7f7" stroke-width="0.5" d="M499.9 361.9H503.1V364.2H499.9zM581.0 359.6H584.2V361.9H581.0zM587.5 357.2H590.7V359.6H587.5zM600.4 352.5H603.7V354.9H600.4zM623.2 336.1H626.4V338.5H623.2zM626.4 333.8H629.6V336.1H626.4zM629.6 331.5H632.9V333.8H629.6zM632.9 329.1H636.1V331.5H632.9zM636.1 326.8H639.4V329.1H636.1zM639.4 324.4H642.6V326.8H639.4zM642.6 322.1H645.9V324.4H642.6zM645.9 319.8H649.1V322.1H645.9z"/><path fill="#9bd4f6" stroke="#9bd4f6" stroke-width="0.5" d="M571.3 361.9H574.5V364.2H571.3zM594.0 354.9H597.2V357.2H594.0zM610.2 347.8H613.4V350.2H610.2zM613.4 345.5H616.7V347.8H613.4zM616.7 343.2H619.9V345.5H616.7zM642.6 324.4H645.9V326.8H642.6zM645.9 322.1H649.1V324.4H645.9z"/><path fill="#98d0f5" stroke="#98d0f5" stroke-width="0.5" d="M574.5 361.9H577.7V364.2H574.5zM606.9 350.2H610.2V352.5H606.9zM619.9 340.8H623.2V343.2H619.9zM623.2 338.5H626.4V340.8H623.2zM626.4 336.1H629.6V338.5H626.4zM629.6 333.8H632.9V336.1H629.6zM632.9 331.5H636.1V333.8H632.9zM636.1 329.1H639.4V331.5H636.1zM639.4 326.8H642.6V329.1H639.4z"/><path fill="#94ccf5" stroke="#94ccf5" stroke-width="0.5" d="M512.9 364.2H558.3V366.6H512.9zM584.2 359.6H587.5V361.9H584.2zM590.7 357.2H594.0V359.6H590.7zM597.2 354.9H600.4V357.2H597.2zM603.7 352.5H606.9V354.9H603.7zM639.4 329.1H642.6V331.5H639.4zM642.6 326.8H645.9V329.1H642.6zM645.9 324.4H649.1V326.8H645.9z"/><path fill="#91c9f4" stroke="#91c9f4" stroke-width="0.5" d="M503.1 364.2H512.9V366.6H503.1zM558.3 364.2H568.0V366.6H558.3zM577.7 361.9H581.0V364.2H577.7zM610.2 350.2H613.4V352.5H610.2zM613.4 347.8H616.7V350.2H613.4zM616.7 345.5H619.9V347.8H616.7zM619.9 343.2H623.2V345.5H619.9zM623.2 340.8H626.4V343.2H623.2zM626.4 338.5H629.6V340.8H626.4zM629.6 336.1H632.9V338.5H629.6zM632.9 333.8H636.1V336.1H632.9zM636.1 331.5H639.4V333.8H636.1zM642.6 329.1H645.9V331.5H642.6zM645.9 326.8H649.1V329.1H645.9z"/><path fill="#8ec6f3" stroke="#8ec6f3" stroke-width="0.5" d="M499.9 364.2H503.1V366.6H499.9zM568.0 364.2H571.3V366.6H568.0zM581.0 361.9H584.2V364.2H581.0zM606.9 352.5H610.2V354.9H606.9zM632.9 336.1H636.1V338.5H632.9zM636.1 333.8H639.4V336.1H636.1zM639.4 331.5H642.6V333.8H639.4zM645.9 329.1H649.1V331.5H645.9z"/><path fill="#8ac2f3" stroke="#8ac2f3" stroke-width="0.5" d="M571.3 364.2H574.5V366.6H571.3zM587.5 359.6H590.7V361.9H587.5zM600.4 354.9H603.7V357.2H600.4zM613.4 350.2H616.7V352.5H613.4zM616.7 347.8H619.9V350.2H616.7zM619.9 345.5H623.2V347.8H619.9zM623.2 343.2H626.4V345.5H623.2zM626.4 340.8H629.6V343.2H626.4zM629.6 338.5H632.9V340.8H629.6zM639.4 333.8H642.6V336.1H639.4zM642.6 331.5H645.9V333.8H642.6z"/><path fill="#87bef2" stroke="#87bef2" stroke-width="0.5" d="M574.5 364.2H577.7V366.6H574.5zM584.2 361.9H587.5V364.2H584.2zM594.0 357.2H597.2V359.6H594.0zM629.6 340.8H632.9V343.2H629.6zM632.9 338.5H636.1V340.8H632.9zM636.1 336.1H639.4V338.5H636.1zM642.6 333.8H645.9V336.1H642.6zM645.9 331.5H649.1V333.8H645.9z"/><path fill="#84bbf1" stroke="#84bbf1" stroke-width="0.5" d="M577.7 364.2H584.2V366.6H577.7zM610.2 352.5H613.4V354.9H610.2zM616.7 350.2H619.9V352.5H616.7zM619.9 347.8H623.2V350.2H619.9zM623.2 345.5H626.4V347.8H623.2zM626.4 343.2H629.6V345.5H626.4zM632.9 340.8H636.1V343.2H632.9zM636.1 338.5H639.4V340.8H636.1zM639.4 336.1H642.6V338.5H639.4zM645.9 333.8H649.1V336.1H645.9z"/><path fill="#80b8f1" stroke="#80b8f1" stroke-width="0.5" d="M587.5 361.9H590.7V364.2H587.5zM590.7 359.6H594.0V361.9H590.7zM597.2 357.2H600.4V359.6H597.2zM603.7 354.9H606.9V357.2H603.7zM613.4 352.5H616.7V354.9H613.4zM629.6 343.2H632.9V345.5H629.6zM639.4 338.5H642.6V340.8H639.4zM642.6 336.1H645.9V338.5H642.6z"/><path fill="#7db4f0" stroke="#7db4f0" stroke-width="0.5" d="M584.2 364.2H587.5V366.6H584.2zM616.7 352.5H619.9V354.9H616.7zM619.9 350.2H623.2V352.5H619.9zM623.2 347.8H626.4V350.2H623.2zM626.4 345.5H629.6V347.8H626.4zM632.9 343.2H636.1V345.5H632.9zM636.1 340.8H642.6V343.2H636.1zM642.6 338.5H645.9V340.8H642.6zM645.9 336.1H649.1V338.5H645.9z"/><path fill="#79b0f0" stroke="#79b0f0" stroke-width="0.5" d="M587.5 364.2H590.7V366.6H587.5zM590.7 361.9H594.0V364.2H590.7zM594.0 359.6H597.2V361.9H594.0zM606.9 354.9H610.2V357.2H606.9zM623.2 350.2H626.4V352.5H623.2zM626.4 347.8H629.6V350.2H626.4zM629.6 345.5H632.9V347.8H629.6zM636.1 343.2H639.4V345.5H636.1zM642.6 340.8H645.9V343.2H642.6zM645.9 338.5H649.1V340.8H645.9z"/><path fill="#76acef" stroke="#76acef" stroke-width="0.5" d="M600.4 357.2H603.7V359.6H600.4zM619.9 352.5H623.2V354.9H619.9zM626.4 350.2H629.6V352.5H626.4zM629.6 347.8H632.9V350.2H629.6zM632.9 345.5H639.4V347.8H632.9zM639.4 343.2H645.9V345.5H639.4zM645.9 340.8H649.1V343.2H645.9z"/><path fill="#72a8ef" stroke="#72a8ef" stroke-width="0.5" d="M590.7 364.2H594.0V366.6H590.7zM594.0 361.9H597.2V364.2H594.0zM597.2 359.6H600.4V361.9H597.2zM610.2 354.9H613.4V357.2H610.2zM623.2 352.5H626.4V354.9H623.2zM629.6 350.2H632.9V352.5H629.6zM632.9 347.8H636.1V350.2H632.9zM639.4 345.5H642.6V347.8H639.4zM645.9 343.2H649.1V345.5H645.9z"/><path fill="#6ea3ee" stroke="#6ea3ee" stroke-width="0.5" d="M594.0 364.2H597.2V366.6H594.0zM613.4 354.9H616.7V357.2H613.4zM626.4 352.5H632.9V354.9H626.4zM632.9 350.2H636.1V352.5H632.9zM636.1 347.8H642.6V350.2H636.1zM642.6 345.5H649.1V347.8H642.6z"/><path fill="#6a9fee" stroke="#6a9fee" stroke-width="0.5" d="M597.2 364.2H600.4V366.6H597.2zM597.2 361.9H600.4V364.2H597.2zM600.4 359.6H603.7V361.9H600.4zM603.7 357.2H606.9V359.6H603.7zM616.7 354.9H619.9V357.2H616.7zM632.9 352.5H636.1V354.9H632.9zM636.1 350.2H642.6V352.5H636.1zM642.6 347.8H649.1V350.2H642.6z"/><path fill="#679bee" stroke="#679bee" stroke-width="0.5" d="M600.4 361.9H603.7V364.2H600.4zM606.9 357.2H610.2V359.6H606.9zM619.9 354.9H623.2V357.2H619.9zM636.1 352.5H642.6V354.9H636.1zM642.6 350.2H649.1V352.5H642.6z"/><path fill="#6397ed" stroke="#6397ed" stroke-width="0.5" d="M600.4 364.2H603.7V366.6H600.4zM603.7 359.6H606.9V361.9H603.7zM623.2 354.9H626.4V357.2H623.2zM642.6 352.5H649.1V354.9H642.6z"/><path fill="#5f93ed" stroke="#5f93ed" stroke-width="0.5" d="M603.7 364.2H606.9V366.6H603.7zM603.7 361.9H606.9V364.2H603.7zM606.9 359.6H610.2V361.9H606.9zM610.2 357.2H613.4V359.6H610.2zM626.4 354.9H632.9V357.2H626.4z"/><path fill="#5b8eec" stroke="#5b8eec" stroke-width="0.5" d="M606.9 364.2H610.2V366.6H606.9zM606.9 361.9H610.2V364.2H606.9zM613.4 357.2H616.7V359.6H613.4zM632.9 354.9H636.1V357.2H632.9z"/><path fill="#588aec" stroke="#588aec" stroke-width="0.5" d="M610.2 364.2H613.4V366.6H610.2zM610.2 361.9H613.4V364.2H610.2zM610.2 359.6H613.4V361.9H610.2zM616.7 357.2H619.9V359.6H616.7zM636.1 354.9H645.9V357.2H636.1z"/><path fill="#5486eb" stroke="#5486eb" stroke-width="0.5" d="M613.4 364.2H616.7V366.6H613.4zM613.4 361.9H616.7V364.2H613.4zM613.4 359.6H616.7V361.9H613.4zM619.9 357.2H623.2V359.6H619.9zM645.9 354.9H649.1V357.2H645.9z"/><path fill="#5082eb" stroke="#5082eb" stroke-width="0.5" d="M616.7 364.2H623.2V366.6H616.7zM616.7 361.9H623.2V364.2H616.7zM616.7 359.6H623.2V361.9H616.7zM623.2 357.2H632.9V359.6H623.2z"/><path fill="#4d7eea" stroke="#4d7eea" stroke-width="0.5" d="M623.2 364.2H629.6V366.6H623.2zM623.2 361.9H629.6V364.2H623.2zM623.2 359.6H629.6V361.9H623.2zM632.9 357.2H639.4V359.6H632.9z"/><path fill="#4a7ae9" stroke="#4a7ae9" stroke-width="0.5" d="M629.6 364.2H639.4V366.6H629.6zM629.6 361.9H639.4V364.2H629.6zM629.6 359.6H639.4V361.9H629.6zM639.4 357.2H649.1V359.6H639.4z"/><path fill="#4775e8" stroke="#4775e8" stroke-width="0.5" d="M639.4 364.2H649.1V366.6H639.4zM639.4 361.9H649.1V364.2H639.4zM639.4 359.6H649.1V361.9H639.4z"/><path fill="#2d50e1" stroke="#2d50e1" stroke-width="0.5" d="M499.9 366.6H649.1V367.8H499.9z"/></g>
<rect x="496.30" y="215.10" width="156.10" height="155.90" fill="none" stroke="#e6e6e6" stroke-width="1"/>
<path d="M499.91 371.00v-1.5M499.91 215.10v1.5M506.40 371.00v-1.5M506.40 215.10v1.5M512.88 371.00v-1.5M512.88 215.10v1.5M519.37 371.00v-2.6M519.37 215.10v2.6M525.86 371.00v-1.5M525.86 215.10v1.5M532.34 371.00v-1.5M532.34 215.10v1.5M538.83 371.00v-1.5M538.83 215.10v1.5M545.32 371.00v-1.5M545.32 215.10v1.5M551.80 371.00v-2.6M551.80 215.10v2.6M558.29 371.00v-1.5M558.29 215.10v1.5M564.78 371.00v-1.5M564.78 215.10v1.5M571.26 371.00v-1.5M571.26 215.10v1.5M577.75 371.00v-1.5M577.75 215.10v1.5M584.24 371.00v-2.6M584.24 215.10v2.6M590.72 371.00v-1.5M590.72 215.10v1.5M597.21 371.00v-1.5M597.21 215.10v1.5M603.69 371.00v-1.5M603.69 215.10v1.5M610.18 371.00v-1.5M610.18 215.10v1.5M616.67 371.00v-2.6M616.67 215.10v2.6M623.15 371.00v-1.5M623.15 215.10v1.5M629.64 371.00v-1.5M629.64 215.10v1.5M636.13 371.00v-1.5M636.13 215.10v1.5M642.61 371.00v-1.5M642.61 215.10v1.5M649.10 371.00v-2.6M649.10 215.10v2.6M496.30 367.75h2.6M652.40 367.75h-2.6M496.30 363.07h1.5M652.40 363.07h-1.5M496.30 358.38h1.5M652.40 358.38h-1.5M496.30 353.70h1.5M652.40 353.70h-1.5M496.30 349.02h1.5M652.40 349.02h-1.5M496.30 344.34h2.6M652.40 344.34h-2.6M496.30 339.65h1.5M652.40 339.65h-1.5M496.30 334.97h1.5M652.40 334.97h-1.5M496.30 330.29h1.5M652.40 330.29h-1.5M496.30 325.60h1.5M652.40 325.60h-1.5M496.30 320.92h2.6M652.40 320.92h-2.6M496.30 316.24h1.5M652.40 316.24h-1.5M496.30 311.56h1.5M652.40 311.56h-1.5M496.30 306.87h1.5M652.40 306.87h-1.5M496.30 302.19h1.5M652.40 302.19h-1.5M496.30 297.51h2.6M652.40 297.51h-2.6M496.30 292.82h1.5M652.40 292.82h-1.5M496.30 288.14h1.5M652.40 288.14h-1.5M496.30 283.46h1.5M652.40 283.46h-1.5M496.30 278.78h1.5M652.40 278.78h-1.5M496.30 274.09h2.6M652.40 274.09h-2.6M496.30 269.41h1.5M652.40 269.41h-1.5M496.30 264.73h1.5M652.40 264.73h-1.5M496.30 260.05h1.5M652.40 260.05h-1.5M496.30 255.36h1.5M652.40 255.36h-1.5M496.30 250.68h2.6M652.40 250.68h-2.6M496.30 246.00h1.5M652.40 246.00h-1.5M496.30 241.31h1.5M652.40 241.31h-1.5M496.30 236.63h1.5M652.40 236.63h-1.5M496.30 231.95h1.5M652.40 231.95h-1.5M496.30 227.27h2.6M652.40 227.27h-2.6M496.30 222.58h1.5M652.40 222.58h-1.5M496.30 217.90h1.5M652.40 217.90h-1.5" stroke="#b4b4b4" stroke-width="1" fill="none"/>
<text x="519.37" y="383.60" font-size="11.3" text-anchor="middle" font-family='"Liberation Serif", serif' >1</text>
<text x="551.80" y="383.60" font-size="11.3" text-anchor="middle" font-family='"Liberation Serif", serif' >2</text>
<text x="584.24" y="383.60" font-size="11.3" text-anchor="middle" font-family='"Liberation Serif", serif' >3</text>
<text x="616.67" y="383.60" font-size="11.3" text-anchor="middle" font-family='"Liberation Serif", serif' >4</text>
<text x="649.10" y="383.60" font-size="11.3" text-anchor="middle" font-family='"Liberation Serif", serif' >5</text>
<text x="495.30" y="371.55" font-size="11.3" text-anchor="end" font-family='"Liberation Serif", serif' >0</text>
<text x="495.30" y="348.14" font-size="11.3" text-anchor="end" font-family='"Liberation Serif", serif' >10</text>
<text x="495.30" y="324.72" font-size="11.3" text-anchor="end" font-family='"Liberation Serif", serif' >20</text>
<text x="495.30" y="301.31" font-size="11.3" text-anchor="end" font-family='"Liberation Serif", serif' >30</text>
<text x="495.30" y="277.89" font-size="11.3" text-anchor="end" font-family='"Liberation Serif", serif' >40</text>
<text x="495.30" y="254.48" font-size="11.3" text-anchor="end" font-family='"Liberation Serif", serif' >50</text>
<text x="495.30" y="231.07" font-size="11.3" text-anchor="end" font-family='"Liberation Serif", serif' >60</text>
<defs><linearGradient id="g1" x1="0" y1="0" x2="0" y2="1"><stop offset="0.000" stop-color="#2d50e1"/><stop offset="0.100" stop-color="#5082eb"/><stop offset="0.200" stop-color="#7db4f0"/><stop offset="0.300" stop-color="#a5def8"/><stop offset="0.400" stop-color="#cdf7fc"/><stop offset="0.500" stop-color="#f6fadc"/><stop offset="0.600" stop-color="#faebaa"/><stop offset="0.700" stop-color="#f2cd7d"/><stop offset="0.800" stop-color="#e8aa5f"/><stop offset="0.900" stop-color="#de8241"/><stop offset="1.000" stop-color="#d45f2d"/></linearGradient></defs>
<rect x="656.6" y="33.9" width="6.30" height="130.80" fill="url(#g1)"/>
<text x="665.20" y="169.90" font-size="11.3" text-anchor="start" font-family='"Liberation Serif", serif' >0.</text>
<text x="665.20" y="143.80" font-size="11.3" text-anchor="start" font-family='"Liberation Serif", serif' >0.2</text>
<text x="665.20" y="117.70" font-size="11.3" text-anchor="start" font-family='"Liberation Serif", serif' >0.4</text>
<text x="665.20" y="91.60" font-size="11.3" text-anchor="start" font-family='"Liberation Serif", serif' >0.6</text>
<text x="665.20" y="65.50" font-size="11.3" text-anchor="start" font-family='"Liberation Serif", serif' >0.8</text>
<text x="665.20" y="39.40" font-size="11.3" text-anchor="start" font-family='"Liberation Serif", serif' >1.0</text>
<defs><linearGradient id="g2" x1="0" y1="0" x2="0" y2="1"><stop offset="0.000" stop-color="#2d50e1"/><stop offset="0.100" stop-color="#5082eb"/><stop offset="0.200" stop-color="#7db4f0"/><stop offset="0.300" stop-color="#a5def8"/><stop offset="0.400" stop-color="#cdf7fc"/><stop offset="0.500" stop-color="#f6fadc"/><stop offset="0.600" stop-color="#faebaa"/><stop offset="0.700" stop-color="#f2cd7d"/><stop offset="0.800" stop-color="#e8aa5f"/><stop offset="0.900" stop-color="#de8241"/><stop offset="1.000" stop-color="#d45f2d"/></linearGradient></defs>
<rect x="656.6" y="240.0" width="6.30" height="130.80" fill="url(#g2)"/>
<text x="665.20" y="375.00" font-size="11.3" text-anchor="start" font-family='"Liberation Serif", serif' >0.</text>
<text x="665.20" y="348.90" font-size="11.3" text-anchor="start" font-family='"Liberation Serif", serif' >0.2</text>
<text x="665.20" y="322.80" font-size="11.3" text-anchor="start" font-family='"Liberation Serif", serif' >0.4</text>
<text x="665.20" y="296.70" font-size="11.3" text-anchor="start" font-family='"Liberation Serif", serif' >0.6</text>
<text x="665.20" y="270.60" font-size="11.3" text-anchor="start" font-family='"Liberation Serif", serif' >0.8</text>
<text x="665.20" y="244.50" font-size="11.3" text-anchor="start" font-family='"Liberation Serif", serif' >1.0</text>
<text x="116.70" y="193.90" font-size="11.0" text-anchor="middle" font-family='"Liberation Serif", serif'>ΔE/<tspan font-style="italic">ω</tspan></text>
<text x="345.20" y="193.90" font-size="11.0" text-anchor="middle" font-family='"Liberation Serif", serif'>ΔE/<tspan font-style="italic">ω</tspan></text>
<text x="574.40" y="193.90" font-size="11.0" text-anchor="middle" font-family='"Liberation Serif", serif'>ΔE/<tspan font-style="italic">ω</tspan></text>
<text x="116.70" y="400.40" font-size="11.0" text-anchor="middle" font-family='"Liberation Serif", serif'>ΔE/<tspan font-style="italic">ω</tspan><tspan font-size="7.5" baseline-shift="-2.2">1</tspan></text>
<text x="345.20" y="400.40" font-size="11.0" text-anchor="middle" font-family='"Liberation Serif", serif'>ΔE/<tspan font-style="italic">ω</tspan><tspan font-size="7.5" baseline-shift="-2.2">1</tspan></text>
<text x="574.40" y="400.40" font-size="11.0" text-anchor="middle" font-family='"Liberation Serif", serif'>ΔE/<tspan font-style="italic">ω</tspan><tspan font-size="7.5" baseline-shift="-2.2">1</tspan></text>
<text transform="translate(8.00,85.50) rotate(-90)" font-size="11.0" text-anchor="middle" font-family='"Liberation Serif", serif'><tspan font-style="italic">k</tspan><tspan font-size="7.5" baseline-shift="-2.2">T</tspan>/<tspan font-style="italic">ω</tspan></text>
<text transform="translate(8.00,292.00) rotate(-90)" font-size="11.0" text-anchor="middle" font-family='"Liberation Serif", serif'><tspan font-style="italic">k</tspan><tspan font-size="7.5" baseline-shift="-2.2">T</tspan>/<tspan font-style="italic">ω</tspan><tspan font-size="7.5" baseline-shift="-2.2">1</tspan></text>
<text transform="translate(248.90,87.10) rotate(-90)" font-size="11.0" text-anchor="middle" font-family='"Liberation Serif", serif'><tspan font-style="italic">ω</tspan>t/(2<tspan font-style="italic">π</tspan>)</text>
<text transform="translate(477.90,87.10) rotate(-90)" font-size="11.0" text-anchor="middle" font-family='"Liberation Serif", serif'><tspan font-style="italic">ω</tspan>t/(2<tspan font-style="italic">π</tspan>)</text>
<text transform="translate(248.90,292.00) rotate(-90)" font-size="11.0" text-anchor="middle" font-family='"Liberation Serif", serif'><tspan font-style="italic">ω</tspan><tspan font-size="7.5" baseline-shift="-2.2">1</tspan>t/(2<tspan font-style="italic">π</tspan>)</text>
<text transform="translate(477.90,292.00) rotate(-90)" font-size="11.0" text-anchor="middle" font-family='"Liberation Serif", serif'><tspan font-style="italic">ω</tspan><tspan font-size="7.5" baseline-shift="-2.2">1</tspan>t/(2<tspan font-style="italic">π</tspan>)</text>
<text x="656.5" y="20.8" font-size="13.3" font-family='"Liberation Serif", serif'><tspan font-style="italic">P</tspan><tspan font-size="9.5" baseline-shift="-2.6" font-style="italic">D</tspan>(<tspan font-style="italic">t</tspan>)</text>
<text x="656.5" y="226.9" font-size="13.3" font-family='"Liberation Serif", serif'><tspan font-style="italic">P</tspan><tspan font-size="9.5" baseline-shift="-2.6" font-style="italic">D</tspan>(<tspan font-style="italic">t</tspan>)</text>
<text x="5.30" y="17.80" font-size="14" text-anchor="start" font-family='"Liberation Sans", sans-serif' font-weight="bold">a</text>
<text x="236.70" y="18.20" font-size="14" text-anchor="start" font-family='"Liberation Sans", sans-serif' font-weight="bold">b</text>
<text x="466.00" y="18.20" font-size="14" text-anchor="start" font-family='"Liberation Sans", sans-serif' font-weight="bold">c</text>
<text x="5.30" y="223.50" font-size="14" text-anchor="start" font-family='"Liberation Sans", sans-serif' font-weight="bold">d</text>
<text x="236.70" y="223.50" font-size="14" text-anchor="start" font-family='"Liberation Sans", sans-serif' font-weight="bold">e</text>
<text x="466.00" y="223.50" font-size="14" text-anchor="start" font-family='"Liberation Sans", sans-serif' font-weight="bold">f</text>
</svg></body></html>
